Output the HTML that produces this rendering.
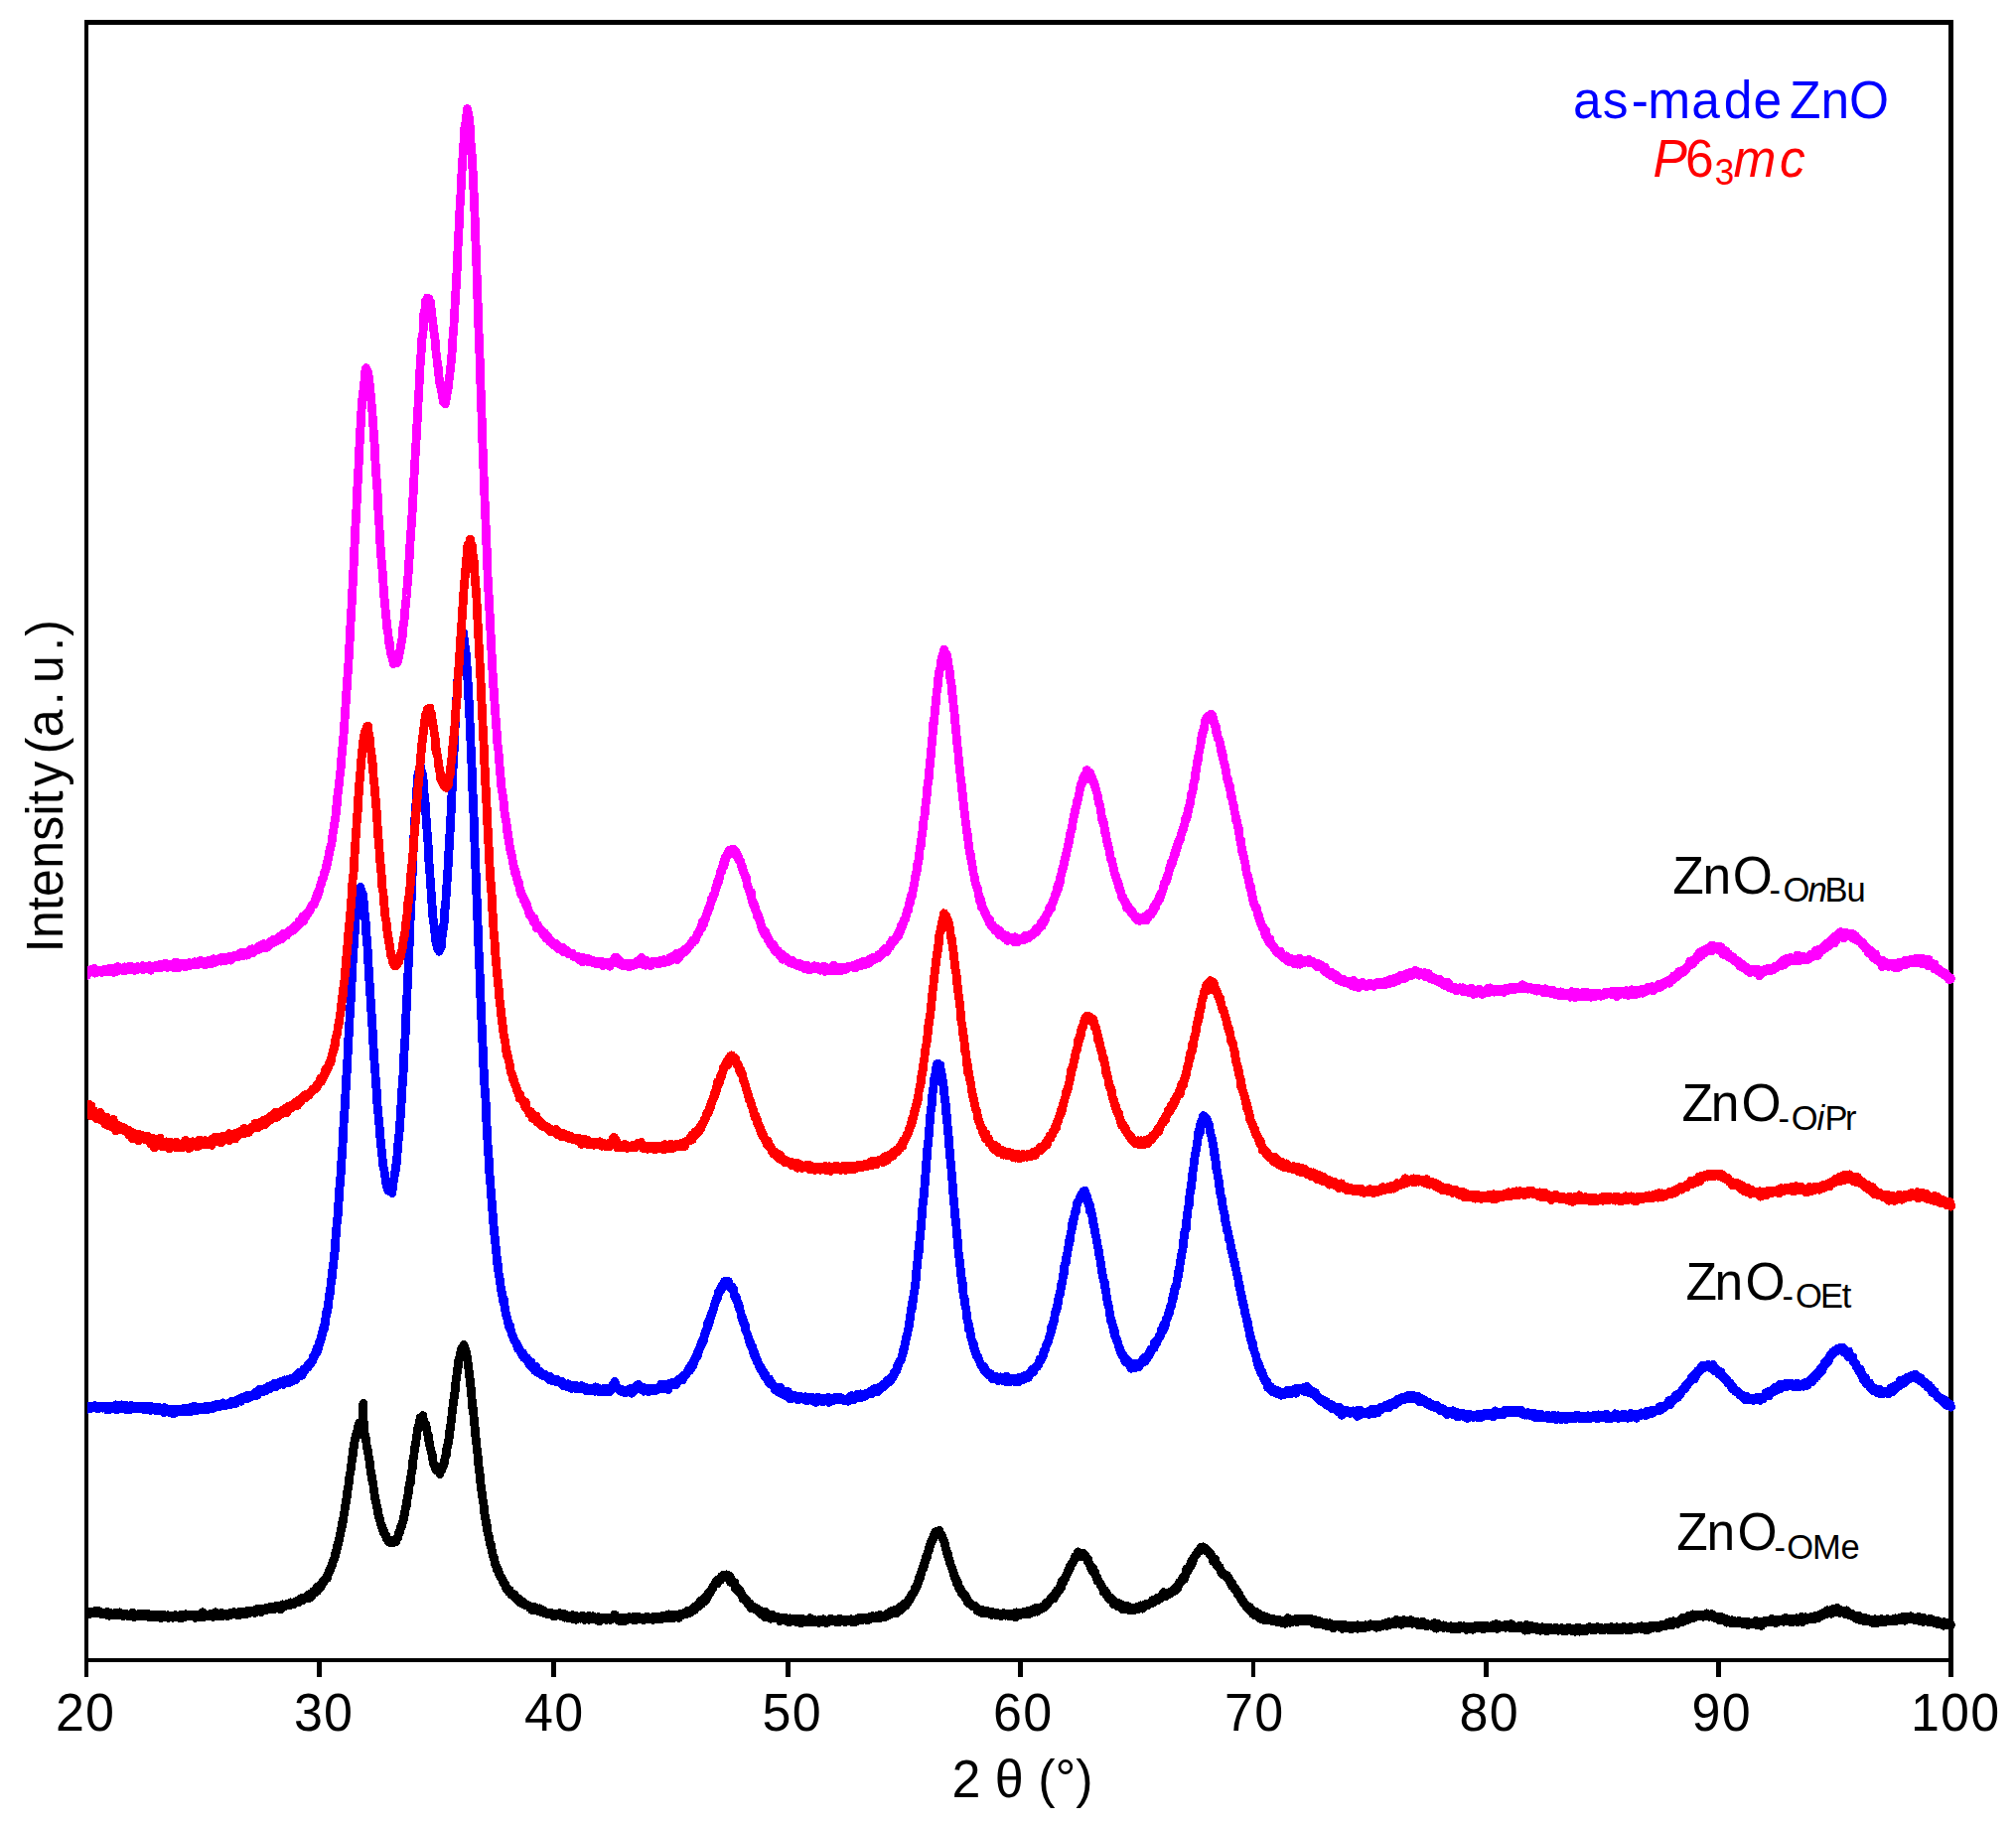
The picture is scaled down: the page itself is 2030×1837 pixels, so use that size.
<!DOCTYPE html>
<html lang="en"><head><meta charset="utf-8"><title>XRD as-made ZnO</title>
<style>
html,body{margin:0;padding:0;background:#fff}
svg{display:block}
text{font-family:"Liberation Sans",Arial,Helvetica,sans-serif;fill:#000}
.c{fill:none;stroke-width:8.8;stroke-linejoin:round;stroke-linecap:round}
</style></head><body>
<svg width="2030" height="1837" viewBox="0 0 2030 1837">
<rect width="2030" height="1837" fill="#fff"/>
<defs><clipPath id="cp"><rect x="88" y="0" width="1942" height="1837"/></clipPath></defs>
<g fill="#000" shape-rendering="crispEdges">
<rect x="85" y="20" width="1882" height="5"/>
<rect x="85" y="1670" width="1882" height="4"/>
<rect x="85" y="20" width="4" height="1669"/>
<rect x="1962" y="20" width="5" height="1669"/>
<rect x="319" y="1672" width="5" height="17"/>
<rect x="555" y="1672" width="5" height="17"/>
<rect x="791" y="1672" width="5" height="17"/>
<rect x="1025" y="1672" width="5" height="17"/>
<rect x="1260" y="1672" width="4" height="17"/>
<rect x="1494" y="1672" width="5" height="17"/>
<rect x="1728" y="1672" width="5" height="17"/>
</g>
<text transform="translate(86.0,1743.3) scale(1,1.02)" font-size="52" text-anchor="middle" letter-spacing="1.2">20</text>
<text transform="translate(326.0,1743.3) scale(1,1.02)" font-size="52" text-anchor="middle" letter-spacing="1.2">30</text>
<text transform="translate(558.2,1743.3) scale(1,1.02)" font-size="52" text-anchor="middle" letter-spacing="1.2">40</text>
<text transform="translate(797.7,1743.3) scale(1,1.02)" font-size="52" text-anchor="middle" letter-spacing="1.2">50</text>
<text transform="translate(1030.2,1743.3) scale(1,1.02)" font-size="52" text-anchor="middle" letter-spacing="1.2">60</text>
<text transform="translate(1263.2,1743.3) scale(1,1.02)" font-size="52" text-anchor="middle" letter-spacing="1.2">70</text>
<text transform="translate(1499.7,1743.3) scale(1,1.02)" font-size="52" text-anchor="middle" letter-spacing="1.2">80</text>
<text transform="translate(1733.7,1743.3) scale(1,1.02)" font-size="52" text-anchor="middle" letter-spacing="1.2">90</text>
<text transform="translate(1969.1,1743.3) scale(1,1.02)" font-size="52" text-anchor="middle" letter-spacing="1.2">100</text>
<text transform="translate(1029.5,1810) scale(1,1.04)" font-size="52" text-anchor="middle" xml:space="preserve">2 θ (°)</text>
<text transform="translate(62.5,791.5) rotate(-90) scale(1,1.04)" font-size="50" text-anchor="middle" letter-spacing="0.25" xml:space="preserve">Intensit<tspan dx="4.2">y</tspan><tspan dx="-6.8"> (a</tspan><tspan dx="4.1">.</tspan><tspan dx="-6.2"> u</tspan><tspan dx="4.2">.</tspan><tspan dx="1">)</tspan></text>
<text transform="translate(1584,118.5) scale(1,1.04)" font-size="51.5" text-anchor="start" style="fill:#00f"><tspan letter-spacing="1.2">as<tspan dx="2">-</tspan><tspan dx="-2">ma</tspan><tspan dx="2.7">de</tspan></tspan><tspan x="218" letter-spacing="0"> </tspan><tspan x="218">ZnO</tspan></text>
<text transform="translate(0,177.8) scale(1,1.04)" font-size="51.5" text-anchor="start" style="fill:#f00"><tspan x="1664.5" font-style="italic">P</tspan><tspan x="1697">6</tspan><tspan x="1726.8" font-size="35" dy="7.7">3</tspan><tspan x="1745.5" dy="-7.7" font-style="italic">m</tspan><tspan x="1792" font-style="italic">c</tspan></text>
<text transform="translate(0,899.8) scale(1,1.04)" font-size="51.5" text-anchor="start"><tspan x="1684.3">Z</tspan><tspan x="1714.6">n</tspan><tspan x="1744.8">O</tspan><tspan x="1781.6" font-size="34.5" dy="7.69">-</tspan><tspan x="1795.4" font-size="34.5">O</tspan><tspan x="1820.5" font-size="34.5" font-style="italic">n</tspan><tspan x="1837.6" font-size="34.5">B</tspan><tspan x="1859.6" font-size="34.5">u</tspan></text>
<text transform="translate(0,1128.75) scale(1,1.04)" font-size="51.5" text-anchor="start"><tspan x="1693.5">Z</tspan><tspan x="1722.7">n</tspan><tspan x="1753.6">O</tspan><tspan x="1790.5" font-size="34.5" dy="8.70">-</tspan><tspan x="1803.7" font-size="34.5">O</tspan><tspan x="1829.4" font-size="34.5" font-style="italic">i</tspan><tspan x="1837.6" font-size="34.5">P</tspan><tspan x="1857.9" font-size="34.5">r</tspan></text>
<text transform="translate(0,1308.75) scale(1,1.04)" font-size="51.5" text-anchor="start"><tspan x="1697.5">Z</tspan><tspan x="1726.6">n</tspan><tspan x="1757.5">O</tspan><tspan x="1794.4" font-size="34.5" dy="7.74">-</tspan><tspan x="1808.1" font-size="34.5">O</tspan><tspan x="1833.1" font-size="34.5">E</tspan><tspan x="1854.8" font-size="34.5">t</tspan></text>
<text transform="translate(0,1561) scale(1,1.04)" font-size="51.5" text-anchor="start"><tspan x="1688.3">Z</tspan><tspan x="1718.6">n</tspan><tspan x="1749.5">O</tspan><tspan x="1786.5" font-size="34.5" dy="8.56">-</tspan><tspan x="1799.2" font-size="34.5">O</tspan><tspan x="1825.1" font-size="34.5">M</tspan><tspan x="1853.5" font-size="34.5">e</tspan></text>
<g clip-path="url(#cp)" shape-rendering="crispEdges">
<path class="c" stroke="#000" d="M87,1624.0L87.5,1624.4 87.9,1623.8 88.4,1623.2 88.9,1623.7 89.3,1623.2 89.8,1624.3 90.3,1625.6 90.8,1623.8 91.2,1623.7 91.7,1624.8 92.2,1624.7 92.6,1624.5 93.1,1623.4 93.6,1624.4 94,1625.1 94.5,1623.1 95,1624 95.4,1622.6 95.9,1623.2 96.4,1622.7 96.9,1624.4 97.3,1623.3 97.8,1624.9 98.3,1624.8 98.7,1624.5 99.2,1622.2 99.7,1624.2 100.1,1624.7 100.6,1624.9 101.1,1623.3 101.6,1624.4 102,1623.9 102.5,1624.1 103,1626 103.4,1624.1 103.9,1624.9 104.4,1625.9 104.8,1624.4 105.3,1624.9 105.8,1625.2 106.2,1625.1 106.7,1623.9 107.2,1625.2 107.7,1626.5 108.1,1623.6 108.6,1626.1 109.1,1625.3 109.5,1624.6 110,1627.3 110.5,1626.1 110.9,1624.1 111.4,1625.4 111.9,1625.9 112.3,1625.2 112.8,1626.1 113.3,1625.4 113.8,1626.1 114.2,1626.9 114.7,1624.8 115.2,1625.7 115.6,1625.1 116.1,1625.7 116.6,1624.4 117,1625 117.5,1625.4 118,1626.6 118.4,1626.8 118.9,1624.4 119.4,1624.9 119.9,1626.4 120.3,1623.8 120.8,1625.3 121.3,1625.7 121.7,1627.1 122.2,1626.6 122.7,1625.6 123.1,1625.5 123.6,1625.7 124.1,1627.5 124.5,1625.5 125,1625.7 125.5,1626.4 126,1625.9 126.4,1625.9 126.9,1625 127.4,1626.1 127.8,1625.7 128.3,1627.3 128.8,1626.8 129.2,1626.2 129.7,1626.9 130.2,1625.9 130.7,1627.3 131.1,1626.3 131.6,1626.9 132.1,1625 132.5,1626.7 133,1624.7 133.5,1624.3 133.9,1626.1 134.4,1625.5 134.9,1626.6 135.3,1628.7 135.8,1625.6 136.3,1625.9 136.8,1626.7 137.2,1627 137.7,1626.4 138.2,1626.4 138.6,1627.3 139.1,1627.1 139.6,1625.6 140,1626.6 140.5,1626.7 141,1625.7 141.4,1627 141.9,1625.9 142.4,1627.8 142.9,1627 143.3,1626.9 143.8,1626.3 144.3,1626.8 144.7,1624.9 145.2,1625.8 145.7,1627.3 146.1,1624.9 146.6,1627.9 147.1,1625.3 147.5,1627.8 148,1626.2 148.5,1627.9 149,1627.3 149.4,1625.6 149.9,1628.4 150.4,1628.7 150.8,1627.2 151.3,1627 151.8,1627.1 152.2,1626.3 152.7,1628.4 153.2,1626.8 153.7,1627.3 154.1,1626.6 154.6,1626.8 155.1,1626.2 155.5,1628.7 156,1627.3 156.5,1628.5 156.9,1627.5 157.4,1626.9 157.9,1627.3 158.3,1627 158.8,1627.6 159.3,1627.3 159.8,1627.4 160.2,1626.3 160.7,1626.9 161.2,1629.4 161.6,1627.1 162.1,1626.7 162.6,1628.1 163,1629.2 163.5,1626.3 164,1627.6 164.4,1627.2 164.9,1626.1 165.4,1628.6 165.9,1627.9 166.3,1628 166.8,1627.1 167.3,1628.4 167.7,1627.4 168.2,1627.8 168.7,1626.8 169.1,1626.7 169.6,1629.3 170.1,1627.5 170.5,1628.3 171,1628 171.5,1627.6 172,1627.5 172.4,1628.6 172.9,1627.7 173.4,1627.9 173.8,1628 174.3,1629.2 174.8,1628.7 175.2,1628.4 175.7,1627.4 176.2,1626.6 176.7,1629 177.1,1629 177.6,1627.9 178.1,1628.5 178.5,1628.8 179,1628.8 179.5,1628.9 179.9,1627.5 180.4,1629.5 180.9,1626.7 181.3,1628.8 181.8,1628.4 182.3,1628.8 182.8,1629.8 183.2,1629.4 183.7,1626.7 184.2,1626.2 184.6,1628.7 185.1,1626.8 185.6,1627.8 186,1628.6 186.5,1626.1 187,1625.7 187.4,1628 187.9,1627.8 188.4,1627.5 188.9,1627.8 189.3,1626.8 189.8,1626.2 190.3,1627.5 190.7,1626.7 191.2,1626 191.7,1628.1 192.1,1627.5 192.6,1628 193.1,1626.6 193.5,1626.9 194,1626.5 194.5,1626.6 195,1627.7 195.4,1626.7 195.9,1627.8 196.4,1627.8 196.8,1629.5 197.3,1626 197.8,1628.3 198.2,1627.3 198.7,1627.3 199.2,1625.9 199.6,1626.9 200.1,1628 200.6,1627.2 201.1,1627.3 201.5,1627 202,1628.4 202.5,1627.2 202.9,1625 203.4,1626.5 203.9,1625.2 204.3,1623.8 204.8,1626.6 205.3,1628.4 205.8,1627.1 206.2,1625.9 206.7,1626.1 207.2,1628.1 207.6,1627.1 208.1,1627 208.6,1626.9 209,1626.9 209.5,1627.7 210,1627.4 210.4,1627 210.9,1625.7 211.4,1627.3 211.9,1626.1 212.3,1627.8 212.8,1625.4 213.3,1626.5 213.7,1626.6 214.2,1625.3 214.7,1628.3 215.1,1628 215.6,1626.1 216.1,1627.3 216.5,1626.9 217,1623.8 217.5,1626.7 218,1626.4 218.4,1626.5 218.9,1625.3 219.4,1626.1 219.8,1626.1 220.3,1627.5 220.8,1626.6 221.2,1626.2 221.7,1627.7 222.2,1625.6 222.6,1625.7 223.1,1624.3 223.6,1627.7 224.1,1627 224.5,1626.9 225,1626.7 225.5,1626.1 225.9,1626.1 226.4,1625.6 226.9,1625.7 227.3,1625.9 227.8,1627.3 228.3,1626.3 228.8,1625.7 229.2,1625.1 229.7,1625 230.2,1627.2 230.6,1626.1 231.1,1625.6 231.6,1625.2 232,1624.4 232.5,1625.4 233,1626.3 233.4,1625 233.9,1625.1 234.4,1625 234.9,1625.3 235.3,1623.6 235.8,1624.9 236.3,1624.2 236.7,1625.9 237.2,1624.2 237.7,1625.5 238.1,1626.4 238.6,1624.5 239.1,1624.2 239.5,1624.9 240,1624.7 240.5,1623.6 241,1625.1 241.4,1626.6 241.9,1624.2 242.4,1624.2 242.8,1623.3 243.3,1624.6 243.8,1623 244.2,1623.1 244.7,1625.4 245.2,1623.2 245.6,1625.1 246.1,1625.5 246.6,1624.2 247.1,1624.4 247.5,1625.8 248,1623.5 248.5,1623.1 248.9,1622.3 249.4,1623.6 249.9,1625 250.3,1624.4 250.8,1622.4 251.3,1622.4 251.8,1622.7 252.2,1623.5 252.7,1622.9 253.2,1623.3 253.6,1623.3 254.1,1622.6 254.6,1622.8 255,1623 255.5,1622.6 256,1623.2 256.4,1624.5 256.9,1623.1 257.4,1622.5 257.9,1620.7 258.3,1622.7 258.8,1620.3 259.3,1620.7 259.7,1622.9 260.2,1622.7 260.7,1621.8 261.1,1620.1 261.6,1621.4 262.1,1621 262.5,1622.3 263,1623.9 263.5,1621.7 264,1620.6 264.4,1620.2 264.9,1621.2 265.4,1621 265.8,1620 266.3,1621.2 266.8,1619.8 267.2,1622 267.7,1621.9 268.2,1621.8 268.6,1620.2 269.1,1621.1 269.6,1620.4 270.1,1620 270.5,1620 271,1618.9 271.5,1618.7 271.9,1620.9 272.4,1619.8 272.9,1620.2 273.3,1620.9 273.8,1618 274.3,1618.9 274.7,1619.8 275.2,1619.9 275.7,1619.1 276.2,1620.4 276.6,1619.5 277.1,1617.9 277.6,1618.1 278,1619.8 278.5,1619.4 279,1616.9 279.4,1620.1 279.9,1619.2 280.4,1619.9 280.9,1618 281.3,1618 281.8,1617.1 282.3,1620.7 282.7,1617.8 283.2,1619.5 283.7,1617.2 284.1,1617.9 284.6,1615.9 285.1,1617.1 285.5,1618.4 286,1616 286.5,1618.2 287,1617.4 287.4,1615.9 287.9,1616.3 288.4,1616.2 288.8,1616.5 289.3,1615.9 289.8,1615.5 290.2,1615.9 290.7,1615 291.2,1614.6 291.6,1615.7 292.1,1616.5 292.6,1613.9 293.1,1615.4 293.5,1614.5 294,1614.1 294.5,1615.8 294.9,1614.2 295.4,1616.1 295.9,1613.7 296.3,1614.7 296.8,1613.9 297.3,1613.2 297.7,1614.4 298.2,1613.5 298.7,1614.1 299.2,1613.2 299.6,1612 300.1,1612.8 300.6,1612.8 301,1613.5 301.5,1611.4 302,1612.1 302.4,1610.2 302.9,1612.4 303.4,1610.5 303.9,1609.5 304.3,1611.1 304.8,1612.1 305.3,1609.1 305.7,1609.4 306.2,1609.5 306.7,1608.8 307.1,1610.2 307.6,1608.7 308.1,1608.5 308.5,1609.6 309,1608 309.5,1608.9 310,1607.2 310.4,1606.7 310.9,1605.7 311.4,1609.3 311.8,1606.7 312.3,1607 312.8,1606.4 313.2,1606.3 313.7,1605.8 314.2,1607.4 314.6,1604 315.1,1603.1 315.6,1603.3 316.1,1602.6 316.5,1604.4 317,1604.1 317.5,1601.8 317.9,1601 318.4,1601.6 318.9,1603 319.3,1598.2 319.8,1601.2 320.3,1599.1 320.7,1600.8 321.2,1598.1 321.7,1598.4 322.2,1596.6 322.6,1596.6 323.1,1598.5 323.6,1597.3 324,1595.4 324.5,1594.3 325,1592.6 325.4,1593.5 325.9,1593.2 326.4,1592.4 326.9,1591.7 327.3,1589.9 327.8,1590.2 328.3,1589.4 328.7,1590 329.2,1589.8 329.7,1586.7 330.1,1585.1 330.6,1584.9 331.1,1583.4 331.5,1582.2 332,1581.9 332.5,1579.7 333,1580.4 333.4,1578.5 333.9,1577.6 334.4,1575.9 334.8,1574 335.3,1572.5 335.8,1571.8 336.2,1570.1 336.7,1569.4 337.2,1567.7 337.6,1564.6 338.1,1564.5 338.6,1561.3 339.1,1560.3 339.5,1558.9 340,1555 340.5,1555.5 340.9,1553.6 341.4,1551.2 341.9,1548.8 342.3,1546.6 342.8,1543.7 343.3,1542.2 343.7,1539.5 344.2,1537.8 344.7,1533.7 345.2,1532.8 345.6,1530 346.1,1527 346.6,1523.8 347,1522.1 347.5,1516.6 348,1516.1 348.4,1512.8 348.9,1509.7 349.4,1506.7 349.8,1502.2 350.3,1499.4 350.8,1497.2 351.3,1493.6 351.7,1490 352.2,1484.5 352.7,1483.6 353.1,1481 353.6,1477.4 354.1,1473.1 354.5,1467.6 355,1467.5 355.5,1462.9 356,1456.8 356.4,1457.4 356.9,1452.2 357.4,1449.7 357.8,1447.9 358.3,1447.8 358.8,1443.5 359.2,1442.2 359.7,1442.2 360.2,1440.4 360.6,1436.9 361.1,1435.5 361.6,1433.4 362.1,1433.5 362.5,1434.6 363,1434.4 363.5,1434.3 363.9,1435.9 364.4,1434.3 364.9,1436.2 365.3,1438.4 365.8,1413.4 366.3,1442 366.7,1443 367.2,1444.2 367.7,1447.3 368.2,1447.9 368.6,1449.7 369.1,1455.1 369.6,1457.1 370,1460.4 370.5,1460.8 371,1465.4 371.4,1468.2 371.9,1470.9 372.4,1472.2 372.8,1477.7 373.3,1482.2 373.8,1484.6 374.3,1486.5 374.7,1490.1 375.2,1494 375.7,1492.7 376.1,1498.7 376.6,1502.3 377.1,1505.1 377.5,1509 378,1510.9 378.5,1512.4 379,1514.8 379.4,1517.8 379.9,1518.5 380.4,1521.3 380.8,1524.5 381.3,1527.8 381.8,1527.3 382.2,1529.3 382.7,1531.5 383.2,1534.5 383.6,1534.6 384.1,1537.9 384.6,1536.6 385.1,1539 385.5,1540.3 386,1542.7 386.5,1544.2 386.9,1542.5 387.4,1544.2 387.9,1546.6 388.3,1546.4 388.8,1546.3 389.3,1550 389.7,1550.1 390.2,1550.7 390.7,1550.2 391.2,1552.4 391.6,1551.5 392.1,1553.3 392.6,1551.4 393,1551.7 393.5,1553.1 394,1552.2 394.4,1553.7 394.9,1553.3 395.4,1551.8 395.8,1552.8 396.3,1552.1 396.8,1553.2 397.3,1551.1 397.7,1550.9 398.2,1552.2 398.7,1552.8 399.1,1551.9 399.6,1549 400.1,1548.4 400.5,1549 401,1546.1 401.5,1544.1 402,1544.3 402.4,1543.4 402.9,1540.7 403.4,1538.4 403.8,1537.2 404.3,1538.1 404.8,1534.8 405.2,1533.8 405.7,1532.4 406.2,1531 406.6,1527.9 407.1,1526.8 407.6,1523 408.1,1521.3 408.5,1518.2 409,1518.3 409.5,1514.3 409.9,1510.8 410.4,1508.6 410.9,1505.9 411.3,1504.1 411.8,1498.3 412.3,1495.9 412.7,1493.5 413.2,1493.8 413.7,1488.6 414.2,1484 414.6,1481.6 415.1,1479.8 415.6,1473.5 416,1469.9 416.5,1468.4 417,1464.1 417.4,1460.9 417.9,1456.1 418.4,1455.9 418.8,1452.5 419.3,1448.1 419.8,1445.3 420.3,1439.2 420.7,1440 421.2,1436.7 421.7,1435.4 422.1,1433.9 422.6,1431 423.1,1428 423.5,1429.7 424,1427.5 424.5,1427.6 424.9,1427.2 425.4,1427.7 425.9,1425.6 426.4,1430.9 426.8,1430.6 427.3,1432.9 427.8,1435.5 428.2,1434.6 428.7,1434.1 429.2,1437.2 429.6,1438.9 430.1,1441.9 430.6,1444.9 431.1,1444.6 431.5,1449.9 432,1449.9 432.5,1454.6 432.9,1456.4 433.4,1458.4 433.9,1460.9 434.3,1462.5 434.8,1464.5 435.3,1465.2 435.7,1469.1 436.2,1473.2 436.7,1475.1 437.2,1475.8 437.6,1476.5 438.1,1476 438.6,1479.8 439,1479 439.5,1479.8 440,1480.3 440.4,1481.3 440.9,1481.1 441.4,1481.8 441.8,1480.7 442.3,1481.5 442.8,1484.6 443.3,1481.4 443.7,1480.7 444.2,1481 444.7,1480.5 445.1,1477.3 445.6,1477.3 446.1,1477.4 446.5,1475.2 447,1473.5 447.5,1473.6 447.9,1469 448.4,1467.9 448.9,1465 449.4,1465.2 449.8,1458.5 450.3,1457.5 450.8,1455 451.2,1453.7 451.7,1450.7 452.2,1448.6 452.6,1441.6 453.1,1441.3 453.6,1436.5 454.1,1432.5 454.5,1430.5 455,1424.9 455.5,1419.6 455.9,1418 456.4,1412.7 456.9,1409.9 457.3,1407.3 457.8,1403.3 458.3,1401.1 458.7,1394.9 459.2,1389.3 459.7,1386.6 460.2,1382.8 460.6,1378.9 461.1,1377.8 461.6,1373.1 462,1368.3 462.5,1369.1 463,1365.5 463.4,1363.9 463.9,1361.5 464.4,1360.5 464.8,1358.3 465.3,1358.9 465.8,1357.1 466.3,1356.7 466.7,1356.7 467.2,1354.5 467.7,1357 468.1,1358 468.6,1360.1 469.1,1359.7 469.5,1365.9 470,1366.3 470.5,1367.2 470.9,1369.6 471.4,1374.8 471.9,1378.6 472.4,1381.6 472.8,1386.6 473.3,1389.8 473.8,1395.7 474.2,1398.4 474.7,1403.9 475.2,1409.9 475.6,1416.7 476.1,1416.7 476.6,1422.2 477.1,1426.6 477.5,1433.5 478,1435.8 478.5,1441.4 478.9,1446.7 479.4,1450.2 479.9,1454.9 480.3,1460.1 480.8,1462.6 481.3,1467.9 481.7,1473.5 482.2,1478.5 482.7,1482.3 483.2,1484.5 483.6,1490.1 484.1,1495.5 484.6,1499.1 485,1502 485.5,1504.7 486,1510 486.4,1512 486.9,1514.7 487.4,1518.4 487.8,1524.2 488.3,1525.8 488.8,1529.9 489.3,1530.9 489.7,1535.3 490.2,1536.3 490.7,1539.4 491.1,1545 491.6,1545.5 492.1,1546.4 492.5,1549.2 493,1552 493.5,1555.1 493.9,1555.3 494.4,1555.9 494.9,1559.6 495.4,1561.8 495.8,1563.7 496.3,1566.9 496.8,1567.5 497.2,1569.7 497.7,1569.2 498.2,1572.9 498.6,1575.8 499.1,1575.8 499.6,1576.6 500,1577.9 500.5,1581 501,1579.3 501.5,1581.4 501.9,1583.2 502.4,1584.7 502.9,1584.5 503.3,1586.4 503.8,1586.9 504.3,1588.3 504.7,1589 505.2,1588.9 505.7,1591 506.2,1592.9 506.6,1591.8 507.1,1593.4 507.6,1595.2 508,1594.1 508.5,1596.2 509,1595.7 509.4,1598.7 509.9,1600.7 510.4,1601.1 510.8,1599.4 511.3,1601 511.8,1601 512.3,1601.6 512.7,1603.7 513.2,1601.3 513.7,1604.3 514.1,1603.7 514.6,1605.8 515.1,1605 515.5,1604.7 516,1606.2 516.5,1607.1 516.9,1606.9 517.4,1607.8 517.9,1607.2 518.4,1605.9 518.8,1609.6 519.3,1609.8 519.8,1609.6 520.2,1609.9 520.7,1611.3 521.2,1610.1 521.6,1610.3 522.1,1611.2 522.6,1613 523,1610.6 523.5,1613.7 524,1612.1 524.5,1612 524.9,1614.7 525.4,1613.6 525.9,1612.7 526.3,1614 526.8,1615.6 527.3,1616.2 527.7,1614.8 528.2,1615.9 528.7,1616.5 529.2,1615.4 529.6,1616.7 530.1,1616.5 530.6,1616.3 531,1616.6 531.5,1617.4 532,1617.6 532.4,1617.2 532.9,1617.6 533.4,1619.4 533.8,1618.7 534.3,1619.6 534.8,1620.1 535.3,1619.7 535.7,1621.7 536.2,1618.7 536.7,1620.6 537.1,1619.6 537.6,1622 538.1,1622 538.5,1618.5 539,1619.7 539.5,1621.5 539.9,1621.8 540.4,1622 540.9,1621.3 541.4,1622 541.8,1622.4 542.3,1621.8 542.8,1623.1 543.2,1619.9 543.7,1623 544.2,1621.4 544.6,1623.6 545.1,1622.5 545.6,1622 546,1623.4 546.5,1622.3 547,1622.4 547.5,1621.8 547.9,1623.6 548.4,1624.2 548.9,1624.9 549.3,1623.8 549.8,1625.2 550.3,1624.2 550.7,1624.2 551.2,1625 551.7,1625.6 552.2,1624.3 552.6,1624.5 553.1,1624.7 553.6,1625.1 554,1624.2 554.5,1626.2 555,1624.9 555.4,1625.9 555.9,1624.7 556.4,1626 556.8,1626.1 557.3,1625.4 557.8,1627.9 558.3,1626.3 558.7,1627.9 559.2,1627.1 559.7,1625.5 560.1,1625.9 560.6,1626.8 561.1,1626.5 561.5,1626.6 562,1626.3 562.5,1624.9 562.9,1626.6 563.4,1624.6 563.9,1627.3 564.4,1626.3 564.8,1626.3 565.3,1626.9 565.8,1627.5 566.2,1625.8 566.7,1625.6 567.2,1626.3 567.6,1625.4 568.1,1626.6 568.6,1629.2 569,1626.6 569.5,1628.4 570,1626.4 570.5,1628.1 570.9,1627.6 571.4,1627.9 571.9,1628.6 572.3,1629.8 572.8,1628.3 573.3,1628.3 573.7,1627.2 574.2,1628.9 574.7,1628.1 575.1,1629.2 575.6,1628.4 576.1,1630.2 576.6,1626.5 577,1628.3 577.5,1629.5 578,1628.3 578.4,1627.9 578.9,1628.5 579.4,1627.4 579.8,1628.9 580.3,1631.3 580.8,1630.1 581.3,1627.8 581.7,1628.1 582.2,1628.6 582.7,1630.1 583.1,1628.2 583.6,1628.4 584.1,1630 584.5,1630.1 585,1628.8 585.5,1628.1 585.9,1627.7 586.4,1628.6 586.9,1627.1 587.4,1630.1 587.8,1628.8 588.3,1629.9 588.8,1631.4 589.2,1630.7 589.7,1628.4 590.2,1630.4 590.6,1630.7 591.1,1628.8 591.6,1628.7 592,1629.5 592.5,1628 593,1631.2 593.5,1627.3 593.9,1628.6 594.4,1629.5 594.9,1629.6 595.3,1630 595.8,1630.1 596.3,1629.6 596.7,1631 597.2,1627.7 597.7,1629.9 598.1,1629.2 598.6,1630.1 599.1,1630.2 599.6,1629.1 600,1629.3 600.5,1630.8 601,1630.4 601.4,1629.4 601.9,1632.1 602.4,1632.4 602.8,1628.6 603.3,1630.4 603.8,1632.7 604.3,1630.9 604.7,1630.4 605.2,1629.9 605.7,1629.6 606.1,1630 606.6,1629.6 607.1,1631 607.5,1629.8 608,1629.8 608.5,1629 608.9,1630.2 609.4,1629.3 609.9,1630.1 610.4,1631.3 610.8,1630.6 611.3,1630.8 611.8,1630.7 612.2,1630.4 612.7,1630.2 613.2,1630 613.6,1631.1 614.1,1629.2 614.6,1631.6 615,1630.2 615.5,1629.3 616,1629.4 616.5,1628.9 616.9,1629.4 617.4,1628.2 617.9,1629.8 618.3,1627.6 618.8,1626.1 619.3,1627.8 619.7,1626.7 620.2,1629.1 620.7,1630.5 621.1,1630.4 621.6,1628.7 622.1,1629.4 622.6,1632.1 623,1630.7 623.5,1630.4 624,1631.5 624.4,1632.9 624.9,1631.7 625.4,1630.5 625.8,1630.8 626.3,1631 626.8,1629.8 627.3,1629.3 627.7,1630.4 628.2,1629.4 628.7,1630.3 629.1,1630.5 629.6,1632.7 630.1,1629.5 630.5,1630.2 631,1630.2 631.5,1630.8 631.9,1631.4 632.4,1629.9 632.9,1629.5 633.4,1628.7 633.8,1629.4 634.3,1630.9 634.8,1630.4 635.2,1629.3 635.7,1629.9 636.2,1630.3 636.6,1630.8 637.1,1629.7 637.6,1630 638,1628.5 638.5,1629.1 639,1631.9 639.5,1628.1 639.9,1629.9 640.4,1630.5 640.9,1629.9 641.3,1629.4 641.8,1630.2 642.3,1630.2 642.7,1630.1 643.2,1628.3 643.7,1630 644.1,1629.3 644.6,1629.6 645.1,1630.4 645.6,1630.8 646,1631 646.5,1629.6 647,1631 647.4,1631.3 647.9,1631.2 648.4,1631.5 648.8,1629.9 649.3,1629.8 649.8,1630.8 650.2,1628.6 650.7,1630.2 651.2,1629.4 651.7,1629.6 652.1,1628.2 652.6,1629 653.1,1629.9 653.5,1630.8 654,1630.9 654.5,1629.8 654.9,1629.6 655.4,1629 655.9,1630.2 656.4,1629.5 656.8,1630.3 657.3,1631.5 657.8,1629.6 658.2,1628.1 658.7,1628.8 659.2,1628.1 659.6,1628.4 660.1,1630.9 660.6,1629.7 661,1627.9 661.5,1630.1 662,1630.7 662.5,1629 662.9,1628.7 663.4,1629 663.9,1629.6 664.3,1629.9 664.8,1630.4 665.3,1630.4 665.7,1630.3 666.2,1630.5 666.7,1629.7 667.1,1627.5 667.6,1628.8 668.1,1629.2 668.6,1628.5 669,1629.8 669.5,1628.4 670,1627.8 670.4,1630.1 670.9,1629.3 671.4,1628.8 671.8,1629.5 672.3,1629.5 672.8,1628.8 673.2,1625.9 673.7,1627.6 674.2,1627.8 674.7,1627.2 675.1,1628.3 675.6,1629.2 676.1,1627.5 676.5,1626.7 677,1629.9 677.5,1627.3 677.9,1626.4 678.4,1627.8 678.9,1627.9 679.4,1626.7 679.8,1628.1 680.3,1626.7 680.8,1626.2 681.2,1627.2 681.7,1627.7 682.2,1626.2 682.6,1627.1 683.1,1626.5 683.6,1629.4 684,1625.7 684.5,1627.7 685,1626.1 685.5,1625.9 685.9,1626.6 686.4,1626.7 686.9,1626.9 687.3,1625.8 687.8,1624.7 688.3,1624.6 688.7,1625.5 689.2,1625.4 689.7,1626.1 690.1,1624.9 690.6,1625.4 691.1,1625.7 691.6,1624.1 692,1622.2 692.5,1622.3 693,1621.9 693.4,1624.8 693.9,1622 694.4,1623.9 694.8,1623 695.3,1624 695.8,1623 696.2,1621.6 696.7,1621.2 697.2,1621.3 697.7,1621.1 698.1,1620.1 698.6,1620.3 699.1,1621.7 699.5,1617.9 700,1619.6 700.5,1618.1 700.9,1618.9 701.4,1619.2 701.9,1617.9 702.4,1618.4 702.8,1615.6 703.3,1618 703.8,1615.8 704.2,1616.6 704.7,1615.8 705.2,1612.5 705.6,1613.9 706.1,1614.5 706.6,1615.4 707,1613.6 707.5,1613.1 708,1610.8 708.5,1613.3 708.9,1613.1 709.4,1610.7 709.9,1609.9 710.3,1607.9 710.8,1609.9 711.3,1611.2 711.7,1608.6 712.2,1608.5 712.7,1607.2 713.1,1604.9 713.6,1606.7 714.1,1603.4 714.6,1603.8 715,1603.7 715.5,1603.6 716,1602.5 716.4,1601.8 716.9,1599.9 717.4,1598.6 717.8,1599.4 718.3,1597.9 718.8,1596.6 719.2,1595.9 719.7,1596.1 720.2,1594 720.7,1593.9 721.1,1592.9 721.6,1594.2 722.1,1593.9 722.5,1595 723,1590.7 723.5,1591 723.9,1592.2 724.4,1590.5 724.9,1589.9 725.3,1591.6 725.8,1589 726.3,1587.8 726.8,1587.3 727.2,1588.8 727.7,1588.5 728.2,1586.5 728.6,1586.7 729.1,1588.3 729.6,1588.3 730,1586.9 730.5,1588.3 731,1588.3 731.5,1585.9 731.9,1587.7 732.4,1588.7 732.9,1587.9 733.3,1586.5 733.8,1588.8 734.3,1590.3 734.7,1591.6 735.2,1588 735.7,1593.7 736.1,1590.1 736.6,1592.9 737.1,1593.8 737.6,1594.1 738,1593.8 738.5,1593 739,1595.6 739.4,1594.8 739.9,1593.6 740.4,1599.9 740.8,1598.4 741.3,1600.2 741.8,1598 742.2,1601.3 742.7,1602.1 743.2,1602.7 743.7,1601.8 744.1,1601.2 744.6,1603 745.1,1601.5 745.5,1602.7 746,1605.3 746.5,1604.8 746.9,1606.3 747.4,1607 747.9,1609.8 748.3,1609.8 748.8,1609 749.3,1610.9 749.8,1609.4 750.2,1610.5 750.7,1612.3 751.2,1610.6 751.6,1612.2 752.1,1611.6 752.6,1613.7 753,1615.7 753.5,1613.8 754,1615.3 754.5,1614.6 754.9,1614.8 755.4,1615.1 755.9,1618.4 756.3,1619.7 756.8,1618.2 757.3,1617.4 757.7,1619.3 758.2,1618.6 758.7,1620.1 759.1,1620 759.6,1620.3 760.1,1621 760.6,1620.1 761,1620.6 761.5,1619.6 762,1621.2 762.4,1620.5 762.9,1622.1 763.4,1621.6 763.8,1622.9 764.3,1623.6 764.8,1621.9 765.2,1622.8 765.7,1622.9 766.2,1624.9 766.7,1626.1 767.1,1625.4 767.6,1624.4 768.1,1626.5 768.5,1623.7 769,1627 769.5,1625 769.9,1623 770.4,1628.7 770.9,1627.8 771.3,1625.3 771.8,1626.7 772.3,1626.5 772.8,1627 773.2,1625.5 773.7,1626.5 774.2,1627.8 774.6,1627.7 775.1,1628.8 775.6,1627.8 776,1630.3 776.5,1627.3 777,1628.4 777.5,1626.3 777.9,1627.1 778.4,1629.8 778.9,1627.6 779.3,1629.2 779.8,1628.8 780.3,1627.9 780.7,1628.7 781.2,1628.6 781.7,1628.7 782.1,1630.1 782.6,1630.1 783.1,1628.9 783.6,1628.7 784,1629.9 784.5,1629.6 785,1630.9 785.4,1632.6 785.9,1630.8 786.4,1630 786.8,1629.9 787.3,1629.3 787.8,1629.3 788.2,1629.3 788.7,1630 789.2,1630 789.7,1631.3 790.1,1630.2 790.6,1630.4 791.1,1629.5 791.5,1632.4 792,1631.3 792.5,1632.7 792.9,1631.7 793.4,1632.5 793.9,1630.8 794.3,1631.8 794.8,1633.8 795.3,1629.9 795.8,1632.4 796.2,1633 796.7,1631.7 797.2,1632.1 797.6,1632.7 798.1,1630.7 798.6,1631.9 799,1630.6 799.5,1630.8 800,1630.9 800.4,1631.5 800.9,1631.8 801.4,1632.1 801.9,1630.2 802.3,1633.8 802.8,1633 803.3,1632.5 803.7,1631.5 804.2,1631.8 804.7,1632.5 805.1,1632.3 805.6,1630.2 806.1,1632.7 806.6,1635 807,1630.1 807.5,1633.1 808,1632.4 808.4,1632 808.9,1633.5 809.4,1630.9 809.8,1632.3 810.3,1633.7 810.8,1632 811.2,1631.8 811.7,1632.3 812.2,1631.8 812.7,1633.9 813.1,1631.3 813.6,1633.2 814.1,1631 814.5,1633 815,1632.2 815.5,1629.7 815.9,1632.4 816.4,1631.3 816.9,1631.9 817.3,1634 817.8,1631.2 818.3,1631.3 818.8,1633.9 819.2,1632.6 819.7,1634 820.2,1632.8 820.6,1631.5 821.1,1632.4 821.6,1633.7 822,1633.5 822.5,1632.5 823,1632.5 823.4,1632.4 823.9,1631.9 824.4,1634.5 824.9,1632.5 825.3,1631.3 825.8,1632 826.3,1633.3 826.7,1633.2 827.2,1632.4 827.7,1631.8 828.1,1632.6 828.6,1630.8 829.1,1631.2 829.6,1633.4 830,1632 830.5,1632.9 831,1633.8 831.4,1633.2 831.9,1632.5 832.4,1634.7 832.8,1633.2 833.3,1632.1 833.8,1633.3 834.2,1632.9 834.7,1631.6 835.2,1632.6 835.7,1632.3 836.1,1630.4 836.6,1632.3 837.1,1632.2 837.5,1632 838,1630.8 838.5,1632.1 838.9,1632.4 839.4,1632.5 839.9,1631.3 840.3,1633.1 840.8,1631.1 841.3,1632.2 841.8,1633.7 842.2,1631.7 842.7,1631.8 843.2,1633.5 843.6,1631.9 844.1,1632 844.6,1632.5 845,1633.4 845.5,1630 846,1631.4 846.4,1631.2 846.9,1631.1 847.4,1631.3 847.9,1631.3 848.3,1632.5 848.8,1631.3 849.3,1632.3 849.7,1632.6 850.2,1631.4 850.7,1632.2 851.1,1633.8 851.6,1632.4 852.1,1631.4 852.6,1632 853,1631.1 853.5,1632.3 854,1632.8 854.4,1631.1 854.9,1631.7 855.4,1633 855.8,1631.3 856.3,1632 856.8,1630.7 857.2,1630.9 857.7,1631.2 858.2,1633.9 858.7,1631.3 859.1,1631.1 859.6,1631.1 860.1,1631.4 860.5,1632.2 861,1631.7 861.5,1633.6 861.9,1631.7 862.4,1632.9 862.9,1631.7 863.3,1632 863.8,1629.9 864.3,1631.2 864.8,1631.2 865.2,1631 865.7,1629 866.2,1632 866.6,1630.7 867.1,1630.6 867.6,1630.7 868,1630.7 868.5,1631.3 869,1629.6 869.4,1629.9 869.9,1631.1 870.4,1630.9 870.9,1630.3 871.3,1630 871.8,1629.7 872.3,1630.4 872.7,1631.6 873.2,1629.3 873.7,1631.9 874.1,1631.1 874.6,1629.8 875.1,1631 875.5,1628.6 876,1628.3 876.5,1628.7 877,1629.5 877.4,1629.5 877.9,1629.2 878.4,1629.8 878.8,1627.5 879.3,1630.1 879.8,1628 880.2,1628.7 880.7,1628.9 881.2,1628.1 881.7,1627.8 882.1,1628.1 882.6,1629 883.1,1629.5 883.5,1629.4 884,1627.7 884.5,1627.8 884.9,1627.6 885.4,1628.9 885.9,1626.3 886.3,1629.5 886.8,1627.6 887.3,1627.2 887.8,1628.3 888.2,1628.8 888.7,1628 889.2,1628.6 889.6,1627.6 890.1,1628.6 890.6,1628.5 891,1627 891.5,1628.4 892,1627 892.4,1626.7 892.9,1625.6 893.4,1626.1 893.9,1627 894.3,1624.7 894.8,1626.5 895.3,1626.1 895.7,1625.8 896.2,1623.1 896.7,1625.1 897.1,1625.7 897.6,1624 898.1,1624.7 898.5,1622 899,1624.9 899.5,1623.3 900,1624.7 900.4,1621.7 900.9,1624 901.4,1622.9 901.8,1623.7 902.3,1621.6 902.8,1621.7 903.2,1624.4 903.7,1620.9 904.2,1620.8 904.7,1620.9 905.1,1619.8 905.6,1621.8 906.1,1622 906.5,1619.2 907,1617.8 907.5,1620.4 907.9,1620 908.4,1619.3 908.9,1619.2 909.3,1616.7 909.8,1617 910.3,1615.3 910.8,1614.8 911.2,1616.8 911.7,1614.6 912.2,1617.2 912.6,1614.4 913.1,1613.1 913.6,1614.1 914,1614.5 914.5,1612.6 915,1610.2 915.4,1611.2 915.9,1611.6 916.4,1608.9 916.9,1608 917.3,1609.1 917.8,1607.4 918.3,1605.4 918.7,1605.3 919.2,1604.1 919.7,1604.4 920.1,1603.3 920.6,1603.5 921.1,1602.1 921.5,1598.7 922,1599.8 922.5,1599.3 923,1597.8 923.4,1597.3 923.9,1594.5 924.4,1593 924.8,1593.8 925.3,1590.5 925.8,1588.1 926.2,1590.2 926.7,1587.1 927.2,1586.2 927.7,1583.6 928.1,1582.3 928.6,1581.1 929.1,1580.5 929.5,1579.9 930,1575.5 930.5,1577.3 930.9,1573.7 931.4,1572.2 931.9,1572.6 932.3,1570.2 932.8,1567 933.3,1569.2 933.8,1564.6 934.2,1564.2 934.7,1562.6 935.2,1562.4 935.6,1558.8 936.1,1558.9 936.6,1555.5 937,1556.1 937.5,1552.6 938,1551.7 938.4,1553 938.9,1550 939.4,1548.6 939.9,1550 940.3,1546.9 940.8,1544.7 941.3,1545.7 941.7,1542.9 942.2,1545 942.7,1544.6 943.1,1542.3 943.6,1542.1 944.1,1542.9 944.5,1542.8 945,1541.9 945.5,1543.9 946,1541.4 946.4,1543.8 946.9,1544.5 947.4,1545.4 947.8,1546.9 948.3,1546.1 948.8,1549.2 949.2,1549.5 949.7,1550.1 950.2,1550.6 950.6,1552.1 951.1,1555.3 951.6,1555.2 952.1,1557.8 952.5,1560.5 953,1562 953.5,1564.1 953.9,1563.6 954.4,1564.3 954.9,1568.2 955.3,1568.9 955.8,1571.4 956.3,1571.7 956.8,1574.6 957.2,1575.7 957.7,1577.1 958.2,1578.3 958.6,1579.7 959.1,1580.9 959.6,1582.3 960,1584.6 960.5,1584.3 961,1588 961.4,1587.4 961.9,1589.8 962.4,1589.9 962.9,1590.9 963.3,1594.5 963.8,1593.2 964.3,1593.3 964.7,1594.9 965.2,1596.4 965.7,1600.1 966.1,1599 966.6,1600.7 967.1,1599.6 967.5,1602 968,1603.2 968.5,1605.2 969,1603.4 969.4,1605.6 969.9,1606 970.4,1605.4 970.8,1607.2 971.3,1607.6 971.8,1606.1 972.2,1609.8 972.7,1610.4 973.2,1610 973.6,1609.7 974.1,1613.2 974.6,1612.5 975.1,1613.8 975.5,1614.7 976,1613.2 976.5,1615 976.9,1614.4 977.4,1615 977.9,1615.5 978.3,1616 978.8,1617.5 979.3,1616.9 979.8,1617 980.2,1617.2 980.7,1618.2 981.2,1617.2 981.6,1618 982.1,1618.7 982.6,1618.5 983,1619.3 983.5,1619 984,1622 984.4,1621.6 984.9,1620.9 985.4,1620.7 985.9,1623.2 986.3,1621.5 986.8,1621.3 987.3,1621.9 987.7,1622.1 988.2,1623.4 988.7,1622.2 989.1,1624.5 989.6,1621.6 990.1,1623.4 990.5,1621.9 991,1624.9 991.5,1622.9 992,1623.3 992.4,1624.4 992.9,1624.9 993.4,1622.6 993.8,1623.5 994.3,1622.6 994.8,1624.3 995.2,1624.2 995.7,1624 996.2,1623.8 996.6,1624.2 997.1,1623.9 997.6,1625.3 998.1,1626.4 998.5,1623 999,1624.9 999.5,1624.7 999.9,1625.7 1000.4,1624.3 1000.9,1625.2 1001.3,1624.4 1001.8,1626.2 1002.3,1625.7 1002.8,1625.4 1003.2,1626 1003.7,1625.5 1004.2,1624.2 1004.6,1626.4 1005.1,1626.2 1005.6,1625.8 1006,1627 1006.5,1627.2 1007,1624.9 1007.4,1625.3 1007.9,1627.7 1008.4,1627.6 1008.9,1625.4 1009.3,1625 1009.8,1625.6 1010.3,1625.7 1010.7,1624.6 1011.2,1626.3 1011.7,1625 1012.1,1625.1 1012.6,1627.2 1013.1,1625.6 1013.5,1626.2 1014,1627 1014.5,1627.1 1015,1626 1015.4,1626.4 1015.9,1625.5 1016.4,1628.1 1016.8,1627 1017.3,1625.2 1017.8,1626.3 1018.2,1627 1018.7,1626.7 1019.2,1628.1 1019.6,1627.6 1020.1,1625.6 1020.6,1626.1 1021.1,1624.8 1021.5,1626.4 1022,1626.2 1022.5,1628.8 1022.9,1626.1 1023.4,1623.8 1023.9,1625.2 1024.3,1626 1024.8,1624.6 1025.3,1624.9 1025.7,1625.4 1026.2,1626 1026.7,1625.5 1027.2,1624.7 1027.6,1626.3 1028.1,1624.9 1028.6,1624.9 1029,1623.9 1029.5,1624.5 1030,1625.8 1030.4,1623.5 1030.9,1625 1031.4,1625.7 1031.9,1624.5 1032.3,1625 1032.8,1623.5 1033.3,1625.9 1033.7,1625.6 1034.2,1624.6 1034.7,1622.5 1035.1,1623.1 1035.6,1625.1 1036.1,1625.7 1036.5,1624.1 1037,1625 1037.5,1623 1038,1623.2 1038.4,1623.3 1038.9,1623.6 1039.4,1621.4 1039.8,1623.8 1040.3,1624.1 1040.8,1621.4 1041.2,1621 1041.7,1622.6 1042.2,1621.4 1042.6,1619.4 1043.1,1622.5 1043.6,1621.6 1044.1,1620.8 1044.5,1623.2 1045,1621 1045.5,1619.8 1045.9,1620.5 1046.4,1619.1 1046.9,1619.1 1047.3,1620 1047.8,1618.8 1048.3,1618.7 1048.7,1620.6 1049.2,1619.4 1049.7,1619.1 1050.2,1618.5 1050.6,1618.1 1051.1,1618.8 1051.6,1617 1052,1618.6 1052.5,1615.3 1053,1615.7 1053.4,1614.1 1053.9,1614.8 1054.4,1615.3 1054.9,1615.9 1055.3,1613.3 1055.8,1613.5 1056.3,1612.7 1056.7,1611.9 1057.2,1610.9 1057.7,1611.7 1058.1,1609.4 1058.6,1610.8 1059.1,1610.2 1059.5,1608.9 1060,1608 1060.5,1607 1061,1609.9 1061.4,1605.9 1061.9,1608.3 1062.4,1606.7 1062.8,1605 1063.3,1603.5 1063.8,1605.2 1064.2,1605.2 1064.7,1601.7 1065.2,1601.7 1065.6,1602.3 1066.1,1600.8 1066.6,1601.8 1067.1,1598.3 1067.5,1598.7 1068,1596 1068.5,1598.7 1068.9,1594.8 1069.4,1592.4 1069.9,1593.7 1070.3,1592.8 1070.8,1594.1 1071.3,1590.8 1071.7,1590.2 1072.2,1589.9 1072.7,1590 1073.2,1587.3 1073.6,1587.5 1074.1,1586 1074.6,1584.1 1075,1583.5 1075.5,1582.5 1076,1580.5 1076.4,1581.8 1076.9,1578 1077.4,1579.8 1077.9,1578.7 1078.3,1576.6 1078.8,1574.9 1079.3,1574.6 1079.7,1574.4 1080.2,1573.9 1080.7,1572.5 1081.1,1572.5 1081.6,1570 1082.1,1570.1 1082.5,1567.4 1083,1569.3 1083.5,1568 1084,1566.8 1084.4,1568.1 1084.9,1567.1 1085.4,1562.8 1085.8,1565.6 1086.3,1563.6 1086.8,1566.2 1087.2,1567.6 1087.7,1564.1 1088.2,1564.8 1088.6,1564.4 1089.1,1565.2 1089.6,1565.6 1090.1,1566.6 1090.5,1564.3 1091,1567.5 1091.5,1565.1 1091.9,1566.9 1092.4,1568.3 1092.9,1568.4 1093.3,1567.2 1093.8,1568.1 1094.3,1569 1094.7,1570.2 1095.2,1572.3 1095.7,1570.4 1096.2,1573.2 1096.6,1574.2 1097.1,1575 1097.6,1575.8 1098,1577.9 1098.5,1577.7 1099,1579 1099.4,1579.7 1099.9,1582 1100.4,1578.9 1100.8,1583.4 1101.3,1582.7 1101.8,1583.6 1102.3,1583.8 1102.7,1583.8 1103.2,1586.4 1103.7,1587 1104.1,1589.3 1104.6,1588.1 1105.1,1592.1 1105.5,1591.8 1106,1592.1 1106.5,1592.5 1107,1593.3 1107.4,1593.8 1107.9,1595.3 1108.4,1596.7 1108.8,1597.3 1109.3,1596.8 1109.8,1598.8 1110.2,1598.9 1110.7,1600.8 1111.2,1603.3 1111.6,1602.7 1112.1,1602.4 1112.6,1601.7 1113.1,1602.6 1113.5,1603 1114,1606.1 1114.5,1605.2 1114.9,1606.6 1115.4,1606.5 1115.9,1607.8 1116.3,1609.7 1116.8,1608.1 1117.3,1609 1117.7,1609 1118.2,1611.2 1118.7,1609.7 1119.2,1610.1 1119.6,1610.2 1120.1,1610.6 1120.6,1613 1121,1615.6 1121.5,1612.3 1122,1614.7 1122.4,1614.3 1122.9,1613.2 1123.4,1614.4 1123.8,1614.8 1124.3,1614.6 1124.8,1617.7 1125.3,1614 1125.7,1616.6 1126.2,1616.8 1126.7,1616.1 1127.1,1617.1 1127.6,1618.1 1128.1,1617.6 1128.5,1618.1 1129,1618.6 1129.5,1615.9 1130,1619.8 1130.4,1620.8 1130.9,1619.6 1131.4,1619.8 1131.8,1617.4 1132.3,1618.9 1132.8,1618.3 1133.2,1618.6 1133.7,1620.3 1134.2,1618.6 1134.6,1619.4 1135.1,1617.6 1135.6,1619.5 1136.1,1619.8 1136.5,1619.1 1137,1619.1 1137.5,1621.8 1137.9,1618.7 1138.4,1618.9 1138.9,1619.1 1139.3,1621.2 1139.8,1622.1 1140.3,1620.3 1140.7,1619.2 1141.2,1619.5 1141.7,1621 1142.2,1618.9 1142.6,1621.3 1143.1,1621.2 1143.6,1619.8 1144,1620.3 1144.5,1620.3 1145,1621.1 1145.4,1618.3 1145.9,1620.5 1146.4,1618.8 1146.8,1618.3 1147.3,1619.1 1147.8,1618.6 1148.3,1617.7 1148.7,1616.9 1149.2,1617.5 1149.7,1619.8 1150.1,1620.2 1150.6,1618.6 1151.1,1619 1151.5,1617.1 1152,1617.4 1152.5,1617.5 1153,1615.9 1153.4,1615.8 1153.9,1616.7 1154.4,1616.1 1154.8,1615.1 1155.3,1616.4 1155.8,1615.5 1156.2,1616.6 1156.7,1615.3 1157.2,1614.7 1157.6,1614.9 1158.1,1614.4 1158.6,1613.6 1159.1,1613.6 1159.5,1614.6 1160,1614.2 1160.5,1614.6 1160.9,1611.2 1161.4,1612.3 1161.9,1612.1 1162.3,1612.4 1162.8,1611.5 1163.3,1611.2 1163.7,1612.3 1164.2,1611.4 1164.7,1609.7 1165.2,1612.1 1165.6,1611.5 1166.1,1609.6 1166.6,1610.8 1167,1608.9 1167.5,1610.7 1168,1609 1168.4,1608.2 1168.9,1608.4 1169.4,1607.7 1169.8,1608.5 1170.3,1608.3 1170.8,1607.9 1171.3,1607.1 1171.7,1603.6 1172.2,1607.3 1172.7,1605 1173.1,1607 1173.6,1607.7 1174.1,1606.6 1174.5,1605.7 1175,1605.7 1175.5,1605.5 1175.9,1604.8 1176.4,1604.5 1176.9,1603.8 1177.4,1605.8 1177.8,1604.3 1178.3,1605 1178.8,1603.4 1179.2,1603.4 1179.7,1602.9 1180.2,1603.2 1180.6,1603.2 1181.1,1602.2 1181.6,1600.9 1182.1,1600.4 1182.5,1602.5 1183,1600 1183.5,1599.6 1183.9,1601 1184.4,1600.1 1184.9,1599 1185.3,1597.5 1185.8,1599.9 1186.3,1597.3 1186.7,1596.9 1187.2,1595.5 1187.7,1593.5 1188.2,1593 1188.6,1594.2 1189.1,1593.5 1189.6,1592.2 1190,1590.4 1190.5,1589.4 1191,1589.9 1191.4,1587.9 1191.9,1589.7 1192.4,1589.2 1192.8,1590.2 1193.3,1587.2 1193.8,1584.8 1194.3,1583.6 1194.7,1579.9 1195.2,1582.1 1195.7,1581.7 1196.1,1582.1 1196.6,1580.8 1197.1,1579.8 1197.5,1578.5 1198,1578 1198.5,1578 1198.9,1574.3 1199.4,1574 1199.9,1572 1200.4,1574.5 1200.8,1573.2 1201.3,1571.7 1201.8,1568.7 1202.2,1569.3 1202.7,1568 1203.2,1567.6 1203.6,1566.5 1204.1,1566.5 1204.6,1564.7 1205.1,1565.4 1205.5,1564.1 1206,1562.9 1206.5,1562.5 1206.9,1561.6 1207.4,1562.5 1207.9,1560.9 1208.3,1561.1 1208.8,1560 1209.3,1558.5 1209.7,1561 1210.2,1558.7 1210.7,1560.5 1211.2,1560.2 1211.6,1557.8 1212.1,1558.7 1212.6,1559.3 1213,1559.1 1213.5,1559 1214,1561.4 1214.4,1560.6 1214.9,1561.7 1215.4,1561.2 1215.8,1562.5 1216.3,1561.8 1216.8,1563.2 1217.3,1564.4 1217.7,1564.4 1218.2,1564.5 1218.7,1564.4 1219.1,1566.5 1219.6,1567.4 1220.1,1567.4 1220.5,1567.6 1221,1569.7 1221.5,1572.6 1221.9,1570.3 1222.4,1571.7 1222.9,1572.5 1223.4,1570 1223.8,1573.7 1224.3,1573.5 1224.8,1576.5 1225.2,1575.4 1225.7,1575.5 1226.2,1576.8 1226.6,1577.9 1227.1,1577.8 1227.6,1579 1228.1,1578.2 1228.5,1580.1 1229,1581.8 1229.5,1583.7 1229.9,1582.9 1230.4,1583 1230.9,1584.6 1231.3,1585 1231.8,1586.2 1232.3,1586.2 1232.7,1585.4 1233.2,1586.4 1233.7,1586.8 1234.2,1587.5 1234.6,1587.9 1235.1,1587.4 1235.6,1586.6 1236,1588.7 1236.5,1587.8 1237,1590.7 1237.4,1591.2 1237.9,1590 1238.4,1593.2 1238.8,1594.1 1239.3,1593.9 1239.8,1596.3 1240.3,1597.2 1240.7,1594.5 1241.2,1597.7 1241.7,1597.8 1242.1,1598.5 1242.6,1599.8 1243.1,1598.7 1243.5,1599.6 1244,1600.1 1244.5,1601 1244.9,1602.5 1245.4,1601.8 1245.9,1603 1246.4,1605.5 1246.8,1605.5 1247.3,1606.7 1247.8,1605.1 1248.2,1607 1248.7,1608 1249.2,1609.3 1249.6,1609.3 1250.1,1611.6 1250.6,1611.3 1251,1612 1251.5,1612.6 1252,1614 1252.5,1613.4 1252.9,1615.7 1253.4,1615.6 1253.9,1615.8 1254.3,1616.3 1254.8,1617.3 1255.3,1618.4 1255.7,1618.9 1256.2,1618.8 1256.7,1619.8 1257.2,1619.5 1257.6,1621.1 1258.1,1620.3 1258.6,1618.6 1259,1622.6 1259.5,1621.7 1260,1620.8 1260.4,1622.2 1260.9,1621.9 1261.4,1625.3 1261.8,1624 1262.3,1622.2 1262.8,1624.8 1263.3,1624.1 1263.7,1626.8 1264.2,1624.1 1264.7,1623.1 1265.1,1625.8 1265.6,1625.7 1266.1,1625.9 1266.5,1624.4 1267,1627.3 1267.5,1628.8 1267.9,1625.3 1268.4,1628.7 1268.9,1627.2 1269.4,1630.4 1269.8,1628.6 1270.3,1628.2 1270.8,1629.7 1271.2,1629.3 1271.7,1628.4 1272.2,1629.9 1272.6,1628.8 1273.1,1627.7 1273.6,1631.7 1274,1629.5 1274.5,1629.3 1275,1630.5 1275.5,1628.7 1275.9,1629 1276.4,1630 1276.9,1630.1 1277.3,1630.8 1277.8,1632 1278.3,1630.5 1278.7,1631.6 1279.2,1631.8 1279.7,1630.2 1280.2,1631.6 1280.6,1630.5 1281.1,1632.7 1281.6,1632.1 1282,1631.8 1282.5,1630.5 1283,1632 1283.4,1631.2 1283.9,1632.8 1284.4,1632 1284.8,1631.3 1285.3,1633.2 1285.8,1633 1286.3,1631.7 1286.7,1633.6 1287.2,1632.1 1287.7,1632.1 1288.1,1632.6 1288.6,1631.8 1289.1,1632.1 1289.5,1632.4 1290,1634.2 1290.5,1634.2 1290.9,1632.4 1291.4,1634.3 1291.9,1632.6 1292.4,1633.1 1292.8,1633.6 1293.3,1633 1293.8,1635.2 1294.2,1632.9 1294.7,1631.5 1295.2,1634 1295.6,1632.3 1296.1,1632.4 1296.6,1629.6 1297,1633.7 1297.5,1633.5 1298,1633.4 1298.5,1633.6 1298.9,1634.3 1299.4,1632.5 1299.9,1633.5 1300.3,1631.7 1300.8,1632.1 1301.3,1633.5 1301.7,1632.8 1302.2,1631 1302.7,1632.7 1303.2,1632.1 1303.6,1631.4 1304.1,1632.6 1304.6,1631.7 1305,1630.5 1305.5,1630.9 1306,1633.8 1306.4,1630.4 1306.9,1632.2 1307.4,1632.5 1307.8,1632.5 1308.3,1630.6 1308.8,1631.5 1309.3,1631.9 1309.7,1632.6 1310.2,1631.1 1310.7,1630.5 1311.1,1632.7 1311.6,1632.8 1312.1,1632 1312.5,1631 1313,1632 1313.5,1631.7 1313.9,1632.5 1314.4,1630.4 1314.9,1631.8 1315.4,1631.5 1315.8,1630.6 1316.3,1632 1316.8,1631.8 1317.2,1631.4 1317.7,1632.3 1318.2,1630.5 1318.6,1631.9 1319.1,1632.5 1319.6,1632.4 1320,1633.2 1320.5,1631 1321,1630.8 1321.5,1632.6 1321.9,1632.9 1322.4,1634.7 1322.9,1633.3 1323.3,1631.9 1323.8,1633.7 1324.3,1632.1 1324.7,1631.5 1325.2,1635.8 1325.7,1633.6 1326.1,1634.1 1326.6,1634.1 1327.1,1635.4 1327.6,1634 1328,1635.1 1328.5,1632.9 1329,1632.6 1329.4,1635.6 1329.9,1635.8 1330.4,1634.9 1330.8,1634.7 1331.3,1634.8 1331.8,1634 1332.3,1636.4 1332.7,1635.6 1333.2,1635.6 1333.7,1635.6 1334.1,1636.3 1334.6,1635.9 1335.1,1636.3 1335.5,1634.4 1336,1636.2 1336.5,1638 1336.9,1635.4 1337.4,1635.9 1337.9,1637 1338.4,1637.2 1338.8,1636.9 1339.3,1634.7 1339.8,1637 1340.2,1635.3 1340.7,1635.8 1341.2,1637.3 1341.6,1636.5 1342.1,1637.7 1342.6,1640.1 1343,1637.8 1343.5,1637.8 1344,1636.2 1344.5,1636.6 1344.9,1636.2 1345.4,1636.8 1345.9,1636.3 1346.3,1636.8 1346.8,1637.3 1347.3,1636.6 1347.7,1636.2 1348.2,1636.3 1348.7,1638.2 1349.1,1637.9 1349.6,1638.9 1350.1,1639 1350.6,1637.6 1351,1638.7 1351.5,1636.6 1352,1640.4 1352.4,1639.3 1352.9,1637.9 1353.4,1637 1353.8,1638.6 1354.3,1636.4 1354.8,1637.5 1355.3,1639.1 1355.7,1638.4 1356.2,1637.9 1356.7,1639.4 1357.1,1637.4 1357.6,1638.7 1358.1,1638 1358.5,1637.6 1359,1639 1359.5,1637.5 1359.9,1640.5 1360.4,1638 1360.9,1640.6 1361.4,1637.5 1361.8,1639.2 1362.3,1637.4 1362.8,1637.3 1363.2,1638.8 1363.7,1639.3 1364.2,1637.3 1364.6,1639.8 1365.1,1637.8 1365.6,1638.8 1366,1639 1366.5,1639.2 1367,1636.8 1367.5,1640.3 1367.9,1639.2 1368.4,1638.2 1368.9,1637.6 1369.3,1636.9 1369.8,1637.2 1370.3,1639.1 1370.7,1638.2 1371.2,1637.4 1371.7,1638 1372.1,1640.1 1372.6,1638.1 1373.1,1637.9 1373.6,1639.8 1374,1638.9 1374.5,1638.4 1375,1637.7 1375.4,1636.8 1375.9,1637.1 1376.4,1637.8 1376.8,1638 1377.3,1638.5 1377.8,1638.7 1378.3,1638.3 1378.7,1638.3 1379.2,1637 1379.7,1635.8 1380.1,1637.4 1380.6,1636.9 1381.1,1637.2 1381.5,1637.5 1382,1636.5 1382.5,1636.6 1382.9,1637.6 1383.4,1637.7 1383.9,1636.9 1384.4,1638 1384.8,1637.2 1385.3,1636.4 1385.8,1637.4 1386.2,1639.2 1386.7,1636.5 1387.2,1638.3 1387.6,1638.5 1388.1,1638.5 1388.6,1636.1 1389,1638.9 1389.5,1636.9 1390,1636.5 1390.5,1636.4 1390.9,1637.2 1391.4,1636.6 1391.9,1636.2 1392.3,1637.7 1392.8,1635.5 1393.3,1635.1 1393.7,1636.9 1394.2,1636.7 1394.7,1637.1 1395.1,1634.8 1395.6,1636.9 1396.1,1636.2 1396.6,1637.4 1397,1634.3 1397.5,1635.7 1398,1635.1 1398.4,1633.7 1398.9,1634.5 1399.4,1636.3 1399.8,1634.6 1400.3,1634.2 1400.8,1635.7 1401.2,1635.8 1401.7,1635.7 1402.2,1633.8 1402.7,1634.5 1403.1,1635.5 1403.6,1633.7 1404.1,1633.5 1404.5,1635.1 1405,1635.7 1405.5,1632.9 1405.9,1631.4 1406.4,1632.5 1406.9,1632.9 1407.4,1633.7 1407.8,1634.4 1408.3,1633.6 1408.8,1633 1409.2,1633.8 1409.7,1632.6 1410.2,1633.5 1410.6,1632.8 1411.1,1636.2 1411.6,1634.3 1412,1632.6 1412.5,1632.4 1413,1632.9 1413.5,1631.7 1413.9,1632.6 1414.4,1632.6 1414.9,1634.2 1415.3,1632.9 1415.8,1632.5 1416.3,1632 1416.7,1632.2 1417.2,1633.3 1417.7,1633.2 1418.1,1634.6 1418.6,1632.8 1419.1,1634.6 1419.6,1633.8 1420,1633.6 1420.5,1631.6 1421,1632.3 1421.4,1634.5 1421.9,1635.2 1422.4,1634 1422.8,1634.7 1423.3,1633.5 1423.8,1633.6 1424.2,1633.4 1424.7,1635.1 1425.2,1634.6 1425.7,1634 1426.1,1634 1426.6,1635 1427.1,1634.8 1427.5,1633.7 1428,1636.4 1428.5,1635 1428.9,1634.8 1429.4,1636.4 1429.9,1636 1430.4,1635 1430.8,1635.7 1431.3,1634.1 1431.8,1634.7 1432.2,1633.1 1432.7,1636.7 1433.2,1633.6 1433.6,1636.3 1434.1,1634.9 1434.6,1634.8 1435,1635.7 1435.5,1636.2 1436,1636.7 1436.5,1637.9 1436.9,1636.6 1437.4,1637.2 1437.9,1635.7 1438.3,1637.1 1438.8,1636.6 1439.3,1636.1 1439.7,1636.5 1440.2,1636.6 1440.7,1637 1441.1,1637.3 1441.6,1636.4 1442.1,1636.2 1442.6,1637.8 1443,1635.4 1443.5,1636.6 1444,1638.8 1444.4,1634.6 1444.9,1636.7 1445.4,1638.1 1445.8,1635.8 1446.3,1640.2 1446.8,1635 1447.2,1639.1 1447.7,1639.3 1448.2,1638.7 1448.7,1637.6 1449.1,1638.2 1449.6,1637 1450.1,1638.8 1450.5,1636.9 1451,1637.8 1451.5,1639.1 1451.9,1637 1452.4,1637.8 1452.9,1638.4 1453.4,1636.9 1453.8,1639.5 1454.3,1638.7 1454.8,1636.9 1455.2,1638.4 1455.7,1637.7 1456.2,1637.9 1456.6,1638.6 1457.1,1637.9 1457.6,1639.6 1458,1637.9 1458.5,1639.7 1459,1638.7 1459.5,1639.6 1459.9,1638.2 1460.4,1638.3 1460.9,1637.7 1461.3,1639.4 1461.8,1639.8 1462.3,1641.1 1462.7,1640.2 1463.2,1639.2 1463.7,1638.8 1464.1,1639.4 1464.6,1639 1465.1,1640.5 1465.6,1640 1466,1638.3 1466.5,1638.4 1467,1640.5 1467.4,1639.5 1467.9,1639 1468.4,1640.4 1468.8,1638.8 1469.3,1639 1469.8,1638.8 1470.2,1637.3 1470.7,1640.2 1471.2,1638.1 1471.7,1638.7 1472.1,1638.6 1472.6,1640.1 1473.1,1639.3 1473.5,1639.4 1474,1637.7 1474.5,1639.3 1474.9,1637.9 1475.4,1639.7 1475.9,1639.8 1476.3,1639.4 1476.8,1641.5 1477.3,1640 1477.8,1640 1478.2,1639.6 1478.7,1639.2 1479.2,1640.4 1479.6,1640.5 1480.1,1638.1 1480.6,1640.5 1481,1640 1481.5,1640.4 1482,1639.9 1482.5,1638.2 1482.9,1638.2 1483.4,1641.3 1483.9,1639.7 1484.3,1638 1484.8,1639.8 1485.3,1639 1485.7,1637.5 1486.2,1637.1 1486.7,1637.8 1487.1,1639.6 1487.6,1639.3 1488.1,1639.1 1488.6,1639.6 1489,1639.9 1489.5,1637.2 1490,1639 1490.4,1638.4 1490.9,1638 1491.4,1638.7 1491.8,1639.1 1492.3,1638.9 1492.8,1637.7 1493.2,1638.7 1493.7,1641.1 1494.2,1638 1494.7,1637.4 1495.1,1639.3 1495.6,1639.6 1496.1,1639.5 1496.5,1637.8 1497,1639.9 1497.5,1638.1 1497.9,1637.7 1498.4,1638.2 1498.9,1638.7 1499.3,1639.5 1499.8,1639.4 1500.3,1638.7 1500.8,1639.6 1501.2,1638.7 1501.7,1639.5 1502.2,1637.1 1502.6,1636.9 1503.1,1639.3 1503.6,1637 1504,1638.1 1504.5,1638.3 1505,1637.8 1505.5,1637.8 1505.9,1639.7 1506.4,1635.7 1506.9,1639.1 1507.3,1640.5 1507.8,1638.1 1508.3,1638 1508.7,1638.8 1509.2,1639.8 1509.7,1636.8 1510.1,1638 1510.6,1637.7 1511.1,1638.4 1511.6,1638 1512,1638.5 1512.5,1637.3 1513,1637.8 1513.4,1637 1513.9,1637 1514.4,1637.5 1514.8,1637.5 1515.3,1636.5 1515.8,1639.2 1516.2,1637.5 1516.7,1636.2 1517.2,1638.7 1517.7,1636.9 1518.1,1638.1 1518.6,1637.6 1519.1,1637.9 1519.5,1637.8 1520,1637.1 1520.5,1637.7 1520.9,1639.7 1521.4,1635.5 1521.9,1637.8 1522.3,1638.2 1522.8,1636.7 1523.3,1636.4 1523.8,1640 1524.2,1637.5 1524.7,1640 1525.2,1638.5 1525.6,1638.1 1526.1,1638.5 1526.6,1638.7 1527,1639.3 1527.5,1638.6 1528,1638.4 1528.5,1638.4 1528.9,1639.7 1529.4,1639.2 1529.9,1637.4 1530.3,1637.8 1530.8,1638.8 1531.3,1637.9 1531.7,1638.2 1532.2,1637.7 1532.7,1638.4 1533.1,1639.2 1533.6,1639.8 1534.1,1638.8 1534.6,1641 1535,1638.8 1535.5,1642.2 1536,1640 1536.4,1639.6 1536.9,1638.6 1537.4,1636.3 1537.8,1639 1538.3,1639.4 1538.8,1641.2 1539.2,1637.9 1539.7,1641.3 1540.2,1639.1 1540.7,1640.1 1541.1,1636.9 1541.6,1639.6 1542.1,1639.2 1542.5,1640.3 1543,1639.7 1543.5,1638.5 1543.9,1640.6 1544.4,1640.4 1544.9,1640.3 1545.3,1640.8 1545.8,1640.9 1546.3,1639.8 1546.8,1638.5 1547.2,1638.5 1547.7,1641.3 1548.2,1640.6 1548.6,1640.1 1549.1,1639.5 1549.6,1640 1550,1640.1 1550.5,1639.7 1551,1639.4 1551.4,1642.3 1551.9,1640.3 1552.4,1639.5 1552.9,1638.8 1553.3,1639.4 1553.8,1640.9 1554.3,1641 1554.7,1640 1555.2,1640.3 1555.7,1640 1556.1,1639.2 1556.6,1641.6 1557.1,1640.7 1557.6,1642.8 1558,1639.6 1558.5,1640.2 1559,1641.3 1559.4,1640.1 1559.9,1639 1560.4,1639.5 1560.8,1640.5 1561.3,1640.8 1561.8,1640.3 1562.2,1641.5 1562.7,1641.5 1563.2,1640.8 1563.7,1640.5 1564.1,1640.2 1564.6,1641.1 1565.1,1641.4 1565.5,1640.6 1566,1641 1566.5,1640.2 1566.9,1639.1 1567.4,1639.5 1567.9,1641.3 1568.3,1641 1568.8,1642.2 1569.3,1640.6 1569.8,1641.5 1570.2,1641.9 1570.7,1641.6 1571.2,1640 1571.6,1640.4 1572.1,1640.7 1572.6,1639.6 1573,1641.1 1573.5,1641.6 1574,1640.1 1574.4,1642.6 1574.9,1640.3 1575.4,1640.4 1575.9,1640.4 1576.3,1639.9 1576.8,1641.1 1577.3,1640.7 1577.7,1642.3 1578.2,1641.3 1578.7,1641.2 1579.1,1640.4 1579.6,1639.2 1580.1,1640.6 1580.6,1639.8 1581,1641.6 1581.5,1640.6 1582,1642.3 1582.4,1641.4 1582.9,1641.5 1583.4,1640.9 1583.8,1640.9 1584.3,1641.3 1584.8,1641.6 1585.2,1640 1585.7,1641.2 1586.2,1643.3 1586.7,1640.6 1587.1,1640.4 1587.6,1640 1588.1,1639.2 1588.5,1641.9 1589,1640.7 1589.5,1641 1589.9,1642.5 1590.4,1643.2 1590.9,1639.8 1591.3,1641.7 1591.8,1641.3 1592.3,1641 1592.8,1641.1 1593.2,1640.6 1593.7,1642.2 1594.2,1641.3 1594.6,1641 1595.1,1641.9 1595.6,1641.5 1596,1641.1 1596.5,1641 1597,1642.4 1597.4,1641.1 1597.9,1640.5 1598.4,1639.7 1598.9,1640.3 1599.3,1639.5 1599.8,1640.7 1600.3,1640.9 1600.7,1638.5 1601.2,1640.6 1601.7,1641.2 1602.1,1640.7 1602.6,1639.6 1603.1,1641.8 1603.6,1639.9 1604,1639.3 1604.5,1639.5 1605,1640.5 1605.4,1641.5 1605.9,1641.7 1606.4,1640.7 1606.8,1639.3 1607.3,1639.9 1607.8,1639.6 1608.2,1640.3 1608.7,1638.7 1609.2,1640.6 1609.7,1641.1 1610.1,1640.3 1610.6,1641 1611.1,1639.5 1611.5,1639 1612,1639.8 1612.5,1641.6 1612.9,1641.5 1613.4,1640 1613.9,1641.7 1614.3,1640.1 1614.8,1642 1615.3,1640.9 1615.8,1640 1616.2,1641.2 1616.7,1639.6 1617.2,1639.5 1617.6,1639 1618.1,1640.7 1618.6,1640.3 1619,1640.3 1619.5,1640 1620,1641.8 1620.4,1640 1620.9,1639.6 1621.4,1641.6 1621.9,1641.8 1622.3,1640.7 1622.8,1638.6 1623.3,1639.7 1623.7,1640.9 1624.2,1640.3 1624.7,1641.9 1625.1,1638.9 1625.6,1641 1626.1,1639.7 1626.5,1641.6 1627,1640.2 1627.5,1641.3 1628,1639.6 1628.4,1638.8 1628.9,1639.1 1629.4,1639.6 1629.8,1639.2 1630.3,1641.4 1630.8,1641.6 1631.2,1640.5 1631.7,1639.2 1632.2,1640.1 1632.7,1639.5 1633.1,1641.6 1633.6,1640.5 1634.1,1640.6 1634.5,1639.7 1635,1638.1 1635.5,1639.3 1635.9,1639 1636.4,1640.5 1636.9,1640.2 1637.3,1639.3 1637.8,1639.7 1638.3,1641.6 1638.8,1639.1 1639.2,1639.1 1639.7,1639.8 1640.2,1639.3 1640.6,1639.5 1641.1,1640.5 1641.6,1641.7 1642,1638.1 1642.5,1639.9 1643,1639.9 1643.4,1639.8 1643.9,1639.7 1644.4,1639.5 1644.9,1640.8 1645.3,1639.3 1645.8,1639.7 1646.3,1639.8 1646.7,1639.9 1647.2,1639.6 1647.7,1640.7 1648.1,1639.7 1648.6,1639.8 1649.1,1639.6 1649.5,1638.6 1650,1638.8 1650.5,1638.5 1651,1639.8 1651.4,1638.8 1651.9,1638.4 1652.4,1639.7 1652.8,1640 1653.3,1637.7 1653.8,1641.1 1654.2,1639.4 1654.7,1639.2 1655.2,1640.4 1655.7,1639.3 1656.1,1638.6 1656.6,1641.4 1657.1,1638.1 1657.5,1639 1658,1640 1658.5,1638 1658.9,1638.9 1659.4,1639.4 1659.9,1641.4 1660.3,1638 1660.8,1638.8 1661.3,1639.5 1661.8,1638.9 1662.2,1637.5 1662.7,1639.1 1663.2,1638.8 1663.6,1639 1664.1,1639.7 1664.6,1639.5 1665,1638.9 1665.5,1638.7 1666,1637.2 1666.4,1638.1 1666.9,1638.4 1667.4,1637.8 1667.9,1638.2 1668.3,1637.2 1668.8,1639.5 1669.3,1640.1 1669.7,1637.5 1670.2,1638.2 1670.7,1637.5 1671.1,1638.9 1671.6,1638 1672.1,1637.6 1672.5,1637.2 1673,1637.5 1673.5,1636.2 1674,1637.9 1674.4,1636.4 1674.9,1637.6 1675.4,1637.1 1675.8,1637.9 1676.3,1636.7 1676.8,1637.7 1677.2,1635.6 1677.7,1637.1 1678.2,1636.1 1678.7,1636.5 1679.1,1636.2 1679.6,1637 1680.1,1633.9 1680.5,1636.2 1681,1634.2 1681.5,1636.8 1681.9,1633.5 1682.4,1634.4 1682.9,1633.6 1683.3,1636.8 1683.8,1633.7 1684.3,1635 1684.8,1634.2 1685.2,1632.8 1685.7,1634.2 1686.2,1635 1686.6,1634 1687.1,1635 1687.6,1633.6 1688,1633.8 1688.5,1633.3 1689,1633.9 1689.4,1635.3 1689.9,1633.6 1690.4,1633.2 1690.9,1632.3 1691.3,1632 1691.8,1634.1 1692.3,1631.3 1692.7,1631.3 1693.2,1632 1693.7,1631.5 1694.1,1633.7 1694.6,1629.2 1695.1,1631.8 1695.5,1632 1696,1629.9 1696.5,1630.2 1697,1631.2 1697.4,1632.2 1697.9,1629.4 1698.4,1628.6 1698.8,1631 1699.3,1631.4 1699.8,1629.4 1700.2,1627.3 1700.7,1630.9 1701.2,1629 1701.6,1630.2 1702.1,1628.8 1702.6,1628.3 1703.1,1628.1 1703.5,1629.9 1704,1629.7 1704.5,1625.9 1704.9,1627 1705.4,1629.7 1705.9,1627.3 1706.3,1626.2 1706.8,1627.4 1707.3,1627.2 1707.8,1627.1 1708.2,1626.6 1708.7,1626.7 1709.2,1626.4 1709.6,1627.2 1710.1,1625.9 1710.6,1626.4 1711,1626.5 1711.5,1627.9 1712,1626.9 1712.4,1626.4 1712.9,1627 1713.4,1626.8 1713.9,1627.5 1714.3,1626.9 1714.8,1628.2 1715.3,1627.8 1715.7,1626.4 1716.2,1626 1716.7,1627.4 1717.1,1627.1 1717.6,1626.5 1718.1,1625.1 1718.5,1624.8 1719,1627.1 1719.5,1627.6 1720,1627.8 1720.4,1625.7 1720.9,1628.2 1721.4,1626.7 1721.8,1627.7 1722.3,1627.9 1722.8,1626.7 1723.2,1627.1 1723.7,1625.7 1724.2,1627 1724.6,1626.2 1725.1,1628.6 1725.6,1628.4 1726.1,1629.4 1726.5,1629 1727,1628.1 1727.5,1629.2 1727.9,1628.6 1728.4,1629.8 1728.9,1629.6 1729.3,1628.5 1729.8,1629.6 1730.3,1629.8 1730.8,1629.6 1731.2,1631 1731.7,1632 1732.2,1630 1732.6,1630.1 1733.1,1628.3 1733.6,1630.7 1734,1630.5 1734.5,1628.9 1735,1631.5 1735.4,1631.9 1735.9,1630.7 1736.4,1631.2 1736.9,1630.7 1737.3,1632.6 1737.8,1630.4 1738.3,1631.8 1738.7,1634.2 1739.2,1632.4 1739.7,1632.9 1740.1,1632.4 1740.6,1631.5 1741.1,1632.8 1741.5,1633.3 1742,1631.9 1742.5,1633.4 1743,1634.5 1743.4,1634.4 1743.9,1631.8 1744.4,1632.5 1744.8,1631.9 1745.3,1634.7 1745.8,1634.3 1746.2,1634.5 1746.7,1633 1747.2,1632.7 1747.6,1634.1 1748.1,1634.2 1748.6,1633.2 1749.1,1634.3 1749.5,1634.9 1750,1634.5 1750.5,1633.3 1750.9,1632.2 1751.4,1634.2 1751.9,1634.6 1752.3,1634.2 1752.8,1634.1 1753.3,1633.9 1753.8,1635.3 1754.2,1634.6 1754.7,1634.8 1755.2,1633.7 1755.6,1634.1 1756.1,1634.9 1756.6,1633.7 1757,1633.5 1757.5,1634.5 1758,1636 1758.4,1635 1758.9,1636.3 1759.4,1634.7 1759.9,1634.5 1760.3,1633.4 1760.8,1634.2 1761.3,1636.3 1761.7,1635.1 1762.2,1635.5 1762.7,1635.5 1763.1,1634.8 1763.6,1634.6 1764.1,1634.9 1764.5,1635.4 1765,1635.2 1765.5,1635.2 1766,1634.8 1766.4,1633.9 1766.9,1634.3 1767.4,1633.6 1767.8,1635.6 1768.3,1632.4 1768.8,1634.3 1769.2,1636.9 1769.7,1634.1 1770.2,1633.2 1770.6,1634.3 1771.1,1635.6 1771.6,1634.1 1772.1,1634.9 1772.5,1634.3 1773,1633.8 1773.5,1637.3 1773.9,1634.1 1774.4,1633.5 1774.9,1633.5 1775.3,1634.3 1775.8,1634.3 1776.3,1634.6 1776.7,1633.9 1777.2,1632.3 1777.7,1634.2 1778.2,1633.3 1778.6,1633.3 1779.1,1632 1779.6,1632.9 1780,1632.7 1780.5,1633.4 1781,1631.9 1781.4,1633.3 1781.9,1633.4 1782.4,1632.1 1782.9,1632.5 1783.3,1632.2 1783.8,1634 1784.3,1630.4 1784.7,1632.6 1785.2,1631.2 1785.7,1632.4 1786.1,1633.7 1786.6,1632.1 1787.1,1632.9 1787.5,1631.8 1788,1634.6 1788.5,1633.5 1789,1633.7 1789.4,1631.1 1789.9,1631.3 1790.4,1633.5 1790.8,1632.2 1791.3,1632.1 1791.8,1632.7 1792.2,1631 1792.7,1633 1793.2,1632.2 1793.6,1632.7 1794.1,1631.5 1794.6,1632.6 1795.1,1631.4 1795.5,1633 1796,1633.2 1796.5,1632.9 1796.9,1632.5 1797.4,1632.6 1797.9,1629.2 1798.3,1632.8 1798.8,1631.6 1799.3,1632 1799.7,1631.5 1800.2,1630.4 1800.7,1631.2 1801.2,1632.5 1801.6,1633.2 1802.1,1631.1 1802.6,1630.8 1803,1633.2 1803.5,1630.8 1804,1633.8 1804.4,1631.7 1804.9,1630.7 1805.4,1632.6 1805.9,1633.3 1806.3,1630.1 1806.8,1633.1 1807.3,1631.2 1807.7,1633 1808.2,1631.1 1808.7,1629.8 1809.1,1631.9 1809.6,1632.4 1810.1,1633.5 1810.5,1633.1 1811,1632 1811.5,1631 1812,1630.7 1812.4,1630.9 1812.9,1630.3 1813.4,1630.9 1813.8,1628.5 1814.3,1631.2 1814.8,1631 1815.2,1633.6 1815.7,1631.7 1816.2,1630.4 1816.6,1631.4 1817.1,1629.5 1817.6,1630.1 1818.1,1628.7 1818.5,1632 1819,1631.1 1819.5,1629.2 1819.9,1630.3 1820.4,1631.2 1820.9,1630.7 1821.3,1630.5 1821.8,1629.1 1822.3,1629.3 1822.7,1629.9 1823.2,1630.7 1823.7,1628.8 1824.2,1628.4 1824.6,1630.6 1825.1,1628.3 1825.6,1630.3 1826,1629.3 1826.5,1629.8 1827,1630.6 1827.4,1629.4 1827.9,1629.3 1828.4,1627.5 1828.9,1627.5 1829.3,1628.8 1829.8,1629.5 1830.3,1629.2 1830.7,1630 1831.2,1627.8 1831.7,1627.5 1832.1,1628.2 1832.6,1627 1833.1,1626.8 1833.5,1625.6 1834,1627.5 1834.5,1625.2 1835,1626.7 1835.4,1624.5 1835.9,1626.9 1836.4,1624.5 1836.8,1626.3 1837.3,1623.6 1837.8,1624.6 1838.2,1626.1 1838.7,1623.9 1839.2,1624.6 1839.6,1623.9 1840.1,1621.8 1840.6,1624.4 1841.1,1624.3 1841.5,1622.6 1842,1624.2 1842.5,1622.6 1842.9,1622.2 1843.4,1623.2 1843.9,1622.3 1844.3,1625.3 1844.8,1621.2 1845.3,1623.5 1845.7,1623.7 1846.2,1620.5 1846.7,1620.7 1847.2,1623 1847.6,1621.9 1848.1,1622.8 1848.6,1623.5 1849,1621.9 1849.5,1621.2 1850,1619.5 1850.4,1622.6 1850.9,1621.4 1851.4,1622.8 1851.8,1622.8 1852.3,1621.1 1852.8,1624.5 1853.3,1623.9 1853.7,1623.7 1854.2,1621.8 1854.7,1622.7 1855.1,1622.7 1855.6,1622.9 1856.1,1622.4 1856.5,1624.1 1857,1624.1 1857.5,1624.4 1858,1623.7 1858.4,1625.7 1858.9,1624.7 1859.4,1621.9 1859.8,1624.3 1860.3,1625.1 1860.8,1626.3 1861.2,1625.2 1861.7,1625.5 1862.2,1625.2 1862.6,1626.8 1863.1,1625.8 1863.6,1625.9 1864.1,1625.9 1864.5,1627.5 1865,1626.6 1865.5,1625.6 1865.9,1628.1 1866.4,1627 1866.9,1628.2 1867.3,1628.4 1867.8,1629.5 1868.3,1629.5 1868.7,1628 1869.2,1628.6 1869.7,1627.6 1870.2,1630.8 1870.6,1629.7 1871.1,1630.9 1871.6,1629.3 1872,1627.6 1872.5,1631.5 1873,1630.1 1873.4,1630.3 1873.9,1630.4 1874.4,1631.1 1874.8,1631.1 1875.3,1629.1 1875.8,1631.9 1876.3,1630.4 1876.7,1630.5 1877.2,1632.9 1877.7,1632.2 1878.1,1631 1878.6,1629.5 1879.1,1631.7 1879.5,1632.1 1880,1631.6 1880.5,1630.5 1881,1631 1881.4,1630.6 1881.9,1632.2 1882.4,1632.9 1882.8,1633.1 1883.3,1631.4 1883.8,1632.4 1884.2,1632.8 1884.7,1631.8 1885.2,1632.2 1885.6,1634.5 1886.1,1632.6 1886.6,1633.3 1887.1,1632 1887.5,1632.5 1888,1630.7 1888.5,1632.5 1888.9,1633.7 1889.4,1634.7 1889.9,1633.7 1890.3,1633.2 1890.8,1632.6 1891.3,1631.9 1891.7,1632.4 1892.2,1633.1 1892.7,1631.7 1893.2,1633.4 1893.6,1631.5 1894.1,1630.6 1894.6,1631.4 1895,1630.7 1895.5,1631 1896,1633.5 1896.4,1632.1 1896.9,1632.5 1897.4,1633.4 1897.8,1633.5 1898.3,1631.6 1898.8,1633.5 1899.3,1632.5 1899.7,1632 1900.2,1632.4 1900.7,1630.5 1901.1,1631.1 1901.6,1631.7 1902.1,1632.4 1902.5,1631.3 1903,1631.5 1903.5,1632.6 1904,1632.9 1904.4,1632.2 1904.9,1632.7 1905.4,1630.9 1905.8,1630.9 1906.3,1631.5 1906.8,1630.8 1907.2,1630.5 1907.7,1632.7 1908.2,1630.7 1908.6,1629.9 1909.1,1631.3 1909.6,1632.6 1910.1,1630.7 1910.5,1631.8 1911,1630.1 1911.5,1629.9 1911.9,1629.7 1912.4,1630.2 1912.9,1632.1 1913.3,1629 1913.8,1631.8 1914.3,1629.1 1914.7,1629.8 1915.2,1630.8 1915.7,1630.6 1916.2,1630.2 1916.6,1628.2 1917.1,1630.2 1917.6,1628.7 1918,1632.3 1918.5,1629.5 1919,1629.9 1919.4,1628.5 1919.9,1629.1 1920.4,1628.3 1920.8,1630.6 1921.3,1629.3 1921.8,1630.1 1922.3,1628.9 1922.7,1629.1 1923.2,1630.9 1923.7,1628.6 1924.1,1627.8 1924.6,1630 1925.1,1628.5 1925.5,1629.2 1926,1630.6 1926.5,1628.9 1926.9,1630.6 1927.4,1629.1 1927.9,1631.4 1928.4,1631.2 1928.8,1629.4 1929.3,1629.8 1929.8,1629.2 1930.2,1630.3 1930.7,1631.3 1931.2,1628.8 1931.6,1631.2 1932.1,1629 1932.6,1629.6 1933.1,1628.7 1933.5,1632.7 1934,1630.7 1934.5,1631 1934.9,1630.1 1935.4,1632 1935.9,1628.9 1936.3,1631.1 1936.8,1633.4 1937.3,1630.9 1937.7,1631.4 1938.2,1632.1 1938.7,1630.7 1939.2,1631.7 1939.6,1632.7 1940.1,1632 1940.6,1632.3 1941,1631.7 1941.5,1632.4 1942,1632.3 1942.4,1633.8 1942.9,1633.1 1943.4,1632.2 1943.8,1630.1 1944.3,1633.4 1944.8,1633.5 1945.3,1631.9 1945.7,1630.9 1946.2,1631.9 1946.7,1634.1 1947.1,1632.1 1947.6,1632.8 1948.1,1633.6 1948.5,1634.7 1949,1633.5 1949.5,1633.5 1949.9,1633.2 1950.4,1635.5 1950.9,1635 1951.4,1633.9 1951.8,1632.6 1952.3,1633.3 1952.8,1634.8 1953.2,1633.6 1953.7,1635.3 1954.2,1634.8 1954.6,1634.8 1955.1,1635.2 1955.6,1635.2 1956.1,1633.9 1956.5,1634.5 1957,1637.2 1957.5,1633.7 1957.9,1634.5 1958.4,1636.1 1958.9,1634.9 1959.3,1634.3 1959.8,1633.9 1960.3,1635.8 1960.7,1636.4 1961.2,1636.8 1961.7,1635.5 1962.2,1636.6 1962.6,1634.5 1963.1,1635.8 1963.6,1635 1964,1635.9 1964.5,1636.5"/>
<path class="c" stroke="#00f" d="M87,1419.0L87.5,1416.6 87.9,1419.2 88.4,1417.2 88.9,1416.5 89.3,1417.5 89.8,1416 90.3,1417.7 90.8,1418 91.2,1417.5 91.7,1418.3 92.2,1417.3 92.6,1417.7 93.1,1416 93.6,1417.7 94,1416.6 94.5,1417.1 95,1417.5 95.4,1417.8 95.9,1415.7 96.4,1415.8 96.9,1417.2 97.3,1418.1 97.8,1418 98.3,1418.6 98.7,1419.1 99.2,1418.1 99.7,1417.5 100.1,1416.3 100.6,1416.4 101.1,1417 101.6,1417.8 102,1417.8 102.5,1417.5 103,1417.3 103.4,1418.2 103.9,1417.7 104.4,1417.8 104.8,1417.8 105.3,1416.8 105.8,1416.2 106.2,1418 106.7,1417.9 107.2,1417.2 107.7,1416.9 108.1,1420 108.6,1416.5 109.1,1417.1 109.5,1417.7 110,1416 110.5,1417.5 110.9,1419.4 111.4,1418.4 111.9,1418.1 112.3,1418 112.8,1417.5 113.3,1418.4 113.8,1417.1 114.2,1416.8 114.7,1417.4 115.2,1418.4 115.6,1417.7 116.1,1418.1 116.6,1414.9 117,1418.7 117.5,1420 118,1418.8 118.4,1416.9 118.9,1416.3 119.4,1417.6 119.9,1416.1 120.3,1418.1 120.8,1416.6 121.3,1418.3 121.7,1418.8 122.2,1414.9 122.7,1417.6 123.1,1416.4 123.6,1415.6 124.1,1416.5 124.5,1416.9 125,1418.4 125.5,1415.4 126,1418.4 126.4,1419.5 126.9,1417.9 127.4,1417.8 127.8,1417.1 128.3,1415.8 128.8,1417.8 129.2,1417.6 129.7,1418 130.2,1420.1 130.7,1418 131.1,1417.6 131.6,1418.9 132.1,1415.5 132.5,1415.8 133,1416.7 133.5,1416.3 133.9,1417.9 134.4,1416.7 134.9,1419.1 135.3,1418.8 135.8,1418 136.3,1416.6 136.8,1417.8 137.2,1418.1 137.7,1415.9 138.2,1417.5 138.6,1418 139.1,1417.4 139.6,1419 140,1418.7 140.5,1416.3 141,1417.5 141.4,1416.4 141.9,1418 142.4,1416.4 142.9,1418.5 143.3,1417.9 143.8,1418.7 144.3,1417.4 144.7,1415.9 145.2,1419.7 145.7,1417.5 146.1,1419.4 146.6,1418.3 147.1,1418.7 147.5,1420.1 148,1418.4 148.5,1419.7 149,1416.4 149.4,1419.2 149.9,1418 150.4,1418.2 150.8,1418.4 151.3,1418.8 151.8,1420.4 152.2,1416.4 152.7,1418.7 153.2,1417.9 153.7,1420.1 154.1,1418.3 154.6,1419.4 155.1,1418.5 155.5,1419.8 156,1420.3 156.5,1418.7 156.9,1419.3 157.4,1417.6 157.9,1419.7 158.3,1420.4 158.8,1418.8 159.3,1420.9 159.8,1417.2 160.2,1417.5 160.7,1418.1 161.2,1419.3 161.6,1419.9 162.1,1419.8 162.6,1419.9 163,1420.9 163.5,1419.6 164,1418.7 164.4,1418.8 164.9,1422.7 165.4,1417.6 165.9,1420.2 166.3,1422.1 166.8,1421.1 167.3,1419.6 167.7,1420.6 168.2,1421.6 168.7,1422.1 169.1,1419.7 169.6,1421.6 170.1,1421.1 170.5,1422.1 171,1422.5 171.5,1420.5 172,1419.2 172.4,1421.4 172.9,1423 173.4,1421.8 173.8,1421.3 174.3,1423.8 174.8,1419.8 175.2,1422.1 175.7,1420.4 176.2,1421.1 176.7,1421.2 177.1,1422.8 177.6,1420 178.1,1420.4 178.5,1419.2 179,1421.6 179.5,1420.5 179.9,1421.5 180.4,1419.7 180.9,1420.5 181.3,1422.1 181.8,1420.7 182.3,1421.6 182.8,1421.4 183.2,1420.4 183.7,1419 184.2,1421.9 184.6,1420.9 185.1,1421.8 185.6,1418.3 186,1418.7 186.5,1418.1 187,1419.5 187.4,1421.7 187.9,1421.1 188.4,1420.3 188.9,1420.5 189.3,1421.2 189.8,1419.9 190.3,1420.7 190.7,1420.3 191.2,1417.6 191.7,1419.6 192.1,1421.6 192.6,1419.5 193.1,1419.7 193.5,1419.2 194,1419.2 194.5,1421.1 195,1419.4 195.4,1418.5 195.9,1416 196.4,1418.9 196.8,1417.2 197.3,1417.3 197.8,1420.3 198.2,1420.1 198.7,1417 199.2,1420.2 199.6,1419.7 200.1,1418.1 200.6,1419.9 201.1,1417 201.5,1417.5 202,1417.1 202.5,1417.4 202.9,1419.7 203.4,1417.1 203.9,1417.2 204.3,1417.4 204.8,1418.6 205.3,1417.9 205.8,1419.3 206.2,1417.4 206.7,1416.6 207.2,1417.5 207.6,1418 208.1,1416.8 208.6,1418.1 209,1419.9 209.5,1417 210,1417.6 210.4,1419.1 210.9,1416.7 211.4,1416.4 211.9,1416 212.3,1417.7 212.8,1417.7 213.3,1416.9 213.7,1417 214.2,1418.4 214.7,1417.8 215.1,1415.1 215.6,1416.6 216.1,1416.7 216.5,1417.3 217,1416.1 217.5,1415.5 218,1415.6 218.4,1414 218.9,1416 219.4,1415.2 219.8,1416.4 220.3,1414.5 220.8,1415.1 221.2,1414.4 221.7,1414.2 222.2,1416.2 222.6,1414.7 223.1,1415.7 223.6,1413.8 224.1,1415.1 224.5,1412.9 225,1414.2 225.5,1414.1 225.9,1415.3 226.4,1414.7 226.9,1414.2 227.3,1415.3 227.8,1414.4 228.3,1414.7 228.8,1414.9 229.2,1413.8 229.7,1413.5 230.2,1414.1 230.6,1413.1 231.1,1413.9 231.6,1414.6 232,1414.2 232.5,1412.6 233,1411.4 233.4,1412.7 233.9,1412.5 234.4,1413.8 234.9,1411.9 235.3,1412 235.8,1412.9 236.3,1411.4 236.7,1411.6 237.2,1413.6 237.7,1413.2 238.1,1412 238.6,1411.4 239.1,1409.8 239.5,1411.5 240,1410.7 240.5,1410.7 241,1409.7 241.4,1410.1 241.9,1409.7 242.4,1410.1 242.8,1411.2 243.3,1409.8 243.8,1407.3 244.2,1407.9 244.7,1407 245.2,1407.7 245.6,1409.1 246.1,1408.7 246.6,1407.4 247.1,1408.2 247.5,1406.8 248,1405.8 248.5,1405.6 248.9,1406.1 249.4,1408.6 249.9,1405.1 250.3,1408 250.8,1407.9 251.3,1405.9 251.8,1405.8 252.2,1405 252.7,1405.5 253.2,1406.1 253.6,1405.1 254.1,1406 254.6,1406.1 255,1404.9 255.5,1404.6 256,1404 256.4,1404.3 256.9,1402.3 257.4,1403.9 257.9,1403.5 258.3,1402 258.8,1405.4 259.3,1401.5 259.7,1401.4 260.2,1402.5 260.7,1399.7 261.1,1400.9 261.6,1399.8 262.1,1400.2 262.5,1401 263,1401.4 263.5,1402.1 264,1401.5 264.4,1401.8 264.9,1400.9 265.4,1399.4 265.8,1401.1 266.3,1399 266.8,1398.7 267.2,1401 267.7,1399.9 268.2,1399.1 268.6,1399.5 269.1,1399.5 269.6,1396.6 270.1,1397.9 270.5,1396.5 271,1397.8 271.5,1396.7 271.9,1398.9 272.4,1397.7 272.9,1396 273.3,1396.7 273.8,1395.1 274.3,1396.4 274.7,1396.9 275.2,1396.4 275.7,1393.6 276.2,1395.3 276.6,1396.1 277.1,1395.7 277.6,1396.6 278,1393.5 278.5,1395.5 279,1393.9 279.4,1394.8 279.9,1394.9 280.4,1395 280.9,1393.4 281.3,1394.1 281.8,1392.3 282.3,1391.9 282.7,1394.1 283.2,1393.2 283.7,1391.1 284.1,1391.9 284.6,1392.8 285.1,1394.4 285.5,1393.6 286,1393.2 286.5,1389.9 287,1391.8 287.4,1392.3 287.9,1392 288.4,1391.8 288.8,1390.9 289.3,1393.1 289.8,1392.6 290.2,1390.5 290.7,1389.2 291.2,1392.7 291.6,1389.3 292.1,1391.2 292.6,1391.9 293.1,1388.2 293.5,1389.5 294,1388.5 294.5,1389.3 294.9,1388.8 295.4,1390.6 295.9,1388.7 296.3,1387.7 296.8,1388.8 297.3,1386.9 297.7,1386.5 298.2,1389.4 298.7,1385.4 299.2,1385.5 299.6,1385.9 300.1,1384.2 300.6,1382.6 301,1386.1 301.5,1383.6 302,1383.5 302.4,1383.4 302.9,1382.3 303.4,1381.8 303.9,1382.9 304.3,1385.3 304.8,1382.8 305.3,1382.4 305.7,1379.2 306.2,1380.6 306.7,1378.7 307.1,1380.7 307.6,1379 308.1,1378.8 308.5,1378.1 309,1377 309.5,1375.3 310,1377.3 310.4,1374.3 310.9,1373.9 311.4,1374.4 311.8,1373.2 312.3,1373.7 312.8,1374 313.2,1372.3 313.7,1371.5 314.2,1370.5 314.6,1370.7 315.1,1366.5 315.6,1368.4 316.1,1365.9 316.5,1364.6 317,1365.2 317.5,1363.7 317.9,1363.9 318.4,1363.4 318.9,1358 319.3,1359.7 319.8,1361 320.3,1358.4 320.7,1357.8 321.2,1354.7 321.7,1351.3 322.2,1350.2 322.6,1351 323.1,1349.8 323.6,1345.9 324,1344.8 324.5,1343.7 325,1339.2 325.4,1339.1 325.9,1339.6 326.4,1338.3 326.9,1333.1 327.3,1333.4 327.8,1327.9 328.3,1325.1 328.7,1320.6 329.2,1322.3 329.7,1317.7 330.1,1318.5 330.6,1312.9 331.1,1309.6 331.5,1303.7 332,1304.9 332.5,1298.9 333,1295.6 333.4,1289 333.9,1289.5 334.4,1285.7 334.8,1279.3 335.3,1276 335.8,1272 336.2,1268.3 336.7,1262.4 337.2,1259.8 337.6,1252 338.1,1246.2 338.6,1241.1 339.1,1232.5 339.5,1229.4 340,1226.2 340.5,1219.1 340.9,1211.3 341.4,1206.7 341.9,1196.6 342.3,1192.6 342.8,1187 343.3,1180.2 343.7,1170.8 344.2,1166.1 344.7,1160.1 345.2,1148.8 345.6,1142.9 346.1,1131.3 346.6,1122.6 347,1118.6 347.5,1109.4 348,1101.2 348.4,1091.4 348.9,1083.3 349.4,1076.6 349.8,1069.4 350.3,1057.4 350.8,1046.1 351.3,1042.4 351.7,1032.5 352.2,1023.9 352.7,1014.3 353.1,1009.5 353.6,997.1 354.1,989.5 354.5,977 355,971.4 355.5,963.4 356,957.1 356.4,950.6 356.9,941.7 357.4,939.8 357.8,928.5 358.3,924 358.8,920 359.2,912.4 359.7,911.6 360.2,908.1 360.6,903.1 361.1,904.8 361.6,899.3 362.1,898.3 362.5,895.1 363,893.6 363.5,896 363.9,897.6 364.4,899 364.9,903.5 365.3,900.2 365.8,905.9 366.3,908.3 366.7,918.6 367.2,919.7 367.7,924.9 368.2,929.4 368.6,939 369.1,942.7 369.6,950.4 370,953 370.5,965.8 371,971.6 371.4,979.1 371.9,987.8 372.4,992.8 372.8,1000.4 373.3,1009.7 373.8,1016.8 374.3,1023.3 374.7,1031.5 375.2,1038.1 375.7,1047.8 376.1,1055.6 376.6,1061.4 377.1,1071.9 377.5,1073.3 378,1082.5 378.5,1092.6 379,1095.8 379.4,1100.4 379.9,1111.8 380.4,1116.6 380.8,1119.7 381.3,1128.8 381.8,1131.5 382.2,1136.4 382.7,1143.6 383.2,1148 383.6,1151.9 384.1,1157.6 384.6,1160.9 385.1,1166.7 385.5,1170.5 386,1175.3 386.5,1176.8 386.9,1178.6 387.4,1181.6 387.9,1185.9 388.3,1191.1 388.8,1192.2 389.3,1191.8 389.7,1195.9 390.2,1194.1 390.7,1198.6 391.2,1197.3 391.6,1199.7 392.1,1199.9 392.6,1198.6 393,1199.3 393.5,1196.7 394,1197.5 394.4,1198.3 394.9,1201.6 395.4,1194.8 395.8,1192 396.3,1188.2 396.8,1189 397.3,1182 397.7,1180.3 398.2,1178.8 398.7,1172.8 399.1,1173.2 399.6,1168.3 400.1,1161.1 400.5,1156.3 401,1150 401.5,1144.4 402,1141.7 402.4,1135.9 402.9,1129.2 403.4,1122.4 403.8,1114.1 404.3,1108.4 404.8,1097.8 405.2,1092.5 405.7,1086.9 406.2,1078.2 406.6,1066.6 407.1,1057.9 407.6,1051.7 408.1,1043 408.5,1027.6 409,1019.6 409.5,1010.7 409.9,1002.3 410.4,988.2 410.9,980.3 411.3,967.9 411.8,962 412.3,947.6 412.7,935.7 413.2,924.4 413.7,916.2 414.2,904.7 414.6,890.6 415.1,882.6 415.6,869.3 416,860.3 416.5,849.5 417,840 417.4,832.3 417.9,823.2 418.4,818.1 418.8,811.2 419.3,802.3 419.8,794.3 420.3,792.7 420.7,782.2 421.2,778.4 421.7,780.6 422.1,778.1 422.6,777.1 423.1,773.9 423.5,771.7 424,774.1 424.5,777.8 424.9,777.3 425.4,780.5 425.9,782.7 426.4,787.4 426.8,796.2 427.3,800.7 427.8,803.2 428.2,809.4 428.7,816.9 429.2,825.8 429.6,829.3 430.1,838.4 430.6,841.7 431.1,850.7 431.5,861.2 432,869.3 432.5,872.4 432.9,880.2 433.4,890 433.9,894.4 434.3,900.5 434.8,908.7 435.3,914 435.7,921.3 436.2,925.9 436.7,928.2 437.2,933.6 437.6,937.9 438.1,939.2 438.6,943.3 439,949.8 439.5,947.6 440,954.4 440.4,954.7 440.9,955.1 441.4,957 441.8,957.2 442.3,958.3 442.8,954.7 443.3,953.9 443.7,952.3 444.2,954.2 444.7,949.9 445.1,943.5 445.6,941.2 446.1,936.7 446.5,933.8 447,929.5 447.5,928.3 447.9,915 448.4,914.5 448.9,907.1 449.4,898.3 449.8,892.4 450.3,884.3 450.8,877.7 451.2,871.6 451.7,858.4 452.2,855.5 452.6,843.4 453.1,838.1 453.6,826.8 454.1,819.1 454.5,808.4 455,799.8 455.5,788.1 455.9,776.6 456.4,770.1 456.9,760.5 457.3,753.8 457.8,735.9 458.3,730.4 458.7,724 459.2,710.3 459.7,703.9 460.2,700.8 460.6,691.5 461.1,679.3 461.6,677.4 462,670.6 462.5,663.9 463,658 463.4,653.2 463.9,647 464.4,644.7 464.8,645.2 465.3,642.3 465.8,645.3 466.3,640.6 466.7,637 467.2,643.2 467.7,647 468.1,650.5 468.6,653.9 469.1,656.8 469.5,667.4 470,669 470.5,679 470.9,684.5 471.4,690.8 471.9,705.1 472.4,706.2 472.8,719.5 473.3,732.5 473.8,741.5 474.2,754.8 474.7,764.4 475.2,775.3 475.6,792.5 476.1,799.7 476.6,812.1 477.1,822.6 477.5,835.7 478,851 478.5,863.4 478.9,874.8 479.4,886 479.9,901.1 480.3,909 480.8,923.9 481.3,936.3 481.7,947.3 482.2,961.1 482.7,971.5 483.2,982.9 483.6,999 484.1,1008.4 484.6,1020.4 485,1029.2 485.5,1041.5 486,1051.7 486.4,1062.7 486.9,1074.7 487.4,1080.2 487.8,1090.6 488.3,1099.4 488.8,1102.9 489.3,1115.3 489.7,1126.3 490.2,1135.8 490.7,1142.1 491.1,1152.8 491.6,1160.8 492.1,1165.7 492.5,1175.9 493,1183.5 493.5,1188.4 493.9,1192.9 494.4,1203.1 494.9,1206.9 495.4,1212.6 495.8,1219.2 496.3,1223.9 496.8,1231.8 497.2,1236.6 497.7,1242.4 498.2,1246.4 498.6,1249.2 499.1,1254.7 499.6,1260.6 500,1263 500.5,1271.8 501,1271.3 501.5,1274.7 501.9,1280.8 502.4,1283.8 502.9,1286.1 503.3,1289.1 503.8,1293.2 504.3,1296.8 504.7,1299.6 505.2,1301 505.7,1304.7 506.2,1307.9 506.6,1310.3 507.1,1307.5 507.6,1312.8 508,1315.2 508.5,1318.1 509,1320.8 509.4,1323.8 509.9,1325.3 510.4,1326.2 510.8,1328.2 511.3,1332.2 511.8,1330.8 512.3,1333.6 512.7,1336.9 513.2,1336.8 513.7,1335.2 514.1,1339.7 514.6,1340.1 515.1,1341.8 515.5,1344.6 516,1345.1 516.5,1345.3 516.9,1348 517.4,1348.5 517.9,1349.2 518.4,1350.5 518.8,1351.5 519.3,1351.8 519.8,1352.6 520.2,1354.2 520.7,1353.9 521.2,1354.4 521.6,1358.5 522.1,1357.4 522.6,1358.5 523,1359.2 523.5,1360.2 524,1361 524.5,1361.8 524.9,1361.4 525.4,1364.3 525.9,1363 526.3,1365.8 526.8,1362.8 527.3,1364.5 527.7,1367.7 528.2,1366.9 528.7,1366.9 529.2,1368.8 529.6,1367.6 530.1,1369.6 530.6,1367.3 531,1370.1 531.5,1370.4 532,1372.4 532.4,1373.3 532.9,1371.7 533.4,1375.2 533.8,1373 534.3,1371.7 534.8,1371.8 535.3,1377 535.7,1375.5 536.2,1375.3 536.7,1375.6 537.1,1375.6 537.6,1379 538.1,1377.7 538.5,1380.4 539,1378.3 539.5,1376.1 539.9,1380.4 540.4,1379.3 540.9,1379.8 541.4,1382.4 541.8,1380.5 542.3,1382.6 542.8,1381.5 543.2,1380.9 543.7,1382.8 544.2,1381.8 544.6,1384.4 545.1,1384.3 545.6,1383.6 546,1384.5 546.5,1384.8 547,1384.1 547.5,1385.8 547.9,1384.7 548.4,1386 548.9,1384.4 549.3,1385.9 549.8,1386.6 550.3,1385.4 550.7,1386.1 551.2,1386.2 551.7,1388 552.2,1386.5 552.6,1388.2 553.1,1389.7 553.6,1388.5 554,1386.4 554.5,1388.7 555,1390.1 555.4,1388.7 555.9,1390.6 556.4,1390.2 556.8,1390.2 557.3,1389.6 557.8,1389.5 558.3,1390 558.7,1390.6 559.2,1391.3 559.7,1391.4 560.1,1390.7 560.6,1391.3 561.1,1391.9 561.5,1389.7 562,1390.9 562.5,1391 562.9,1391.9 563.4,1392 563.9,1392.2 564.4,1391.6 564.8,1393.6 565.3,1393.3 565.8,1391.2 566.2,1393.3 566.7,1392.1 567.2,1395.6 567.6,1393.2 568.1,1393.4 568.6,1394.1 569,1393.9 569.5,1394.2 570,1396.3 570.5,1394.8 570.9,1395.7 571.4,1396.2 571.9,1393.8 572.3,1397.1 572.8,1396 573.3,1396.5 573.7,1394.4 574.2,1396.5 574.7,1396.2 575.1,1395.1 575.6,1398.6 576.1,1396.7 576.6,1395.8 577,1396.4 577.5,1397.4 578,1397.8 578.4,1397.2 578.9,1398.1 579.4,1398.5 579.8,1395.3 580.3,1396.3 580.8,1395.9 581.3,1397.2 581.7,1398.9 582.2,1398 582.7,1396.1 583.1,1397.1 583.6,1398.7 584.1,1397 584.5,1397.6 585,1398.1 585.5,1395.7 585.9,1398.8 586.4,1398.4 586.9,1398.7 587.4,1397 587.8,1397.3 588.3,1397.6 588.8,1398.6 589.2,1398.5 589.7,1398.6 590.2,1400.7 590.6,1400.1 591.1,1397.8 591.6,1397.9 592,1400.8 592.5,1398.5 593,1400.5 593.5,1400.8 593.9,1398.4 594.4,1398.7 594.9,1399.2 595.3,1398.1 595.8,1398.1 596.3,1398.8 596.7,1400.3 597.2,1398.8 597.7,1399.2 598.1,1398.9 598.6,1397.9 599.1,1401.3 599.6,1396.8 600,1398.9 600.5,1400.3 601,1398.1 601.4,1400.5 601.9,1401.3 602.4,1398.8 602.8,1400.1 603.3,1398.6 603.8,1400.5 604.3,1400.1 604.7,1400.3 605.2,1401.7 605.7,1400.6 606.1,1401.7 606.6,1400.9 607.1,1398.7 607.5,1400.5 608,1400.8 608.5,1398.5 608.9,1401.8 609.4,1400.4 609.9,1400.8 610.4,1399.3 610.8,1400.5 611.3,1400.7 611.8,1400 612.2,1400.5 612.7,1397.9 613.2,1402.1 613.6,1399.1 614.1,1397.8 614.6,1399.1 615,1399 615.5,1400.1 616,1397.6 616.5,1397.9 616.9,1395.1 617.4,1397.5 617.9,1394.3 618.3,1395.2 618.8,1391.5 619.3,1393.9 619.7,1393.1 620.2,1396.2 620.7,1397.8 621.1,1396.3 621.6,1397.8 622.1,1398.5 622.6,1398.5 623,1399.7 623.5,1399.5 624,1399 624.4,1400.8 624.9,1401.4 625.4,1399.2 625.8,1400.1 626.3,1400.7 626.8,1400.5 627.3,1399.9 627.7,1401.7 628.2,1401.7 628.7,1401.5 629.1,1400.5 629.6,1403.1 630.1,1402.8 630.5,1400.2 631,1400.6 631.5,1402.1 631.9,1399.8 632.4,1401.2 632.9,1400.7 633.4,1399.8 633.8,1400.4 634.3,1398.8 634.8,1400 635.2,1398.3 635.7,1403.3 636.2,1402.3 636.6,1401.9 637.1,1400.7 637.6,1401.4 638,1401.5 638.5,1400.9 639,1400.3 639.5,1397.7 639.9,1398.7 640.4,1397 640.9,1395.6 641.3,1395.2 641.8,1396.6 642.3,1397.1 642.7,1394.3 643.2,1398.1 643.7,1398.1 644.1,1396.4 644.6,1396.9 645.1,1397.9 645.6,1399.6 646,1398.5 646.5,1398 647,1399.9 647.4,1397.3 647.9,1400 648.4,1401.2 648.8,1400.3 649.3,1400.8 649.8,1400.5 650.2,1400.7 650.7,1400 651.2,1398.8 651.7,1399.5 652.1,1399.6 652.6,1401.1 653.1,1401.5 653.5,1400.1 654,1398.6 654.5,1398.6 654.9,1399.2 655.4,1401 655.9,1399.7 656.4,1399.2 656.8,1398.3 657.3,1400.2 657.8,1399.4 658.2,1399 658.7,1399.1 659.2,1400.9 659.6,1398.6 660.1,1400.8 660.6,1400.2 661,1398.7 661.5,1399.6 662,1398.3 662.5,1397.4 662.9,1398 663.4,1397.2 663.9,1398.7 664.3,1398.1 664.8,1398.6 665.3,1398.8 665.7,1394.1 666.2,1398 666.7,1395.4 667.1,1397.7 667.6,1396.3 668.1,1397.4 668.6,1398.7 669,1395 669.5,1397.1 670,1396.6 670.4,1394.4 670.9,1397.2 671.4,1396.4 671.8,1395.6 672.3,1395.2 672.8,1399.7 673.2,1395.2 673.7,1393.4 674.2,1394.3 674.7,1394.7 675.1,1394.5 675.6,1394.7 676.1,1393.4 676.5,1395 677,1393.6 677.5,1392.3 677.9,1392.8 678.4,1393 678.9,1394.3 679.4,1393.6 679.8,1392.3 680.3,1392.5 680.8,1392.5 681.2,1394.4 681.7,1390.9 682.2,1391.9 682.6,1391.9 683.1,1389.5 683.6,1390.5 684,1390.2 684.5,1389 685,1389.9 685.5,1390.1 685.9,1389.8 686.4,1387.8 686.9,1387.8 687.3,1390 687.8,1385.4 688.3,1386.5 688.7,1386.8 689.2,1385.4 689.7,1385.5 690.1,1384.4 690.6,1384.6 691.1,1384.7 691.6,1382.3 692,1382.2 692.5,1381.3 693,1380.2 693.4,1380 693.9,1378 694.4,1379.6 694.8,1380.1 695.3,1379.3 695.8,1378.1 696.2,1374.6 696.7,1376.8 697.2,1373.3 697.7,1373.3 698.1,1374.8 698.6,1370.3 699.1,1371.8 699.5,1370.2 700,1368.7 700.5,1366.8 700.9,1367.5 701.4,1365.4 701.9,1366.2 702.4,1365.4 702.8,1361.1 703.3,1361.1 703.8,1360.3 704.2,1358 704.7,1357 705.2,1357.3 705.6,1355.8 706.1,1352.7 706.6,1352.9 707,1353 707.5,1349.5 708,1348.6 708.5,1350.5 708.9,1348.8 709.4,1343.7 709.9,1342.7 710.3,1343.5 710.8,1340.1 711.3,1339.9 711.7,1338.2 712.2,1338.1 712.7,1332.6 713.1,1331.6 713.6,1331.3 714.1,1332.8 714.6,1329.8 715,1326.2 715.5,1327.6 716,1326.4 716.4,1323.7 716.9,1322.1 717.4,1321.6 717.8,1321.1 718.3,1318.3 718.8,1317.3 719.2,1315.1 719.7,1313.2 720.2,1311.1 720.7,1311.2 721.1,1309.1 721.6,1307.9 722.1,1308.1 722.5,1306.3 723,1305.6 723.5,1301.1 723.9,1302.8 724.4,1300.1 724.9,1298.8 725.3,1297.7 725.8,1299.6 726.3,1298.2 726.8,1295.3 727.2,1293.9 727.7,1294.8 728.2,1293.6 728.6,1295.9 729.1,1291.2 729.6,1290.3 730,1292.2 730.5,1292.3 731,1292.3 731.5,1293.1 731.9,1294.9 732.4,1291.7 732.9,1291.6 733.3,1290.2 733.8,1293.3 734.3,1294.6 734.7,1293.5 735.2,1296.1 735.7,1295.1 736.1,1297.9 736.6,1297.1 737.1,1296 737.6,1297.5 738,1297.3 738.5,1298.1 739,1301.9 739.4,1303.9 739.9,1306.5 740.4,1305 740.8,1306.1 741.3,1306.2 741.8,1310.4 742.2,1311 742.7,1311.1 743.2,1314.3 743.7,1315.6 744.1,1313.8 744.6,1318.8 745.1,1319.5 745.5,1320.4 746,1321.9 746.5,1326.3 746.9,1327.6 747.4,1329.5 747.9,1327.2 748.3,1329.4 748.8,1333 749.3,1331.8 749.8,1334 750.2,1334.1 750.7,1340.4 751.2,1340.9 751.6,1341.6 752.1,1342.8 752.6,1343.5 753,1345 753.5,1347.8 754,1347.5 754.5,1351.4 754.9,1350.6 755.4,1351.5 755.9,1355.7 756.3,1355.2 756.8,1357.4 757.3,1357.5 757.7,1356.4 758.2,1361.2 758.7,1360.1 759.1,1364.4 759.6,1362.3 760.1,1363.1 760.6,1366.9 761,1368.2 761.5,1368.9 762,1368.4 762.4,1372.1 762.9,1370.2 763.4,1372.5 763.8,1373.1 764.3,1374.6 764.8,1377 765.2,1376.1 765.7,1378.5 766.2,1379.6 766.7,1377.5 767.1,1379 767.6,1380.8 768.1,1381.4 768.5,1383.3 769,1381.3 769.5,1385.3 769.9,1386.1 770.4,1385.7 770.9,1384.9 771.3,1387.3 771.8,1387.3 772.3,1389.3 772.8,1389.1 773.2,1390.7 773.7,1389.9 774.2,1392.7 774.6,1388.8 775.1,1390.9 775.6,1393.2 776,1391.3 776.5,1394.5 777,1392.7 777.5,1394.7 777.9,1394 778.4,1395 778.9,1396.1 779.3,1396.2 779.8,1396.3 780.3,1399.7 780.7,1397.6 781.2,1396.8 781.7,1399.4 782.1,1399.6 782.6,1400.4 783.1,1401.5 783.6,1398.5 784,1401.2 784.5,1401.6 785,1400.6 785.4,1401.1 785.9,1397.5 786.4,1400.7 786.8,1403.8 787.3,1399.8 787.8,1401.5 788.2,1402.7 788.7,1403.3 789.2,1404.8 789.7,1401 790.1,1403.3 790.6,1404.5 791.1,1402.1 791.5,1403.8 792,1406.3 792.5,1405.8 792.9,1405.1 793.4,1401.5 793.9,1404.6 794.3,1405.4 794.8,1404.8 795.3,1405.2 795.8,1409.1 796.2,1405.3 796.7,1404.6 797.2,1406.2 797.6,1405.6 798.1,1405.8 798.6,1406.2 799,1407.3 799.5,1406.8 800,1405.2 800.4,1406.6 800.9,1407.4 801.4,1406.4 801.9,1408.4 802.3,1408.1 802.8,1406.1 803.3,1407.8 803.7,1409.8 804.2,1409.4 804.7,1407.6 805.1,1408.8 805.6,1407.1 806.1,1406.2 806.6,1408.7 807,1408.4 807.5,1408.8 808,1408.2 808.4,1408.7 808.9,1407.8 809.4,1409 809.8,1409.5 810.3,1408.5 810.8,1409.6 811.2,1406.6 811.7,1407.9 812.2,1410.6 812.7,1411 813.1,1409.3 813.6,1408.9 814.1,1407.6 814.5,1409.5 815,1410.1 815.5,1407.5 815.9,1409.9 816.4,1409.9 816.9,1409.9 817.3,1408 817.8,1410.1 818.3,1407.7 818.8,1411.2 819.2,1409.7 819.7,1408.2 820.2,1411.2 820.6,1411 821.1,1408.9 821.6,1412.3 822,1408.5 822.5,1410.1 823,1411.1 823.4,1407.1 823.9,1411 824.4,1409.7 824.9,1409.8 825.3,1408.6 825.8,1410.3 826.3,1408.6 826.7,1408.7 827.2,1409.4 827.7,1408.5 828.1,1411.8 828.6,1408.4 829.1,1409 829.6,1409.6 830,1410 830.5,1410.9 831,1410.9 831.4,1409.6 831.9,1409.5 832.4,1410 832.8,1410.9 833.3,1410.8 833.8,1409.3 834.2,1407.5 834.7,1412.5 835.2,1411 835.7,1410.2 836.1,1410.3 836.6,1409.3 837.1,1408.7 837.5,1409.5 838,1409.6 838.5,1409.1 838.9,1408.1 839.4,1409.4 839.9,1410.4 840.3,1409.2 840.8,1409.7 841.3,1407.2 841.8,1409.4 842.2,1409.5 842.7,1408.2 843.2,1407.5 843.6,1410 844.1,1408.6 844.6,1410.1 845,1409 845.5,1410.1 846,1409 846.4,1407.6 846.9,1409.2 847.4,1408.9 847.9,1410 848.3,1408.6 848.8,1408.6 849.3,1410.1 849.7,1410.4 850.2,1409.9 850.7,1410.1 851.1,1409.4 851.6,1409.7 852.1,1409.8 852.6,1409.2 853,1408.7 853.5,1408.7 854,1411.3 854.4,1408.4 854.9,1408.1 855.4,1407.9 855.8,1408.2 856.3,1408.4 856.8,1406.7 857.2,1405.7 857.7,1408.3 858.2,1405.9 858.7,1408.1 859.1,1407.8 859.6,1409 860.1,1409.5 860.5,1407.8 861,1406.7 861.5,1405.8 861.9,1406.2 862.4,1407.1 862.9,1404.5 863.3,1406.9 863.8,1406.7 864.3,1407.4 864.8,1406.1 865.2,1406.5 865.7,1405.4 866.2,1405.6 866.6,1403.9 867.1,1406.1 867.6,1407.6 868,1405.9 868.5,1406 869,1404.2 869.4,1407 869.9,1404.2 870.4,1405.9 870.9,1405 871.3,1403.6 871.8,1405.8 872.3,1404.4 872.7,1404.5 873.2,1404.6 873.7,1403.9 874.1,1403.3 874.6,1404.1 875.1,1402.9 875.5,1403.3 876,1402.2 876.5,1401.1 877,1401.9 877.4,1401.9 877.9,1402.3 878.4,1403.5 878.8,1399.8 879.3,1401.8 879.8,1398.8 880.2,1400 880.7,1400.4 881.2,1398 881.7,1398.3 882.1,1400.5 882.6,1400.1 883.1,1399.6 883.5,1398.5 884,1401.8 884.5,1398.8 884.9,1397.6 885.4,1400.4 885.9,1398.8 886.3,1397.3 886.8,1398.9 887.3,1397.3 887.8,1397.6 888.2,1396.8 888.7,1394.9 889.2,1397 889.6,1395.6 890.1,1393.8 890.6,1393.7 891,1395.4 891.5,1393.4 892,1393.5 892.4,1393.8 892.9,1392.7 893.4,1390.2 893.9,1392.4 894.3,1392.3 894.8,1391.7 895.3,1392.1 895.7,1390 896.2,1389.9 896.7,1390.4 897.1,1387.5 897.6,1389.3 898.1,1388.7 898.5,1386.8 899,1387.5 899.5,1385.5 900,1382.6 900.4,1384.4 900.9,1382.6 901.4,1381.8 901.8,1380.7 902.3,1381.3 902.8,1379.3 903.2,1376.8 903.7,1377.3 904.2,1376.5 904.7,1373.7 905.1,1372.9 905.6,1371.8 906.1,1370.3 906.5,1370.2 907,1369.7 907.5,1369.5 907.9,1367.2 908.4,1365.5 908.9,1364.1 909.3,1362.8 909.8,1358.9 910.3,1358.6 910.8,1356.3 911.2,1353.9 911.7,1351.5 912.2,1349.5 912.6,1347.7 913.1,1344.3 913.6,1344.4 914,1341.3 914.5,1339.1 915,1336.9 915.4,1334.9 915.9,1330.5 916.4,1328.4 916.9,1323.5 917.3,1319.8 917.8,1317.1 918.3,1318.6 918.7,1310.9 919.2,1310.7 919.7,1308.6 920.1,1302.4 920.6,1301.7 921.1,1298.2 921.5,1293.1 922,1291.2 922.5,1284.7 923,1278.6 923.4,1276.1 923.9,1270.4 924.4,1264.7 924.8,1260.2 925.3,1260.7 925.8,1251.8 926.2,1247.6 926.7,1241.7 927.2,1237.9 927.7,1232.2 928.1,1226.7 928.6,1220.2 929.1,1214.5 929.5,1210.1 930,1206.1 930.5,1203.3 930.9,1196.1 931.4,1191.7 931.9,1183.9 932.3,1177.4 932.8,1169.7 933.3,1166.1 933.8,1157 934.2,1154.3 934.7,1151.7 935.2,1144.1 935.6,1139.9 936.1,1132.1 936.6,1125.2 937,1121.5 937.5,1116.6 938,1114.4 938.4,1111 938.9,1102.1 939.4,1098.5 939.9,1094.9 940.3,1090.8 940.8,1085.9 941.3,1085 941.7,1082.7 942.2,1080.3 942.7,1075.5 943.1,1075.6 943.6,1071.4 944.1,1075 944.5,1071.1 945,1072.1 945.5,1072 946,1072.4 946.4,1072.5 946.9,1072.7 947.4,1080.3 947.8,1079.9 948.3,1082.3 948.8,1088.2 949.2,1087.6 949.7,1092.1 950.2,1094.8 950.6,1100.7 951.1,1103.8 951.6,1107.9 952.1,1111.5 952.5,1117.2 953,1123.6 953.5,1123.4 953.9,1131.8 954.4,1136.7 954.9,1142.4 955.3,1145.2 955.8,1155.1 956.3,1158.2 956.8,1164.8 957.2,1170 957.7,1173.8 958.2,1181.4 958.6,1184.9 959.1,1191.8 959.6,1198.4 960,1204.3 960.5,1209.9 961,1215 961.4,1223.7 961.9,1226.4 962.4,1229.1 962.9,1235.1 963.3,1240 963.8,1245.6 964.3,1249.8 964.7,1254.1 965.2,1262.3 965.7,1264.5 966.1,1268.4 966.6,1272.8 967.1,1277.1 967.5,1283.4 968,1286.1 968.5,1290.9 969,1288.8 969.4,1297.2 969.9,1301.8 970.4,1306.5 970.8,1307.2 971.3,1308.1 971.8,1314.4 972.2,1315.8 972.7,1317.2 973.2,1321.7 973.6,1326.7 974.1,1329.5 974.6,1331.5 975.1,1331.6 975.5,1338.7 976,1336.2 976.5,1339.9 976.9,1340.2 977.4,1345.9 977.9,1346.8 978.3,1349.3 978.8,1350.1 979.3,1351.7 979.8,1353.7 980.2,1352.7 980.7,1358 981.2,1359.4 981.6,1359.1 982.1,1361 982.6,1362.8 983,1365.7 983.5,1365.4 984,1366.1 984.4,1366.6 984.9,1366.4 985.4,1368.6 985.9,1370.4 986.3,1371 986.8,1372.3 987.3,1374 987.7,1374.5 988.2,1375.1 988.7,1376.3 989.1,1376.5 989.6,1376.9 990.1,1378.2 990.5,1376.1 991,1380.5 991.5,1377.9 992,1381.1 992.4,1380.6 992.9,1382.5 993.4,1381.7 993.8,1381 994.3,1383.9 994.8,1383.3 995.2,1383.6 995.7,1384 996.2,1385.5 996.6,1385.6 997.1,1385.3 997.6,1383.4 998.1,1385.1 998.5,1386.1 999,1388.4 999.5,1387 999.9,1386.7 1000.4,1388.5 1000.9,1387.2 1001.3,1387.5 1001.8,1387.9 1002.3,1386.1 1002.8,1389.3 1003.2,1388.9 1003.7,1388.2 1004.2,1387.3 1004.6,1389.1 1005.1,1390.7 1005.6,1388.4 1006,1388 1006.5,1389.9 1007,1387.6 1007.4,1386.9 1007.9,1389.2 1008.4,1389 1008.9,1389.6 1009.3,1389.3 1009.8,1390.5 1010.3,1389.8 1010.7,1389.4 1011.2,1389.6 1011.7,1391 1012.1,1391.4 1012.6,1391.4 1013.1,1391.2 1013.5,1386.3 1014,1389.1 1014.5,1389.9 1015,1390.5 1015.4,1388.3 1015.9,1392 1016.4,1390.6 1016.8,1389.5 1017.3,1390.4 1017.8,1389.7 1018.2,1389.2 1018.7,1390.7 1019.2,1389.5 1019.6,1388.3 1020.1,1389.2 1020.6,1389.8 1021.1,1388.5 1021.5,1391.3 1022,1388.4 1022.5,1391.8 1022.9,1390.7 1023.4,1388.4 1023.9,1389.6 1024.3,1390.8 1024.8,1389 1025.3,1387.7 1025.7,1389.2 1026.2,1391.4 1026.7,1386.9 1027.2,1389.3 1027.6,1388.5 1028.1,1388.2 1028.6,1387.7 1029,1387.7 1029.5,1389.2 1030,1388.4 1030.4,1386.3 1030.9,1389.2 1031.4,1385.5 1031.9,1387.7 1032.3,1386.9 1032.8,1387.9 1033.3,1386.6 1033.7,1387.2 1034.2,1385.5 1034.7,1386.5 1035.1,1385.4 1035.6,1387.3 1036.1,1383.4 1036.5,1385.4 1037,1384.2 1037.5,1383.4 1038,1382.1 1038.4,1382.9 1038.9,1380.1 1039.4,1379.7 1039.8,1381.9 1040.3,1378.5 1040.8,1381.8 1041.2,1379.1 1041.7,1379.2 1042.2,1378.4 1042.6,1378.2 1043.1,1376.7 1043.6,1375.9 1044.1,1375.6 1044.5,1376.4 1045,1375.8 1045.5,1375.2 1045.9,1373.2 1046.4,1371.7 1046.9,1369 1047.3,1371.1 1047.8,1370.5 1048.3,1368 1048.7,1368.6 1049.2,1368.2 1049.7,1365.7 1050.2,1365.9 1050.6,1363.8 1051.1,1360.1 1051.6,1360.6 1052,1359.5 1052.5,1359.5 1053,1356.4 1053.4,1355.7 1053.9,1353.7 1054.4,1353.6 1054.9,1352.3 1055.3,1352.1 1055.8,1350.4 1056.3,1348.1 1056.7,1346.7 1057.2,1344.9 1057.7,1343.3 1058.1,1343.6 1058.6,1336.5 1059.1,1337.9 1059.5,1336.8 1060,1336.1 1060.5,1331.3 1061,1331.4 1061.4,1330.2 1061.9,1326.4 1062.4,1322.4 1062.8,1322.6 1063.3,1319.3 1063.8,1319.8 1064.2,1315.6 1064.7,1317.1 1065.2,1312.6 1065.6,1309 1066.1,1307.2 1066.6,1304.1 1067.1,1303.8 1067.5,1303 1068,1298.2 1068.5,1297.4 1068.9,1292.3 1069.4,1291.6 1069.9,1292 1070.3,1284.1 1070.8,1285.4 1071.3,1282.8 1071.7,1275.7 1072.2,1273.8 1072.7,1271.9 1073.2,1272.1 1073.6,1267.4 1074.1,1265.2 1074.6,1263.9 1075,1260.4 1075.5,1257.9 1076,1254.5 1076.4,1254.1 1076.9,1248.6 1077.4,1249.8 1077.9,1244.2 1078.3,1241 1078.8,1240.7 1079.3,1238 1079.7,1231.9 1080.2,1232.9 1080.7,1228.2 1081.1,1226.8 1081.6,1227.1 1082.1,1222.4 1082.5,1222.3 1083,1219.2 1083.5,1220.9 1084,1215.9 1084.4,1212.5 1084.9,1211 1085.4,1209.8 1085.8,1210.1 1086.3,1208.6 1086.8,1208.9 1087.2,1206.6 1087.7,1205.6 1088.2,1205.1 1088.6,1203.7 1089.1,1203.8 1089.6,1204.2 1090.1,1203.9 1090.5,1201.6 1091,1199.7 1091.5,1201.3 1091.9,1203.3 1092.4,1199.3 1092.9,1203 1093.3,1205.2 1093.8,1204.4 1094.3,1204.4 1094.7,1210 1095.2,1210.6 1095.7,1209.3 1096.2,1213.2 1096.6,1214.7 1097.1,1212.5 1097.6,1220.2 1098,1216.3 1098.5,1219.3 1099,1220 1099.4,1224 1099.9,1224 1100.4,1228.3 1100.8,1232.3 1101.3,1233.3 1101.8,1235 1102.3,1240.4 1102.7,1239.1 1103.2,1244.6 1103.7,1245.2 1104.1,1248.7 1104.6,1251.1 1105.1,1254 1105.5,1256.4 1106,1258 1106.5,1261.1 1107,1265.4 1107.4,1267.3 1107.9,1268.5 1108.4,1272 1108.8,1274.8 1109.3,1278.5 1109.8,1281.5 1110.2,1284.1 1110.7,1285.7 1111.2,1289.4 1111.6,1290 1112.1,1290.4 1112.6,1297.2 1113.1,1297.4 1113.5,1301 1114,1303.1 1114.5,1308.3 1114.9,1308 1115.4,1312.6 1115.9,1313.8 1116.3,1315.1 1116.8,1316.9 1117.3,1322 1117.7,1324.1 1118.2,1326.8 1118.7,1330.5 1119.2,1330.3 1119.6,1332.3 1120.1,1333.7 1120.6,1336 1121,1337.2 1121.5,1338.3 1122,1344.1 1122.4,1340.4 1122.9,1345.1 1123.4,1347 1123.8,1348.2 1124.3,1348.2 1124.8,1350.8 1125.3,1351.8 1125.7,1352.4 1126.2,1355.2 1126.7,1356 1127.1,1357.1 1127.6,1360 1128.1,1358.7 1128.5,1362 1129,1361.6 1129.5,1364 1130,1364.5 1130.4,1365.7 1130.9,1364.9 1131.4,1366.1 1131.8,1366.8 1132.3,1368.9 1132.8,1370.5 1133.2,1371.6 1133.7,1370.1 1134.2,1371.5 1134.6,1369.7 1135.1,1369.4 1135.6,1371.7 1136.1,1372.4 1136.5,1371.6 1137,1371.6 1137.5,1375.1 1137.9,1373.6 1138.4,1372.6 1138.9,1378.3 1139.3,1375.6 1139.8,1375 1140.3,1376.5 1140.7,1374.6 1141.2,1377.9 1141.7,1373.6 1142.2,1373.9 1142.6,1375.4 1143.1,1374.5 1143.6,1377.4 1144,1373.1 1144.5,1374.1 1145,1375.3 1145.4,1375.5 1145.9,1375.9 1146.4,1374.7 1146.8,1377 1147.3,1373 1147.8,1373.6 1148.3,1374.2 1148.7,1372.2 1149.2,1371.9 1149.7,1371.3 1150.1,1370.6 1150.6,1369.5 1151.1,1369.8 1151.5,1368 1152,1370.2 1152.5,1367 1153,1371.5 1153.4,1370.5 1153.9,1369.1 1154.4,1366.7 1154.8,1365.6 1155.3,1367.6 1155.8,1365.5 1156.2,1365.4 1156.7,1363 1157.2,1364.9 1157.6,1361.6 1158.1,1362.2 1158.6,1359 1159.1,1359.8 1159.5,1360.7 1160,1358.7 1160.5,1358 1160.9,1359 1161.4,1357 1161.9,1358.1 1162.3,1352.2 1162.8,1355.6 1163.3,1354.7 1163.7,1351 1164.2,1350.5 1164.7,1352.7 1165.2,1349.2 1165.6,1348.9 1166.1,1349.7 1166.6,1347.5 1167,1347.7 1167.5,1344.9 1168,1345.6 1168.4,1345.7 1168.9,1343.7 1169.4,1339.1 1169.8,1342.1 1170.3,1340.2 1170.8,1337.8 1171.3,1339.9 1171.7,1334.3 1172.2,1338.3 1172.7,1333.6 1173.1,1335.5 1173.6,1332 1174.1,1328.9 1174.5,1329.6 1175,1328.6 1175.5,1327.6 1175.9,1326.9 1176.4,1322.7 1176.9,1323.2 1177.4,1322.1 1177.8,1319.1 1178.3,1316.5 1178.8,1314.9 1179.2,1315.7 1179.7,1314 1180.2,1309.9 1180.6,1307.4 1181.1,1309.3 1181.6,1303.3 1182.1,1303.8 1182.5,1300.4 1183,1297 1183.5,1297.6 1183.9,1295 1184.4,1295.2 1184.9,1294.2 1185.3,1288.2 1185.8,1287.7 1186.3,1285.3 1186.7,1280.4 1187.2,1277.4 1187.7,1278.5 1188.2,1272.8 1188.6,1270.6 1189.1,1267.4 1189.6,1264.9 1190,1261.2 1190.5,1260.4 1191,1258.1 1191.4,1252.6 1191.9,1247.9 1192.4,1246.9 1192.8,1241.3 1193.3,1239.4 1193.8,1239 1194.3,1237.3 1194.7,1230.9 1195.2,1225.2 1195.7,1224.6 1196.1,1216.3 1196.6,1215.2 1197.1,1215.1 1197.5,1210.3 1198,1203.3 1198.5,1199.2 1198.9,1199.6 1199.4,1194.5 1199.9,1190 1200.4,1188 1200.8,1182.8 1201.3,1177.1 1201.8,1178 1202.2,1172.1 1202.7,1168.1 1203.2,1164.2 1203.6,1163.5 1204.1,1158.5 1204.6,1157.7 1205.1,1153.2 1205.5,1152.5 1206,1147.2 1206.5,1144.1 1206.9,1139.3 1207.4,1138.4 1207.9,1139.2 1208.3,1141 1208.8,1131.8 1209.3,1130.5 1209.7,1131.3 1210.2,1130.1 1210.7,1127 1211.2,1127.3 1211.6,1123.7 1212.1,1125.4 1212.6,1127.1 1213,1128.2 1213.5,1125.3 1214,1125.4 1214.4,1127.1 1214.9,1128.9 1215.4,1128.8 1215.8,1127.8 1216.3,1130.9 1216.8,1133.4 1217.3,1132.1 1217.7,1132.9 1218.2,1137.9 1218.7,1139.7 1219.1,1142.9 1219.6,1143.7 1220.1,1144.9 1220.5,1147.8 1221,1149.4 1221.5,1152.3 1221.9,1155.7 1222.4,1158.6 1222.9,1164.1 1223.4,1163.2 1223.8,1168.1 1224.3,1170.2 1224.8,1176.6 1225.2,1177.6 1225.7,1179.5 1226.2,1184.5 1226.6,1186.3 1227.1,1188.4 1227.6,1194.6 1228.1,1196.2 1228.5,1200.8 1229,1202.7 1229.5,1205 1229.9,1206.8 1230.4,1207.6 1230.9,1213.2 1231.3,1214.9 1231.8,1218.5 1232.3,1220 1232.7,1221.6 1233.2,1223.6 1233.7,1228.8 1234.2,1232.1 1234.6,1232.1 1235.1,1235.6 1235.6,1239.4 1236,1238.3 1236.5,1241.3 1237,1242.3 1237.4,1248.1 1237.9,1248.9 1238.4,1249.9 1238.8,1250.3 1239.3,1254.6 1239.8,1258.5 1240.3,1258.7 1240.7,1260.6 1241.2,1264.3 1241.7,1263.5 1242.1,1267.6 1242.6,1270.5 1243.1,1270.5 1243.5,1272.5 1244,1276.2 1244.5,1277.8 1244.9,1279.8 1245.4,1282.5 1245.9,1284.7 1246.4,1285.2 1246.8,1287.7 1247.3,1291.5 1247.8,1294.7 1248.2,1297.3 1248.7,1296.3 1249.2,1301.3 1249.6,1303 1250.1,1304.1 1250.6,1307.1 1251,1309.8 1251.5,1313.4 1252,1311.6 1252.5,1316.2 1252.9,1317.4 1253.4,1319.5 1253.9,1323.6 1254.3,1325.3 1254.8,1325 1255.3,1328.2 1255.7,1331 1256.2,1330.9 1256.7,1336.1 1257.2,1336.9 1257.6,1339.3 1258.1,1341.6 1258.6,1345.6 1259,1345.2 1259.5,1346.6 1260,1351.4 1260.4,1350.2 1260.9,1352.1 1261.4,1352.7 1261.8,1357.8 1262.3,1358.5 1262.8,1360.5 1263.3,1361.8 1263.7,1363 1264.2,1363.8 1264.7,1365.4 1265.1,1368.6 1265.6,1369.7 1266.1,1373.1 1266.5,1371.4 1267,1373.2 1267.5,1373.9 1267.9,1378.3 1268.4,1376.2 1268.9,1380.1 1269.4,1382.2 1269.8,1381.3 1270.3,1383.6 1270.8,1381.1 1271.2,1384.4 1271.7,1383.8 1272.2,1387.2 1272.6,1388 1273.1,1387.9 1273.6,1391 1274,1391.1 1274.5,1390.9 1275,1391.7 1275.5,1391.3 1275.9,1393.7 1276.4,1397.3 1276.9,1394.4 1277.3,1396.5 1277.8,1395.9 1278.3,1398.2 1278.7,1398.3 1279.2,1398 1279.7,1396.6 1280.2,1398.7 1280.6,1401.3 1281.1,1399.9 1281.6,1401.4 1282,1400.4 1282.5,1399 1283,1402.2 1283.4,1402.4 1283.9,1401.6 1284.4,1402.1 1284.8,1403.1 1285.3,1402.2 1285.8,1403.6 1286.3,1403.1 1286.7,1400.6 1287.2,1403.4 1287.7,1403 1288.1,1402.8 1288.6,1404.4 1289.1,1403.3 1289.5,1404.6 1290,1405.3 1290.5,1404.2 1290.9,1402.1 1291.4,1403 1291.9,1405 1292.4,1403.5 1292.8,1402.8 1293.3,1403.6 1293.8,1404.2 1294.2,1403.8 1294.7,1404.2 1295.2,1402.2 1295.6,1402.8 1296.1,1402.7 1296.6,1402.8 1297,1400.1 1297.5,1402.2 1298,1400.7 1298.5,1403.9 1298.9,1403.9 1299.4,1403.9 1299.9,1402.6 1300.3,1400.8 1300.8,1402.4 1301.3,1400.8 1301.7,1401.6 1302.2,1399.6 1302.7,1399.8 1303.2,1400.9 1303.6,1402.4 1304.1,1400 1304.6,1402.7 1305,1403.2 1305.5,1398 1306,1399.5 1306.4,1398.2 1306.9,1399.1 1307.4,1398.5 1307.8,1399 1308.3,1400.2 1308.8,1400.2 1309.3,1399.3 1309.7,1399 1310.2,1399.1 1310.7,1399.1 1311.1,1399.7 1311.6,1399 1312.1,1399.7 1312.5,1397.5 1313,1400.2 1313.5,1401.5 1313.9,1399.7 1314.4,1397.9 1314.9,1401.4 1315.4,1399.5 1315.8,1396.4 1316.3,1400 1316.8,1401.3 1317.2,1401.2 1317.7,1402.5 1318.2,1402 1318.6,1401.6 1319.1,1399.3 1319.6,1400.7 1320,1402.6 1320.5,1403.5 1321,1401.7 1321.5,1402.5 1321.9,1404.1 1322.4,1401.6 1322.9,1401.9 1323.3,1404.3 1323.8,1405.2 1324.3,1404.7 1324.7,1402.8 1325.2,1406 1325.7,1404.7 1326.1,1407.5 1326.6,1406.9 1327.1,1407.7 1327.6,1408.5 1328,1407.5 1328.5,1409.4 1329,1410.3 1329.4,1409.6 1329.9,1411.1 1330.4,1409.1 1330.8,1411.3 1331.3,1410.9 1331.8,1409.7 1332.3,1411.1 1332.7,1410.9 1333.2,1411.2 1333.7,1412.3 1334.1,1413.8 1334.6,1412.4 1335.1,1413.3 1335.5,1411.7 1336,1413.9 1336.5,1415.4 1336.9,1415.3 1337.4,1415.2 1337.9,1414.3 1338.4,1414 1338.8,1415.3 1339.3,1414.1 1339.8,1414.5 1340.2,1417.4 1340.7,1415.4 1341.2,1418.9 1341.6,1415.3 1342.1,1417.7 1342.6,1416 1343,1417.9 1343.5,1416.6 1344,1418.1 1344.5,1418.1 1344.9,1418 1345.4,1419.3 1345.9,1420.7 1346.3,1418.4 1346.8,1420.3 1347.3,1419.5 1347.7,1419.6 1348.2,1422.4 1348.7,1417.4 1349.1,1419.3 1349.6,1418.1 1350.1,1420 1350.6,1420.3 1351,1425.2 1351.5,1421.2 1352,1423.1 1352.4,1422.6 1352.9,1420.7 1353.4,1421.9 1353.8,1423.4 1354.3,1421.7 1354.8,1421.9 1355.3,1422.3 1355.7,1420.1 1356.2,1421 1356.7,1422.4 1357.1,1422.8 1357.6,1421.1 1358.1,1421.9 1358.5,1422.2 1359,1422.2 1359.5,1423.3 1359.9,1422.7 1360.4,1422.8 1360.9,1421 1361.4,1421.5 1361.8,1423.1 1362.3,1420.9 1362.8,1423.2 1363.2,1422.1 1363.7,1422 1364.2,1423.7 1364.6,1422.2 1365.1,1422 1365.6,1422.3 1366,1423.2 1366.5,1426.3 1367,1420.6 1367.5,1423.1 1367.9,1422.9 1368.4,1424.3 1368.9,1422.7 1369.3,1420.2 1369.8,1424.7 1370.3,1421.8 1370.7,1423 1371.2,1421.5 1371.7,1421.8 1372.1,1422.5 1372.6,1424 1373.1,1424 1373.6,1422.2 1374,1423.5 1374.5,1422.4 1375,1422.9 1375.4,1422.9 1375.9,1423.4 1376.4,1421.9 1376.8,1422.4 1377.3,1422.8 1377.8,1422.5 1378.3,1421.4 1378.7,1424.3 1379.2,1421.7 1379.7,1423 1380.1,1422.3 1380.6,1423.4 1381.1,1419.3 1381.5,1424.1 1382,1421.4 1382.5,1420.1 1382.9,1421.5 1383.4,1423.9 1383.9,1421.8 1384.4,1419.6 1384.8,1420.4 1385.3,1422.3 1385.8,1419 1386.2,1420.3 1386.7,1420 1387.2,1422.8 1387.6,1419.7 1388.1,1421.4 1388.6,1418.9 1389,1418.6 1389.5,1420.6 1390,1420 1390.5,1417 1390.9,1419.6 1391.4,1419.4 1391.9,1417.8 1392.3,1418.6 1392.8,1418.4 1393.3,1417.3 1393.7,1417 1394.2,1416.7 1394.7,1417 1395.1,1415.5 1395.6,1416.8 1396.1,1414.9 1396.6,1416.5 1397,1416.1 1397.5,1414.8 1398,1416.8 1398.4,1417.8 1398.9,1416.9 1399.4,1413.5 1399.8,1416.3 1400.3,1414.9 1400.8,1414.3 1401.2,1413.4 1401.7,1413.9 1402.2,1415.3 1402.7,1414 1403.1,1412.7 1403.6,1412.1 1404.1,1412.2 1404.5,1413.1 1405,1414.4 1405.5,1410.7 1405.9,1411.7 1406.4,1411 1406.9,1410.3 1407.4,1411.4 1407.8,1411.4 1408.3,1408.8 1408.8,1409 1409.2,1411.5 1409.7,1410.2 1410.2,1410.2 1410.6,1408.8 1411.1,1408.8 1411.6,1409.6 1412,1408.2 1412.5,1407.3 1413,1408.5 1413.5,1409.4 1413.9,1406.9 1414.4,1409.3 1414.9,1408.7 1415.3,1406.7 1415.8,1407.6 1416.3,1407.4 1416.7,1408.1 1417.2,1408.1 1417.7,1405.7 1418.1,1405.5 1418.6,1408.3 1419.1,1407.2 1419.6,1407.5 1420,1407.4 1420.5,1408.8 1421,1405.5 1421.4,1408.3 1421.9,1406 1422.4,1407.9 1422.8,1408.7 1423.3,1405.5 1423.8,1407.7 1424.2,1407 1424.7,1407.1 1425.2,1407.6 1425.7,1406.4 1426.1,1406.6 1426.6,1408.7 1427.1,1409.1 1427.5,1407.5 1428,1406.6 1428.5,1411.3 1428.9,1410 1429.4,1409.3 1429.9,1407.9 1430.4,1408.6 1430.8,1409.8 1431.3,1408.6 1431.8,1411.8 1432.2,1410.3 1432.7,1410.9 1433.2,1409.4 1433.6,1409.8 1434.1,1410.2 1434.6,1411.7 1435,1411.3 1435.5,1411.5 1436,1412.4 1436.5,1412.6 1436.9,1414.3 1437.4,1412.6 1437.9,1411.9 1438.3,1413.3 1438.8,1415.3 1439.3,1413.2 1439.7,1414.1 1440.2,1413.9 1440.7,1415 1441.1,1415.1 1441.6,1414.1 1442.1,1415 1442.6,1416.6 1443,1417 1443.5,1417.1 1444,1417.2 1444.4,1416.1 1444.9,1416.3 1445.4,1418 1445.8,1415.8 1446.3,1417.3 1446.8,1415.4 1447.2,1417.4 1447.7,1417.2 1448.2,1416.8 1448.7,1419.1 1449.1,1417.8 1449.6,1418.4 1450.1,1418.7 1450.5,1418.4 1451,1421.1 1451.5,1419 1451.9,1420 1452.4,1418.5 1452.9,1419.6 1453.4,1420 1453.8,1420.2 1454.3,1420 1454.8,1421 1455.2,1422.8 1455.7,1421 1456.2,1421.2 1456.6,1421 1457.1,1424.6 1457.6,1423.6 1458,1422.6 1458.5,1422.9 1459,1421.4 1459.5,1422.2 1459.9,1422.7 1460.4,1422.7 1460.9,1421.7 1461.3,1421.9 1461.8,1423.5 1462.3,1423.4 1462.7,1420.8 1463.2,1423.4 1463.7,1424.9 1464.1,1422.8 1464.6,1423.9 1465.1,1422 1465.6,1424.8 1466,1422.6 1466.5,1422.6 1467,1423.7 1467.4,1426.9 1467.9,1423.5 1468.4,1422.9 1468.8,1424.9 1469.3,1424.7 1469.8,1426.5 1470.2,1423.2 1470.7,1422.9 1471.2,1424.4 1471.7,1425.3 1472.1,1425.3 1472.6,1426.2 1473.1,1423.3 1473.5,1424.1 1474,1425 1474.5,1426.1 1474.9,1425.8 1475.4,1424.8 1475.9,1424.1 1476.3,1426.4 1476.8,1426.5 1477.3,1428.5 1477.8,1425.3 1478.2,1427.4 1478.7,1424.2 1479.2,1425 1479.6,1424.8 1480.1,1425.1 1480.6,1424.6 1481,1425.1 1481.5,1425.6 1482,1425.2 1482.5,1426.5 1482.9,1425.6 1483.4,1425.8 1483.9,1427.4 1484.3,1426.1 1484.8,1426 1485.3,1425.8 1485.7,1425.9 1486.2,1426.4 1486.7,1424.9 1487.1,1427.1 1487.6,1427.6 1488.1,1427.1 1488.6,1425.2 1489,1423.9 1489.5,1425.2 1490,1425.9 1490.4,1426.6 1490.9,1425.5 1491.4,1425.3 1491.8,1427.3 1492.3,1424.8 1492.8,1426.8 1493.2,1426.6 1493.7,1424 1494.2,1425.8 1494.7,1424.8 1495.1,1424.3 1495.6,1423.2 1496.1,1423.5 1496.5,1425.7 1497,1424.7 1497.5,1425.4 1497.9,1423.9 1498.4,1424.6 1498.9,1424.6 1499.3,1423.1 1499.8,1422.9 1500.3,1425.3 1500.8,1424.9 1501.2,1423.6 1501.7,1424.4 1502.2,1425.2 1502.6,1426.5 1503.1,1423.3 1503.6,1424.9 1504,1426.6 1504.5,1424.2 1505,1425.7 1505.5,1420.9 1505.9,1425.5 1506.4,1423.7 1506.9,1421.5 1507.3,1424.4 1507.8,1424.7 1508.3,1424.8 1508.7,1424.7 1509.2,1423.1 1509.7,1422.2 1510.1,1422.5 1510.6,1422.9 1511.1,1423.3 1511.6,1422.2 1512,1422.7 1512.5,1423.5 1513,1422.8 1513.4,1425 1513.9,1424.8 1514.4,1420.9 1514.8,1421.5 1515.3,1420.5 1515.8,1420.6 1516.2,1422.5 1516.7,1420.7 1517.2,1420.6 1517.7,1421.4 1518.1,1422.6 1518.6,1421.2 1519.1,1421.2 1519.5,1422.6 1520,1422.1 1520.5,1422.1 1520.9,1422.6 1521.4,1420.3 1521.9,1421.8 1522.3,1420.8 1522.8,1422.7 1523.3,1422.5 1523.8,1420.4 1524.2,1423.1 1524.7,1420.3 1525.2,1423 1525.6,1422 1526.1,1420.8 1526.6,1420.6 1527,1421.6 1527.5,1422 1528,1421.2 1528.5,1422.8 1528.9,1420.6 1529.4,1422.3 1529.9,1422.4 1530.3,1420.3 1530.8,1422.9 1531.3,1421.2 1531.7,1419.9 1532.2,1422.2 1532.7,1422.7 1533.1,1424.1 1533.6,1422.6 1534.1,1425 1534.6,1425.1 1535,1424.8 1535.5,1425.2 1536,1424.1 1536.4,1423.2 1536.9,1424.7 1537.4,1425.2 1537.8,1424.4 1538.3,1424 1538.8,1422.6 1539.2,1425.2 1539.7,1425 1540.2,1423.2 1540.7,1424.9 1541.1,1425.7 1541.6,1424.8 1542.1,1425.9 1542.5,1426 1543,1423.5 1543.5,1425 1543.9,1425.9 1544.4,1426.5 1544.9,1427.2 1545.3,1423.4 1545.8,1425.6 1546.3,1426.6 1546.8,1427.3 1547.2,1427.9 1547.7,1424.9 1548.2,1425.6 1548.6,1424.9 1549.1,1427.1 1549.6,1424.7 1550,1427.7 1550.5,1427.5 1551,1427 1551.4,1424 1551.9,1425.8 1552.4,1427.5 1552.9,1425 1553.3,1426.4 1553.8,1426.6 1554.3,1427.8 1554.7,1427.2 1555.2,1427.2 1555.7,1426.4 1556.1,1427 1556.6,1426.8 1557.1,1427.9 1557.6,1426.9 1558,1428.3 1558.5,1425.2 1559,1428.5 1559.4,1427 1559.9,1428.5 1560.4,1427.3 1560.8,1428.3 1561.3,1429 1561.8,1426.7 1562.2,1427.4 1562.7,1427.2 1563.2,1427.6 1563.7,1425.6 1564.1,1427.2 1564.6,1427.2 1565.1,1426.6 1565.5,1427.3 1566,1425.7 1566.5,1429.1 1566.9,1428 1567.4,1429.7 1567.9,1426.6 1568.3,1426.2 1568.8,1427.9 1569.3,1425.7 1569.8,1427.9 1570.2,1426.8 1570.7,1427.2 1571.2,1427.9 1571.6,1427.7 1572.1,1429.8 1572.6,1428.4 1573,1426.2 1573.5,1428.8 1574,1426.1 1574.4,1427.8 1574.9,1426.2 1575.4,1426.7 1575.9,1429.2 1576.3,1427 1576.8,1426.9 1577.3,1427 1577.7,1427.3 1578.2,1429.3 1578.7,1426.3 1579.1,1426.3 1579.6,1428.4 1580.1,1425.9 1580.6,1427.3 1581,1429 1581.5,1427.7 1582,1427.1 1582.4,1426.9 1582.9,1426.6 1583.4,1427 1583.8,1427.8 1584.3,1429.1 1584.8,1428.8 1585.2,1427 1585.7,1426.8 1586.2,1428.5 1586.7,1425.6 1587.1,1427.2 1587.6,1427.3 1588.1,1426.4 1588.5,1426.5 1589,1428 1589.5,1425.7 1589.9,1426.6 1590.4,1426.9 1590.9,1427.7 1591.3,1426 1591.8,1428.9 1592.3,1427.2 1592.8,1427.3 1593.2,1427.2 1593.7,1426.8 1594.2,1426.4 1594.6,1428.9 1595.1,1427.8 1595.6,1427.4 1596,1428.7 1596.5,1426.7 1597,1428.2 1597.4,1427.5 1597.9,1426.5 1598.4,1428.4 1598.9,1425.8 1599.3,1428.2 1599.8,1426.4 1600.3,1427.9 1600.7,1429 1601.2,1428.1 1601.7,1426.7 1602.1,1427.4 1602.6,1427 1603.1,1426 1603.6,1426.1 1604,1427.4 1604.5,1428 1605,1425.3 1605.4,1427.2 1605.9,1427.9 1606.4,1427.4 1606.8,1426.1 1607.3,1428.5 1607.8,1425.9 1608.2,1428 1608.7,1429.1 1609.2,1424.9 1609.7,1427.5 1610.1,1427.6 1610.6,1427.5 1611.1,1426.3 1611.5,1426.8 1612,1425.6 1612.5,1427.3 1612.9,1427.8 1613.4,1426.4 1613.9,1426.1 1614.3,1426.6 1614.8,1427.1 1615.3,1427.2 1615.8,1427 1616.2,1427.1 1616.7,1425.5 1617.2,1423.9 1617.6,1427.7 1618.1,1428.6 1618.6,1425.4 1619,1426.2 1619.5,1427.3 1620,1428 1620.4,1427.7 1620.9,1428.4 1621.4,1426.8 1621.9,1427.4 1622.3,1427.3 1622.8,1426.4 1623.3,1428.2 1623.7,1427.5 1624.2,1427.9 1624.7,1426.3 1625.1,1428 1625.6,1425.6 1626.1,1427.2 1626.5,1423.7 1627,1425.6 1627.5,1427.5 1628,1426.2 1628.4,1426.8 1628.9,1424.8 1629.4,1428.4 1629.8,1427.3 1630.3,1426.5 1630.8,1427 1631.2,1426.9 1631.7,1428.1 1632.2,1426.7 1632.7,1424.8 1633.1,1426.1 1633.6,1427.9 1634.1,1427 1634.5,1425.9 1635,1427 1635.5,1426.4 1635.9,1427 1636.4,1424.4 1636.9,1425.2 1637.3,1426.9 1637.8,1425.9 1638.3,1426.5 1638.8,1428.3 1639.2,1425.7 1639.7,1426.3 1640.2,1425.4 1640.6,1425.2 1641.1,1425.8 1641.6,1424.2 1642,1423.4 1642.5,1427.4 1643,1425.6 1643.4,1427 1643.9,1425.8 1644.4,1425.8 1644.9,1426.4 1645.3,1426.4 1645.8,1424.1 1646.3,1426.8 1646.7,1424.3 1647.2,1425.6 1647.7,1428.2 1648.1,1425.3 1648.6,1427.1 1649.1,1424.7 1649.5,1425.8 1650,1425 1650.5,1425.4 1651,1423.9 1651.4,1423.7 1651.9,1425.1 1652.4,1422.9 1652.8,1423.6 1653.3,1425.2 1653.8,1423.7 1654.2,1423.3 1654.7,1423 1655.2,1424.3 1655.7,1423.7 1656.1,1424.2 1656.6,1423.7 1657.1,1425.9 1657.5,1423.2 1658,1421.4 1658.5,1423.6 1658.9,1423.4 1659.4,1423.4 1659.9,1421.3 1660.3,1424.3 1660.8,1422.9 1661.3,1422.7 1661.8,1420.8 1662.2,1423.1 1662.7,1422.3 1663.2,1423.8 1663.6,1421.6 1664.1,1420.5 1664.6,1421.9 1665,1420.6 1665.5,1421.9 1666,1420.1 1666.4,1421 1666.9,1420.7 1667.4,1420.7 1667.9,1420 1668.3,1419.5 1668.8,1420.1 1669.3,1419.3 1669.7,1420 1670.2,1419.3 1670.7,1416.8 1671.1,1419.1 1671.6,1420.5 1672.1,1419 1672.5,1419.1 1673,1418.7 1673.5,1417.4 1674,1416.2 1674.4,1418.4 1674.9,1418.4 1675.4,1417.6 1675.8,1417.1 1676.3,1416.8 1676.8,1416 1677.2,1416.1 1677.7,1415.4 1678.2,1415.5 1678.7,1413.7 1679.1,1413.7 1679.6,1414.8 1680.1,1413.4 1680.5,1410.6 1681,1413.2 1681.5,1410.1 1681.9,1414.6 1682.4,1412.8 1682.9,1412.4 1683.3,1410.4 1683.8,1409.5 1684.3,1410.1 1684.8,1410 1685.2,1408.7 1685.7,1409.3 1686.2,1409.5 1686.6,1408.9 1687.1,1406.6 1687.6,1404.8 1688,1406.9 1688.5,1405.6 1689,1406.4 1689.4,1407.4 1689.9,1406.9 1690.4,1404.8 1690.9,1405.2 1691.3,1405.4 1691.8,1403 1692.3,1402.7 1692.7,1402.9 1693.2,1401.3 1693.7,1400.2 1694.1,1399.4 1694.6,1399.7 1695.1,1398.4 1695.5,1399.5 1696,1397.6 1696.5,1399.2 1697,1398.3 1697.4,1394.8 1697.9,1397 1698.4,1394.6 1698.8,1396.1 1699.3,1394.5 1699.8,1393.3 1700.2,1393.5 1700.7,1391.5 1701.2,1392 1701.6,1391.4 1702.1,1390.2 1702.6,1390.2 1703.1,1388 1703.5,1389.3 1704,1386.6 1704.5,1388.2 1704.9,1387.4 1705.4,1387.1 1705.9,1385.1 1706.3,1388.8 1706.8,1384.4 1707.3,1384.3 1707.8,1382.7 1708.2,1384.7 1708.7,1382 1709.2,1383.2 1709.6,1380.4 1710.1,1381.4 1710.6,1380.2 1711,1381.3 1711.5,1379.4 1712,1378.3 1712.4,1379.5 1712.9,1377.1 1713.4,1377.1 1713.9,1378.8 1714.3,1375.3 1714.8,1378.2 1715.3,1376.5 1715.7,1375.7 1716.2,1376.8 1716.7,1377.1 1717.1,1375.5 1717.6,1375.8 1718.1,1376.9 1718.5,1376.7 1719,1375.7 1719.5,1374.8 1720,1374.5 1720.4,1375 1720.9,1376.5 1721.4,1376.5 1721.8,1376.2 1722.3,1377.6 1722.8,1375.8 1723.2,1375.8 1723.7,1376 1724.2,1379 1724.6,1374.5 1725.1,1377.5 1725.6,1378 1726.1,1377.8 1726.5,1380.9 1727,1379.8 1727.5,1379.7 1727.9,1378.1 1728.4,1380.1 1728.9,1379.5 1729.3,1380.4 1729.8,1381.1 1730.3,1380.7 1730.8,1382.5 1731.2,1384.2 1731.7,1384 1732.2,1383.5 1732.6,1381.5 1733.1,1385.6 1733.6,1386.1 1734,1385.1 1734.5,1385.3 1735,1387.2 1735.4,1386 1735.9,1388.5 1736.4,1386.8 1736.9,1387.6 1737.3,1389.2 1737.8,1388.1 1738.3,1390.3 1738.7,1391.5 1739.2,1389.9 1739.7,1393.1 1740.1,1391.9 1740.6,1393.7 1741.1,1393.9 1741.5,1393.6 1742,1394.1 1742.5,1393.3 1743,1395 1743.4,1395.4 1743.9,1398.7 1744.4,1398.5 1744.8,1396.2 1745.3,1399.2 1745.8,1399 1746.2,1398.8 1746.7,1400.3 1747.2,1401.1 1747.6,1400 1748.1,1400.8 1748.6,1401.7 1749.1,1400.8 1749.5,1402.6 1750,1402.7 1750.5,1402.4 1750.9,1402.6 1751.4,1404.3 1751.9,1405.3 1752.3,1405 1752.8,1404 1753.3,1406.1 1753.8,1405.8 1754.2,1406.6 1754.7,1407.5 1755.2,1405.4 1755.6,1406.6 1756.1,1406.3 1756.6,1406.3 1757,1409.8 1757.5,1408.8 1758,1405.9 1758.4,1408.6 1758.9,1407.7 1759.4,1409.8 1759.9,1408.7 1760.3,1408.6 1760.8,1409.1 1761.3,1409.5 1761.7,1409.2 1762.2,1409 1762.7,1409.2 1763.1,1410 1763.6,1408.2 1764.1,1409.5 1764.5,1409.4 1765,1409 1765.5,1410.4 1766,1408.1 1766.4,1409.1 1766.9,1408.5 1767.4,1410.1 1767.8,1408.9 1768.3,1409.4 1768.8,1409.7 1769.2,1407.4 1769.7,1409.6 1770.2,1408.1 1770.6,1408.6 1771.1,1408.6 1771.6,1409.5 1772.1,1409.3 1772.5,1410.3 1773,1408.3 1773.5,1407.4 1773.9,1407.1 1774.4,1408.2 1774.9,1409.1 1775.3,1407.4 1775.8,1406.2 1776.3,1406.9 1776.7,1406.6 1777.2,1406.1 1777.7,1404.9 1778.2,1402.6 1778.6,1404.6 1779.1,1406.1 1779.6,1404.9 1780,1401.8 1780.5,1404 1781,1401.6 1781.4,1405.7 1781.9,1403.3 1782.4,1401.4 1782.9,1403.3 1783.3,1401.2 1783.8,1402.4 1784.3,1401.5 1784.7,1399.7 1785.2,1401.5 1785.7,1398.9 1786.1,1401.7 1786.6,1399.9 1787.1,1398.3 1787.5,1397.1 1788,1400.7 1788.5,1400.2 1789,1396.8 1789.4,1399.8 1789.9,1397.8 1790.4,1397.1 1790.8,1397 1791.3,1396.5 1791.8,1398.3 1792.2,1396.5 1792.7,1394 1793.2,1398.4 1793.6,1396.8 1794.1,1394.3 1794.6,1395 1795.1,1394.2 1795.5,1395.1 1796,1395.4 1796.5,1395.1 1796.9,1394 1797.4,1393.7 1797.9,1395.5 1798.3,1394.4 1798.8,1397 1799.3,1393.4 1799.7,1395.3 1800.2,1394.4 1800.7,1393.4 1801.2,1395.9 1801.6,1394.5 1802.1,1393.3 1802.6,1394 1803,1395.6 1803.5,1393 1804,1396.1 1804.4,1395.3 1804.9,1394.2 1805.4,1396.2 1805.9,1396.7 1806.3,1395.4 1806.8,1395 1807.3,1397 1807.7,1396.6 1808.2,1393.8 1808.7,1394.7 1809.1,1394.8 1809.6,1394.6 1810.1,1393.3 1810.5,1396.1 1811,1395.2 1811.5,1395.2 1812,1396.7 1812.4,1394.4 1812.9,1395 1813.4,1395.3 1813.8,1394.5 1814.3,1394.8 1814.8,1395.7 1815.2,1394.7 1815.7,1396.2 1816.2,1393.7 1816.6,1394.6 1817.1,1392.6 1817.6,1394 1818.1,1393.1 1818.5,1395.4 1819,1394.4 1819.5,1394 1819.9,1395.3 1820.4,1394.6 1820.9,1393.5 1821.3,1391.5 1821.8,1390.4 1822.3,1391.7 1822.7,1391 1823.2,1390.3 1823.7,1390.4 1824.2,1388.4 1824.6,1391.7 1825.1,1388.2 1825.6,1388.4 1826,1389.4 1826.5,1386.3 1827,1388.9 1827.4,1388.4 1827.9,1386.5 1828.4,1385 1828.9,1385.2 1829.3,1383.1 1829.8,1386.4 1830.3,1384.2 1830.7,1382.7 1831.2,1381.9 1831.7,1383.1 1832.1,1383.6 1832.6,1379.6 1833.1,1379.8 1833.5,1377.8 1834,1380 1834.5,1378.8 1835,1380.6 1835.4,1377.1 1835.9,1376.1 1836.4,1375 1836.8,1376.2 1837.3,1372.6 1837.8,1374.8 1838.2,1373.5 1838.7,1371.9 1839.2,1370.7 1839.6,1372.4 1840.1,1372.7 1840.6,1369.2 1841.1,1369.7 1841.5,1370.6 1842,1367 1842.5,1366.8 1842.9,1365 1843.4,1365.7 1843.9,1365.2 1844.3,1364.2 1844.8,1363.3 1845.3,1361.7 1845.7,1361.4 1846.2,1361.4 1846.7,1362.9 1847.2,1361 1847.6,1360.2 1848.1,1361.7 1848.6,1361.2 1849,1359.2 1849.5,1359.1 1850,1360.4 1850.4,1359.8 1850.9,1358.1 1851.4,1359.2 1851.8,1358.8 1852.3,1360.1 1852.8,1357.5 1853.3,1359.7 1853.7,1359.1 1854.2,1357.4 1854.7,1360 1855.1,1360 1855.6,1357.4 1856.1,1361.7 1856.5,1358 1857,1358.5 1857.5,1359.6 1858,1361.3 1858.4,1361.4 1858.9,1361 1859.4,1363.2 1859.8,1362.5 1860.3,1364.2 1860.8,1366.5 1861.2,1363.7 1861.7,1360.9 1862.2,1364.1 1862.6,1363.9 1863.1,1366 1863.6,1366.7 1864.1,1365.7 1864.5,1366.5 1865,1368.3 1865.5,1369.1 1865.9,1366.8 1866.4,1372 1866.9,1371.6 1867.3,1372.3 1867.8,1373.4 1868.3,1372.5 1868.7,1374.5 1869.2,1376.6 1869.7,1377.4 1870.2,1377.5 1870.6,1377.3 1871.1,1377.4 1871.6,1380.9 1872,1380.6 1872.5,1380.3 1873,1378.9 1873.4,1381.2 1873.9,1380.7 1874.4,1385.3 1874.8,1384.8 1875.3,1384.3 1875.8,1385.6 1876.3,1389.9 1876.7,1388.9 1877.2,1386.4 1877.7,1388.6 1878.1,1387.9 1878.6,1387.9 1879.1,1390.9 1879.5,1394.2 1880,1393.8 1880.5,1392.6 1881,1392.6 1881.4,1393.9 1881.9,1395.5 1882.4,1392.9 1882.8,1393 1883.3,1398 1883.8,1396.6 1884.2,1398.7 1884.7,1397.4 1885.2,1399.4 1885.6,1397.3 1886.1,1399 1886.6,1400.7 1887.1,1400.4 1887.5,1398.9 1888,1400.9 1888.5,1399.3 1888.9,1398.7 1889.4,1401.4 1889.9,1402.7 1890.3,1402.3 1890.8,1399.9 1891.3,1402.7 1891.7,1402.7 1892.2,1401.5 1892.7,1399.1 1893.2,1403.5 1893.6,1403.5 1894.1,1403.1 1894.6,1400.5 1895,1400.9 1895.5,1404 1896,1403.7 1896.4,1403.4 1896.9,1402.4 1897.4,1403.2 1897.8,1402 1898.3,1402.2 1898.8,1401.5 1899.3,1402.8 1899.7,1401.8 1900.2,1403.4 1900.7,1403 1901.1,1400.9 1901.6,1404 1902.1,1400.2 1902.5,1401.9 1903,1402.5 1903.5,1402.5 1904,1397.9 1904.4,1401.6 1904.9,1401.6 1905.4,1401.6 1905.8,1396.8 1906.3,1398.4 1906.8,1398.8 1907.2,1398.1 1907.7,1399.9 1908.2,1397.1 1908.6,1399.1 1909.1,1397.9 1909.6,1395.1 1910.1,1395.3 1910.5,1395.5 1911,1395.8 1911.5,1396.6 1911.9,1394.7 1912.4,1395.7 1912.9,1392.2 1913.3,1390 1913.8,1393 1914.3,1393.6 1914.7,1392.1 1915.2,1390.9 1915.7,1392.4 1916.2,1393.9 1916.6,1391 1917.1,1389.8 1917.6,1389.3 1918,1392.5 1918.5,1389.6 1919,1390.1 1919.4,1390.6 1919.9,1390.1 1920.4,1387.3 1920.8,1389.4 1921.3,1389 1921.8,1388.4 1922.3,1388.8 1922.7,1386.6 1923.2,1387.1 1923.7,1386.3 1924.1,1387.8 1924.6,1385.9 1925.1,1387.2 1925.5,1385.2 1926,1386.4 1926.5,1386.1 1926.9,1386.4 1927.4,1386.7 1927.9,1386.4 1928.4,1386.4 1928.8,1384.2 1929.3,1388.3 1929.8,1386.3 1930.2,1386.9 1930.7,1386.3 1931.2,1388.8 1931.6,1386.7 1932.1,1388.7 1932.6,1389.8 1933.1,1390.7 1933.5,1390.4 1934,1390 1934.5,1388.1 1934.9,1391.5 1935.4,1391.8 1935.9,1391.7 1936.3,1392.1 1936.8,1391.6 1937.3,1391.3 1937.7,1393.7 1938.2,1394.4 1938.7,1392 1939.2,1394.8 1939.6,1394.5 1940.1,1395.7 1940.6,1395.4 1941,1396.9 1941.5,1397.3 1942,1397.6 1942.4,1395.4 1942.9,1398.5 1943.4,1398.1 1943.8,1397.1 1944.3,1399.9 1944.8,1397.8 1945.3,1401.1 1945.7,1402.6 1946.2,1400.4 1946.7,1402.6 1947.1,1402.5 1947.6,1403.2 1948.1,1401.3 1948.5,1404.1 1949,1404 1949.5,1405.2 1949.9,1404.8 1950.4,1406.5 1950.9,1406 1951.4,1406.9 1951.8,1408.2 1952.3,1407.2 1952.8,1408.6 1953.2,1408.1 1953.7,1408.8 1954.2,1408 1954.6,1409.9 1955.1,1410.9 1955.6,1409.7 1956.1,1411.1 1956.5,1411 1957,1409.6 1957.5,1411.7 1957.9,1413.2 1958.4,1411.4 1958.9,1410.2 1959.3,1412.8 1959.8,1412.1 1960.3,1415.4 1960.7,1413.5 1961.2,1413.8 1961.7,1413.4 1962.2,1414.7 1962.6,1414 1963.1,1413.9 1963.6,1415.1 1964,1414.5 1964.5,1417.2"/>
<path class="c" stroke="#f00" d="M87,1112.6L87.5,1115.5 87.9,1114.4 88.4,1113.1 88.9,1120.5 89.3,1112.1 89.8,1120.7 90.3,1114.4 90.8,1118.2 91.2,1123.5 91.7,1113.7 92.2,1115.8 92.6,1122.3 93.1,1120 93.6,1118.6 94,1120.1 94.5,1118.3 95,1121.1 95.4,1124.6 95.9,1120.6 96.4,1122.1 96.9,1124.8 97.3,1126.9 97.8,1121.4 98.3,1123.7 98.7,1122 99.2,1122.2 99.7,1123 100.1,1122.8 100.6,1120.6 101.1,1120.3 101.6,1123.5 102,1125.7 102.5,1128.4 103,1124.8 103.4,1125.9 103.9,1128.1 104.4,1128.5 104.8,1126.9 105.3,1127.3 105.8,1131.9 106.2,1127.3 106.7,1127.2 107.2,1125 107.7,1129.8 108.1,1128.5 108.6,1133.6 109.1,1128.9 109.5,1131.8 110,1132.3 110.5,1134.1 110.9,1127.9 111.4,1134.5 111.9,1131.3 112.3,1131.3 112.8,1131.1 113.3,1131.2 113.8,1131.6 114.2,1127.5 114.7,1134 115.2,1133.2 115.6,1131.3 116.1,1133.4 116.6,1138.8 117,1134.9 117.5,1133.5 118,1138.3 118.4,1133.1 118.9,1134.7 119.4,1134.1 119.9,1135 120.3,1137.3 120.8,1137.2 121.3,1134.6 121.7,1136.1 122.2,1136.8 122.7,1136 123.1,1137 123.6,1135.8 124.1,1135.9 124.5,1137.8 125,1135.7 125.5,1139 126,1137.9 126.4,1136.6 126.9,1137.5 127.4,1138 127.8,1138.8 128.3,1139.6 128.8,1139.1 129.2,1137.9 129.7,1143 130.2,1142 130.7,1140.5 131.1,1142.5 131.6,1141.4 132.1,1140.3 132.5,1141.2 133,1146.8 133.5,1143.4 133.9,1143.7 134.4,1140.9 134.9,1143.1 135.3,1146.7 135.8,1143.1 136.3,1144.6 136.8,1145.2 137.2,1144.1 137.7,1146.2 138.2,1143.6 138.6,1144.3 139.1,1142.2 139.6,1149 140,1144.4 140.5,1144.2 141,1147 141.4,1143.3 141.9,1144.5 142.4,1143.1 142.9,1144.9 143.3,1144.2 143.8,1146.3 144.3,1145.1 144.7,1144.3 145.2,1145.1 145.7,1145.6 146.1,1145 146.6,1148.1 147.1,1147.8 147.5,1146.9 148,1144.4 148.5,1147.9 149,1144.5 149.4,1147.6 149.9,1147.5 150.4,1146.4 150.8,1146.1 151.3,1146.5 151.8,1152.1 152.2,1147.7 152.7,1148 153.2,1150.4 153.7,1149.5 154.1,1150.9 154.6,1146.6 155.1,1147 155.5,1155.9 156,1149.4 156.5,1149 156.9,1150.1 157.4,1151.8 157.9,1147.7 158.3,1150.7 158.8,1150.3 159.3,1151.8 159.8,1150.9 160.2,1149.7 160.7,1149.2 161.2,1146.3 161.6,1153 162.1,1148.4 162.6,1150.6 163,1154.7 163.5,1150.8 164,1152.9 164.4,1151.4 164.9,1153.2 165.4,1152.1 165.9,1151.1 166.3,1154.8 166.8,1151.8 167.3,1149.9 167.7,1151.9 168.2,1153.6 168.7,1150.5 169.1,1154.2 169.6,1154.3 170.1,1156.9 170.5,1151.8 171,1154.3 171.5,1150 172,1152.4 172.4,1153.4 172.9,1154 173.4,1153.2 173.8,1153.2 174.3,1152.3 174.8,1152.6 175.2,1154 175.7,1154.5 176.2,1154.7 176.7,1155.4 177.1,1155.8 177.6,1150.3 178.1,1152.6 178.5,1153.3 179,1152.4 179.5,1155.5 179.9,1155 180.4,1153.4 180.9,1153.8 181.3,1155.9 181.8,1152.9 182.3,1152.9 182.8,1155.1 183.2,1154.3 183.7,1156 184.2,1154.1 184.6,1154.7 185.1,1152.4 185.6,1151.6 186,1153.3 186.5,1148.4 187,1153.9 187.4,1154.9 187.9,1153.3 188.4,1152.7 188.9,1155 189.3,1152.9 189.8,1154.7 190.3,1156.8 190.7,1154.2 191.2,1154.5 191.7,1153.7 192.1,1153.2 192.6,1153.2 193.1,1152.8 193.5,1154.5 194,1149.7 194.5,1152 195,1153.6 195.4,1150.9 195.9,1152.1 196.4,1151 196.8,1153 197.3,1153.7 197.8,1154.6 198.2,1152.9 198.7,1150.7 199.2,1152.3 199.6,1152.8 200.1,1154.2 200.6,1148 201.1,1152.3 201.5,1148.4 202,1152.7 202.5,1152.2 202.9,1152.2 203.4,1152.8 203.9,1151.9 204.3,1150 204.8,1151.7 205.3,1153 205.8,1150.7 206.2,1150.9 206.7,1148.7 207.2,1152.6 207.6,1149.7 208.1,1149.3 208.6,1149.7 209,1148.9 209.5,1149.8 210,1152.3 210.4,1151.4 210.9,1152.4 211.4,1152.4 211.9,1148.3 212.3,1150.6 212.8,1152.2 213.3,1153.4 213.7,1147.1 214.2,1147 214.7,1150.1 215.1,1148.7 215.6,1147.5 216.1,1149.7 216.5,1147.6 217,1145.1 217.5,1148.7 218,1148.9 218.4,1149.6 218.9,1150 219.4,1148.7 219.8,1147.9 220.3,1147.1 220.8,1145.4 221.2,1147.3 221.7,1149.5 222.2,1148.8 222.6,1151 223.1,1147.3 223.6,1144.6 224.1,1148.7 224.5,1149 225,1145.3 225.5,1144.5 225.9,1147.2 226.4,1148 226.9,1145 227.3,1146.1 227.8,1145.3 228.3,1144.5 228.8,1144.2 229.2,1146.4 229.7,1145.5 230.2,1144.9 230.6,1141.7 231.1,1148.5 231.6,1144.1 232,1145.2 232.5,1143.5 233,1145.7 233.4,1142.6 233.9,1145 234.4,1144.4 234.9,1146 235.3,1142.6 235.8,1143.2 236.3,1143.6 236.7,1147.1 237.2,1141.4 237.7,1143.9 238.1,1142.3 238.6,1143.6 239.1,1143.9 239.5,1142.9 240,1142.9 240.5,1142.8 241,1141.2 241.4,1141.6 241.9,1139.2 242.4,1141 242.8,1140.1 243.3,1140.7 243.8,1142 244.2,1141.3 244.7,1141.2 245.2,1141.9 245.6,1136.4 246.1,1140.4 246.6,1139.5 247.1,1139.2 247.5,1137.1 248,1139.7 248.5,1140.4 248.9,1140 249.4,1138.1 249.9,1138.9 250.3,1139.1 250.8,1140.2 251.3,1139.1 251.8,1137.2 252.2,1136.9 252.7,1136.8 253.2,1136.6 253.6,1135.3 254.1,1136.9 254.6,1134.5 255,1134.1 255.5,1135.6 256,1134 256.4,1134.2 256.9,1131.2 257.4,1135.2 257.9,1133.8 258.3,1133.4 258.8,1134 259.3,1133.4 259.7,1131.8 260.2,1135.5 260.7,1131.7 261.1,1133.5 261.6,1134.5 262.1,1130.7 262.5,1131.5 263,1129.9 263.5,1132.3 264,1130.1 264.4,1128.8 264.9,1132 265.4,1131.2 265.8,1128.3 266.3,1131.1 266.8,1129.4 267.2,1132.8 267.7,1131.1 268.2,1127.6 268.6,1127.8 269.1,1126.7 269.6,1127.9 270.1,1127.5 270.5,1128.3 271,1127.1 271.5,1124.7 271.9,1125.4 272.4,1128.3 272.9,1127.7 273.3,1125.6 273.8,1125.4 274.3,1125.2 274.7,1125.2 275.2,1122.6 275.7,1126 276.2,1123.6 276.6,1124.5 277.1,1120.6 277.6,1124.2 278,1125.4 278.5,1120.3 279,1125.2 279.4,1123.5 279.9,1121.6 280.4,1120.2 280.9,1123.7 281.3,1122.3 281.8,1122.5 282.3,1121 282.7,1120.1 283.2,1122.1 283.7,1119.3 284.1,1121.6 284.6,1117.9 285.1,1118.6 285.5,1117.6 286,1121.1 286.5,1116.7 287,1117.3 287.4,1119.4 287.9,1118.5 288.4,1120.9 288.8,1120.1 289.3,1118.2 289.8,1118 290.2,1114.4 290.7,1115.4 291.2,1115.8 291.6,1115.7 292.1,1113.8 292.6,1114.1 293.1,1114 293.5,1116.2 294,1115 294.5,1113.7 294.9,1113.5 295.4,1113.9 295.9,1112.3 296.3,1112.6 296.8,1110.4 297.3,1113.2 297.7,1113.2 298.2,1112.1 298.7,1111.9 299.2,1111.5 299.6,1113.3 300.1,1110.6 300.6,1108.3 301,1108.3 301.5,1110.3 302,1110.4 302.4,1109.6 302.9,1109.4 303.4,1108.2 303.9,1105.7 304.3,1106.3 304.8,1104.6 305.3,1106 305.7,1104.4 306.2,1105.9 306.7,1105.2 307.1,1102.6 307.6,1105.6 308.1,1105.2 308.5,1102.1 309,1103.7 309.5,1104 310,1102.3 310.4,1103.4 310.9,1102.1 311.4,1102.8 311.8,1101.3 312.3,1100.4 312.8,1100.8 313.2,1100.7 313.7,1099.6 314.2,1098.3 314.6,1097.4 315.1,1097.5 315.6,1096.8 316.1,1097.3 316.5,1096.7 317,1095.9 317.5,1095.5 317.9,1095.2 318.4,1096.4 318.9,1095.4 319.3,1092.7 319.8,1093.4 320.3,1091.9 320.7,1091.6 321.2,1090.8 321.7,1089.7 322.2,1088.2 322.6,1086.2 323.1,1088.8 323.6,1089.3 324,1086.1 324.5,1087 325,1085.2 325.4,1085.2 325.9,1083.1 326.4,1083 326.9,1082.2 327.3,1078.6 327.8,1080.8 328.3,1079.4 328.7,1075.6 329.2,1078.3 329.7,1076.4 330.1,1075.6 330.6,1074.6 331.1,1072.4 331.5,1070.4 332,1069.8 332.5,1068.5 333,1070.3 333.4,1068.3 333.9,1064 334.4,1062.4 334.8,1061.7 335.3,1060.2 335.8,1056.8 336.2,1054.6 336.7,1056.3 337.2,1053.1 337.6,1047.7 338.1,1045.2 338.6,1044.1 339.1,1043 339.5,1040.9 340,1037.2 340.5,1032.8 340.9,1032.4 341.4,1029.9 341.9,1026.1 342.3,1022.3 342.8,1020.4 343.3,1016.2 343.7,1011.3 344.2,1009.3 344.7,1003.7 345.2,1002.8 345.6,998.1 346.1,992 346.6,989.3 347,986.3 347.5,977.1 348,975.1 348.4,972.7 348.9,963.3 349.4,960.1 349.8,953.1 350.3,949.6 350.8,940.7 351.3,936.1 351.7,931.9 352.2,927 352.7,921.3 353.1,915.2 353.6,910 354.1,902.9 354.5,896.5 355,887.3 355.5,881.9 356,880.3 356.4,872.1 356.9,863.1 357.4,856.1 357.8,849.6 358.3,840.5 358.8,837.3 359.2,826.7 359.7,820.4 360.2,817.3 360.6,803.8 361.1,801.2 361.6,791.4 362.1,787 362.5,781.9 363,775.7 363.5,771.1 363.9,764.3 364.4,760.5 364.9,754.2 365.3,751.3 365.8,745.8 366.3,746 366.7,739.7 367.2,740.7 367.7,736.8 368.2,735.5 368.6,737.1 369.1,734.8 369.6,731.4 370,736.1 370.5,731.2 371,738.2 371.4,739.1 371.9,739.8 372.4,745.2 372.8,747.9 373.3,755.5 373.8,755.4 374.3,763.8 374.7,767.5 375.2,769.1 375.7,774 376.1,783 376.6,786.1 377.1,792.4 377.5,797.6 378,802 378.5,809.4 379,814.6 379.4,819.8 379.9,828 380.4,837.5 380.8,843.4 381.3,846.8 381.8,853.1 382.2,859.7 382.7,866.9 383.2,871 383.6,875.5 384.1,881.1 384.6,888.9 385.1,896.5 385.5,896.7 386,899.5 386.5,908.8 386.9,912.1 387.4,917 387.9,923 388.3,925.4 388.8,927.4 389.3,930.3 389.7,936.8 390.2,938.7 390.7,944.1 391.2,945 391.6,949.3 392.1,950.4 392.6,954.6 393,956.9 393.5,960.6 394,963.7 394.4,963.3 394.9,963.9 395.4,969.4 395.8,968.4 396.3,969.8 396.8,970.7 397.3,972.6 397.7,972.5 398.2,972.3 398.7,972.6 399.1,970.2 399.6,970.4 400.1,970.7 400.5,970.4 401,969.5 401.5,968.9 402,967.4 402.4,965.4 402.9,962.2 403.4,964.1 403.8,961.9 404.3,957.7 404.8,957.5 405.2,955 405.7,952 406.2,946.4 406.6,944.5 407.1,942.3 407.6,942.4 408.1,935.3 408.5,932.5 409,927.7 409.5,924.7 409.9,921.9 410.4,914.1 410.9,908.6 411.3,909.4 411.8,903.9 412.3,898.1 412.7,895.7 413.2,890.6 413.7,880.7 414.2,878.5 414.6,875.1 415.1,866.8 415.6,861.8 416,858.1 416.5,850.4 417,843.1 417.4,838 417.9,831 418.4,828.1 418.8,818.4 419.3,816.9 419.8,806.5 420.3,803.3 420.7,794.8 421.2,790.9 421.7,787.3 422.1,781.8 422.6,776.5 423.1,768.6 423.5,763.7 424,758.8 424.5,754.5 424.9,748 425.4,746.2 425.9,740.6 426.4,738.2 426.8,733.4 427.3,730.5 427.8,725 428.2,722.9 428.7,719.1 429.2,719 429.6,717.7 430.1,718.4 430.6,713.9 431.1,721.5 431.5,715.5 432,718.2 432.5,718.5 432.9,713.1 433.4,718.5 433.9,723.2 434.3,718.1 434.8,725.9 435.3,725.3 435.7,728.7 436.2,732.6 436.7,731.8 437.2,738.5 437.6,740.2 438.1,743.2 438.6,749 439,757.2 439.5,754.9 440,758.6 440.4,760.7 440.9,762.7 441.4,767.5 441.8,772.7 442.3,773.2 442.8,777.1 443.3,777.8 443.7,784.9 444.2,779.9 444.7,785.8 445.1,787.5 445.6,788.6 446.1,787.6 446.5,788.6 447,791 447.5,792.2 447.9,790.3 448.4,790.6 448.9,793.1 449.4,793.4 449.8,789.9 450.3,788.6 450.8,787.2 451.2,791 451.7,785.6 452.2,782.4 452.6,781.7 453.1,781 453.6,775.9 454.1,768 454.5,766.5 455,761.9 455.5,757.7 455.9,751.6 456.4,748.1 456.9,741.7 457.3,738.9 457.8,732.7 458.3,724.2 458.7,717.5 459.2,713.4 459.7,708.9 460.2,701.8 460.6,693.9 461.1,680.9 461.6,678.9 462,671.1 462.5,664.5 463,655.4 463.4,649.4 463.9,641.5 464.4,640.4 464.8,629.2 465.3,620.1 465.8,613.2 466.3,606 466.7,599.7 467.2,592 467.7,586.3 468.1,582.3 468.6,576.3 469.1,569.9 469.5,567 470,560.4 470.5,554.1 470.9,549.1 471.4,548.4 471.9,547.4 472.4,546.6 472.8,547 473.3,543.3 473.8,543.1 474.2,547.2 474.7,549.6 475.2,548.5 475.6,553 476.1,558.7 476.6,560.7 477.1,564.7 477.5,566.1 478,578.7 478.5,583.8 478.9,589.7 479.4,595.9 479.9,602.1 480.3,612.5 480.8,621 481.3,632.1 481.7,636.8 482.2,651.2 482.7,658.1 483.2,669.9 483.6,675.8 484.1,688.2 484.6,699.8 485,707.9 485.5,715.2 486,727.4 486.4,739.1 486.9,745.7 487.4,755.7 487.8,768.6 488.3,776.4 488.8,789 489.3,795.5 489.7,804 490.2,815.2 490.7,828.2 491.1,833.4 491.6,843.8 492.1,853 492.5,859.7 493,871.4 493.5,878.2 493.9,886.7 494.4,891.2 494.9,898.9 495.4,904.8 495.8,916.2 496.3,923.2 496.8,931.6 497.2,939.6 497.7,943.5 498.2,949.9 498.6,957.1 499.1,964.7 499.6,967.1 500,974.9 500.5,979.1 501,984.3 501.5,991.1 501.9,993.7 502.4,998.1 502.9,1005.2 503.3,1008.8 503.8,1012.8 504.3,1017.1 504.7,1022 505.2,1024.7 505.7,1030 506.2,1033.2 506.6,1038.1 507.1,1041.2 507.6,1043.9 508,1045.5 508.5,1049 509,1050.9 509.4,1058.3 509.9,1056.9 510.4,1060.5 510.8,1064.1 511.3,1062.9 511.8,1065.9 512.3,1068.7 512.7,1070 513.2,1071.7 513.7,1074.7 514.1,1079 514.6,1080.1 515.1,1081 515.5,1082.7 516,1082.2 516.5,1086.8 516.9,1088 517.4,1087.6 517.9,1090.7 518.4,1091.5 518.8,1092.5 519.3,1093.2 519.8,1094.8 520.2,1095.7 520.7,1098.7 521.2,1099.7 521.6,1100.7 522.1,1101.2 522.6,1101.9 523,1106 523.5,1102.1 524,1106.9 524.5,1106.8 524.9,1107.3 525.4,1107.5 525.9,1108.7 526.3,1108.3 526.8,1108.9 527.3,1111.3 527.7,1110.1 528.2,1114 528.7,1115.1 529.2,1110.1 529.6,1113.2 530.1,1116.1 530.6,1116.7 531,1117.2 531.5,1118.3 532,1119.3 532.4,1120 532.9,1121.8 533.4,1120.2 533.8,1121.8 534.3,1119.3 534.8,1121.7 535.3,1120.9 535.7,1124.6 536.2,1126.3 536.7,1124.6 537.1,1122.9 537.6,1124.8 538.1,1125.5 538.5,1126.1 539,1127.7 539.5,1128 539.9,1124 540.4,1129.3 540.9,1127.5 541.4,1127.9 541.8,1130.7 542.3,1129 542.8,1128.1 543.2,1128.5 543.7,1130.6 544.2,1132 544.6,1133.1 545.1,1131.5 545.6,1131.5 546,1134.3 546.5,1132.2 547,1134.8 547.5,1133.7 547.9,1134 548.4,1133.8 548.9,1134.7 549.3,1134.1 549.8,1134.2 550.3,1135.1 550.7,1134.8 551.2,1136.3 551.7,1136.3 552.2,1136.2 552.6,1136.5 553.1,1136.7 553.6,1139.4 554,1137.5 554.5,1137.1 555,1137.7 555.4,1139.1 555.9,1138.3 556.4,1138.6 556.8,1138.8 557.3,1139.5 557.8,1140 558.3,1140.3 558.7,1138 559.2,1138.9 559.7,1137.3 560.1,1141.6 560.6,1142.2 561.1,1142.6 561.5,1141.5 562,1142.9 562.5,1141.7 562.9,1141.7 563.4,1140.3 563.9,1141.4 564.4,1141.8 564.8,1143.8 565.3,1144.8 565.8,1142.5 566.2,1143.7 566.7,1143.7 567.2,1142.6 567.6,1141.7 568.1,1143 568.6,1142.4 569,1143.9 569.5,1144.2 570,1144.4 570.5,1144.5 570.9,1145.5 571.4,1143.9 571.9,1146.2 572.3,1143.4 572.8,1145.6 573.3,1146.1 573.7,1144.8 574.2,1144 574.7,1146.8 575.1,1145.4 575.6,1147.3 576.1,1147.4 576.6,1146.6 577,1146.7 577.5,1148 578,1147.5 578.4,1146 578.9,1147.5 579.4,1148 579.8,1147.7 580.3,1147.9 580.8,1147.6 581.3,1147.7 581.7,1146.9 582.2,1146.4 582.7,1149.5 583.1,1147.6 583.6,1148.7 584.1,1146.8 584.5,1148.8 585,1147.8 585.5,1152.4 585.9,1147.8 586.4,1147.9 586.9,1150.3 587.4,1150.6 587.8,1146.9 588.3,1149.8 588.8,1150.6 589.2,1148.2 589.7,1150.6 590.2,1149.2 590.6,1148.8 591.1,1149.6 591.6,1149.6 592,1148.6 592.5,1152.9 593,1149.8 593.5,1149.6 593.9,1151.5 594.4,1150.5 594.9,1152.3 595.3,1150.5 595.8,1151.3 596.3,1151.1 596.7,1151.2 597.2,1150.9 597.7,1151.1 598.1,1153.2 598.6,1150.5 599.1,1150.8 599.6,1151.1 600,1152.2 600.5,1152.1 601,1152.8 601.4,1150.2 601.9,1152.1 602.4,1151.7 602.8,1151.6 603.3,1152.2 603.8,1149.8 604.3,1152.5 604.7,1152.4 605.2,1150.6 605.7,1152.2 606.1,1154.2 606.6,1152 607.1,1153.2 607.5,1152.3 608,1151.7 608.5,1151.6 608.9,1152.3 609.4,1154.3 609.9,1153.8 610.4,1152.1 610.8,1154.1 611.3,1152.9 611.8,1152.3 612.2,1153.6 612.7,1152.1 613.2,1151.4 613.6,1154.7 614.1,1151.1 614.6,1153.7 615,1151.1 615.5,1152.4 616,1151.5 616.5,1150.3 616.9,1147 617.4,1148.2 617.9,1147.1 618.3,1145.4 618.8,1146.2 619.3,1147.9 619.7,1147 620.2,1149.4 620.7,1149.1 621.1,1152.1 621.6,1153.4 622.1,1156.1 622.6,1154.7 623,1154.5 623.5,1155.7 624,1153 624.4,1155.5 624.9,1153.7 625.4,1153.6 625.8,1155.6 626.3,1154.7 626.8,1156 627.3,1152.8 627.7,1154.8 628.2,1153.9 628.7,1154.3 629.1,1152.4 629.6,1155.7 630.1,1154.9 630.5,1153.5 631,1153.2 631.5,1153.7 631.9,1156.4 632.4,1154.7 632.9,1154.4 633.4,1155.4 633.8,1154.9 634.3,1155.2 634.8,1155.8 635.2,1155.3 635.7,1156 636.2,1153.6 636.6,1155.1 637.1,1154.6 637.6,1155.1 638,1154.9 638.5,1154.2 639,1154.4 639.5,1155.8 639.9,1153.8 640.4,1152.7 640.9,1154.5 641.3,1154.4 641.8,1152.5 642.3,1152.5 642.7,1150.9 643.2,1151.3 643.7,1152.6 644.1,1152.3 644.6,1151.7 645.1,1151.5 645.6,1150.4 646,1153.1 646.5,1153.8 647,1155 647.4,1156.5 647.9,1155 648.4,1156 648.8,1153.8 649.3,1156.6 649.8,1156.3 650.2,1157 650.7,1156.2 651.2,1156 651.7,1157.2 652.1,1154.7 652.6,1156.2 653.1,1156.7 653.5,1154.6 654,1154.2 654.5,1156 654.9,1155.6 655.4,1156.2 655.9,1156.3 656.4,1154.6 656.8,1155.9 657.3,1156.8 657.8,1155.1 658.2,1155.2 658.7,1154.2 659.2,1156.4 659.6,1157.7 660.1,1153.9 660.6,1156.4 661,1156.5 661.5,1154.9 662,1155.1 662.5,1154.3 662.9,1154.6 663.4,1155.7 663.9,1156.2 664.3,1155.6 664.8,1156.4 665.3,1155.6 665.7,1154.1 666.2,1157 666.7,1156.7 667.1,1154.5 667.6,1157.4 668.1,1155.8 668.6,1155.4 669,1157.5 669.5,1152.4 670,1153.4 670.4,1156 670.9,1154.9 671.4,1154 671.8,1156.8 672.3,1155.6 672.8,1153.5 673.2,1154.2 673.7,1155.9 674.2,1156.9 674.7,1152.5 675.1,1155 675.6,1154.3 676.1,1152.6 676.5,1154.4 677,1152.7 677.5,1153.8 677.9,1156.2 678.4,1154.9 678.9,1155.1 679.4,1154.8 679.8,1154.4 680.3,1155.1 680.8,1152.5 681.2,1153.3 681.7,1154.6 682.2,1152.7 682.6,1152.9 683.1,1154.7 683.6,1154.9 684,1152.3 684.5,1151.9 685,1153.4 685.5,1152.9 685.9,1151.6 686.4,1152.9 686.9,1152.7 687.3,1152 687.8,1155.1 688.3,1153.1 688.7,1152.2 689.2,1152.2 689.7,1154.3 690.1,1151.9 690.6,1149.5 691.1,1150.4 691.6,1149.9 692,1148.9 692.5,1149.5 693,1149.2 693.4,1148.5 693.9,1147.7 694.4,1148.9 694.8,1145.7 695.3,1148.2 695.8,1146.8 696.2,1146.7 696.7,1143.2 697.2,1147.5 697.7,1143.1 698.1,1143.6 698.6,1144.9 699.1,1143 699.5,1142.7 700,1140 700.5,1141.6 700.9,1141.8 701.4,1141.8 701.9,1140 702.4,1140 702.8,1139.6 703.3,1137.7 703.8,1136.9 704.2,1139.4 704.7,1135.3 705.2,1137.1 705.6,1134.9 706.1,1135.8 706.6,1132.5 707,1133.1 707.5,1132 708,1130.5 708.5,1130.2 708.9,1128 709.4,1127.9 709.9,1126.6 710.3,1127 710.8,1124.9 711.3,1122.3 711.7,1122.5 712.2,1121.8 712.7,1119.7 713.1,1121.4 713.6,1119.1 714.1,1118.5 714.6,1115.3 715,1114.6 715.5,1115.1 716,1110.9 716.4,1111.9 716.9,1110.2 717.4,1108.2 717.8,1107.7 718.3,1104.9 718.8,1105.2 719.2,1102.1 719.7,1100.6 720.2,1102.6 720.7,1098.6 721.1,1095.5 721.6,1098 722.1,1094.4 722.5,1089.5 723,1092.5 723.5,1092.4 723.9,1090.3 724.4,1090.7 724.9,1087 725.3,1086.6 725.8,1083.2 726.3,1083.4 726.8,1083.9 727.2,1081.3 727.7,1079.6 728.2,1075.6 728.6,1076.5 729.1,1074.2 729.6,1075.8 730,1072.8 730.5,1073.2 731,1070.5 731.5,1073.4 731.9,1068.5 732.4,1069.5 732.9,1072.1 733.3,1068.2 733.8,1066.2 734.3,1067.7 734.7,1067.8 735.2,1067.3 735.7,1063.3 736.1,1066 736.6,1062.8 737.1,1068.1 737.6,1065.8 738,1065.2 738.5,1066.9 739,1067 739.4,1065.2 739.9,1069.4 740.4,1067.5 740.8,1066.1 741.3,1071 741.8,1071.9 742.2,1072.4 742.7,1072.4 743.2,1071.5 743.7,1074.9 744.1,1077.2 744.6,1077 745.1,1079.2 745.5,1077.3 746,1081 746.5,1082.2 746.9,1080.3 747.4,1081.5 747.9,1084.2 748.3,1086.6 748.8,1088.6 749.3,1089.2 749.8,1090.9 750.2,1092.3 750.7,1094.1 751.2,1096.3 751.6,1097.7 752.1,1098.5 752.6,1100.5 753,1101.1 753.5,1104.2 754,1104.1 754.5,1108.3 754.9,1107.7 755.4,1109.6 755.9,1109.8 756.3,1111.8 756.8,1113.9 757.3,1115.2 757.7,1115.8 758.2,1116.6 758.7,1119.5 759.1,1121 759.6,1122.8 760.1,1125.1 760.6,1124.4 761,1123.7 761.5,1127.2 762,1126.4 762.4,1128.3 762.9,1132.4 763.4,1133 763.8,1132.7 764.3,1133.9 764.8,1135.7 765.2,1134.7 765.7,1138.6 766.2,1138.6 766.7,1142.3 767.1,1139.8 767.6,1143.3 768.1,1142.2 768.5,1145.3 769,1143.7 769.5,1146.7 769.9,1146.2 770.4,1146.6 770.9,1148.2 771.3,1149.8 771.8,1150.5 772.3,1152.7 772.8,1152.6 773.2,1149.2 773.7,1152.6 774.2,1151.4 774.6,1154 775.1,1155.8 775.6,1154.1 776,1155 776.5,1157.2 777,1157.2 777.5,1160 777.9,1159.1 778.4,1159.9 778.9,1161.9 779.3,1159.7 779.8,1160.8 780.3,1160.1 780.7,1162.1 781.2,1163.4 781.7,1164.3 782.1,1163 782.6,1162.6 783.1,1163 783.6,1162.6 784,1164.8 784.5,1166.7 785,1162.6 785.4,1163.2 785.9,1167.7 786.4,1164.5 786.8,1167.1 787.3,1165.6 787.8,1168.3 788.2,1168.6 788.7,1168.1 789.2,1169.2 789.7,1168.5 790.1,1169.4 790.6,1171.1 791.1,1170.5 791.5,1168.7 792,1168.7 792.5,1169.6 792.9,1169.8 793.4,1170.4 793.9,1169.8 794.3,1171.5 794.8,1170.9 795.3,1171.5 795.8,1171.3 796.2,1172.2 796.7,1170.2 797.2,1173.6 797.6,1172.4 798.1,1172.6 798.6,1173 799,1173.7 799.5,1173.4 800,1173 800.4,1172.6 800.9,1171 801.4,1173.3 801.9,1172.8 802.3,1173 802.8,1176.3 803.3,1171.4 803.7,1173.7 804.2,1175.2 804.7,1175 805.1,1175.4 805.6,1172.6 806.1,1173 806.6,1175 807,1174 807.5,1176.4 808,1174.8 808.4,1174.8 808.9,1175.2 809.4,1174.4 809.8,1175 810.3,1174.1 810.8,1174.9 811.2,1174.5 811.7,1175.4 812.2,1173.5 812.7,1173.5 813.1,1175.8 813.6,1175.6 814.1,1174.2 814.5,1175.2 815,1174.2 815.5,1177.9 815.9,1173.7 816.4,1177.6 816.9,1174.7 817.3,1176.2 817.8,1175.4 818.3,1175.3 818.8,1176.9 819.2,1176.8 819.7,1175.5 820.2,1174.9 820.6,1178.4 821.1,1177.6 821.6,1176.2 822,1175.7 822.5,1176.4 823,1176.2 823.4,1177.5 823.9,1175 824.4,1176.2 824.9,1175.3 825.3,1177.7 825.8,1178.3 826.3,1176.1 826.7,1176.9 827.2,1177.9 827.7,1176 828.1,1175.2 828.6,1177.6 829.1,1176.9 829.6,1176.1 830,1178.1 830.5,1176.7 831,1174.3 831.4,1176.8 831.9,1176.3 832.4,1178.6 832.8,1176.4 833.3,1176.2 833.8,1177 834.2,1176.7 834.7,1174.8 835.2,1176.6 835.7,1176.1 836.1,1178.1 836.6,1179.3 837.1,1175.1 837.5,1175.3 838,1175.4 838.5,1175.7 838.9,1175.6 839.4,1176.5 839.9,1177.7 840.3,1174.9 840.8,1174.6 841.3,1174.2 841.8,1177.7 842.2,1177.9 842.7,1174.5 843.2,1174.4 843.6,1176.5 844.1,1177.6 844.6,1177.5 845,1176.5 845.5,1177 846,1176.6 846.4,1175.6 846.9,1178.4 847.4,1176.2 847.9,1174.8 848.3,1175.6 848.8,1174.3 849.3,1176.1 849.7,1177.3 850.2,1174.5 850.7,1177.3 851.1,1178.4 851.6,1176.4 852.1,1174.5 852.6,1174.8 853,1175.4 853.5,1174.3 854,1174.3 854.4,1175.4 854.9,1175.4 855.4,1176.3 855.8,1174.2 856.3,1177.7 856.8,1176.7 857.2,1176.5 857.7,1174.6 858.2,1177.4 858.7,1174.9 859.1,1177.4 859.6,1176.5 860.1,1174.1 860.5,1174.6 861,1177.2 861.5,1176.2 861.9,1174.7 862.4,1175.1 862.9,1175 863.3,1173.8 863.8,1174.5 864.3,1173.8 864.8,1174.1 865.2,1175 865.7,1173.3 866.2,1175.2 866.6,1174.4 867.1,1175.1 867.6,1175.2 868,1175.5 868.5,1174.7 869,1174.7 869.4,1173.6 869.9,1174.4 870.4,1172.6 870.9,1173.3 871.3,1174.4 871.8,1173.3 872.3,1173.8 872.7,1171.9 873.2,1174.7 873.7,1172.3 874.1,1173.4 874.6,1172.8 875.1,1173.8 875.5,1172.1 876,1171.3 876.5,1170.1 877,1171.9 877.4,1170.7 877.9,1172.6 878.4,1173.6 878.8,1169.1 879.3,1170.1 879.8,1171.9 880.2,1172.8 880.7,1171.6 881.2,1171.5 881.7,1171.6 882.1,1171.5 882.6,1172.6 883.1,1171.3 883.5,1168.9 884,1169.7 884.5,1170.3 884.9,1168.9 885.4,1169.4 885.9,1168.9 886.3,1168.5 886.8,1170 887.3,1168.6 887.8,1167.5 888.2,1167.8 888.7,1168.5 889.2,1170.8 889.6,1168.3 890.1,1169.6 890.6,1168.2 891,1164.8 891.5,1167.6 892,1165.9 892.4,1165.1 892.9,1165.2 893.4,1168.3 893.9,1164 894.3,1164.9 894.8,1166.8 895.3,1165.9 895.7,1162.8 896.2,1164.4 896.7,1163.6 897.1,1163.7 897.6,1164.5 898.1,1162.6 898.5,1162.5 899,1164.3 899.5,1160 900,1161.4 900.4,1162 900.9,1159.5 901.4,1159.9 901.8,1158.6 902.3,1159.9 902.8,1158.5 903.2,1159.8 903.7,1159.6 904.2,1157.9 904.7,1156.8 905.1,1157.1 905.6,1156.3 906.1,1154.1 906.5,1156.3 907,1154.6 907.5,1154.7 907.9,1151.4 908.4,1153.4 908.9,1154.2 909.3,1151.6 909.8,1148.3 910.3,1149.3 910.8,1148.3 911.2,1147.8 911.7,1146.3 912.2,1146.3 912.6,1144.1 913.1,1144 913.6,1141.8 914,1141.7 914.5,1141.7 915,1138.6 915.4,1138.9 915.9,1135.6 916.4,1135 916.9,1133.8 917.3,1134.3 917.8,1130.3 918.3,1131.3 918.7,1126.3 919.2,1126.3 919.7,1126 920.1,1124 920.6,1120 921.1,1117.9 921.5,1118.7 922,1114 922.5,1114.3 923,1110.8 923.4,1109.3 923.9,1110.1 924.4,1106.8 924.8,1103.4 925.3,1098.1 925.8,1097.8 926.2,1094.9 926.7,1092 927.2,1091.2 927.7,1084.3 928.1,1084.2 928.6,1081 929.1,1076.7 929.5,1077 930,1069.8 930.5,1068.3 930.9,1065.1 931.4,1058.6 931.9,1056.2 932.3,1053.3 932.8,1052.2 933.3,1048.8 933.8,1044.6 934.2,1040.3 934.7,1033.1 935.2,1032.6 935.6,1027.7 936.1,1026.2 936.6,1022.5 937,1019.7 937.5,1013.5 938,1009.6 938.4,1002.7 938.9,1000.3 939.4,994.2 939.9,993.3 940.3,986.1 940.8,983.5 941.3,978.6 941.7,975.1 942.2,972.6 942.7,967.2 943.1,964.6 943.6,959 944.1,959.1 944.5,952.5 945,951.7 945.5,950.2 946,940 946.4,939.4 946.9,937.9 947.4,937.6 947.8,932.7 948.3,931.9 948.8,928.3 949.2,928.7 949.7,924.5 950.2,926.7 950.6,919.7 951.1,920.9 951.6,926.5 952.1,923.8 952.5,922.3 953,927.7 953.5,926.6 953.9,927.8 954.4,926.5 954.9,929.7 955.3,931.3 955.8,929.8 956.3,935.6 956.8,936.8 957.2,941.8 957.7,944.6 958.2,944.5 958.6,947.7 959.1,952.2 959.6,956.4 960,958.2 960.5,962.3 961,967.2 961.4,970.7 961.9,975.7 962.4,978.2 962.9,980.5 963.3,983.2 963.8,991.1 964.3,993.5 964.7,997.5 965.2,1001.7 965.7,1003.9 966.1,1009.7 966.6,1010.4 967.1,1017.7 967.5,1020.9 968,1028.9 968.5,1030.7 969,1033.6 969.4,1037.9 969.9,1042.5 970.4,1044 970.8,1048.4 971.3,1051.8 971.8,1059.3 972.2,1059.4 972.7,1059.9 973.2,1067 973.6,1072.7 974.1,1071 974.6,1080.2 975.1,1078.3 975.5,1082.7 976,1083.4 976.5,1086.6 976.9,1088 977.4,1090.9 977.9,1092 978.3,1099 978.8,1098.3 979.3,1102.8 979.8,1105 980.2,1105.9 980.7,1109 981.2,1110.9 981.6,1112.4 982.1,1115.1 982.6,1117 983,1117.4 983.5,1118.8 984,1121.2 984.4,1124.1 984.9,1127.3 985.4,1129 985.9,1129 986.3,1131.2 986.8,1131.6 987.3,1134.2 987.7,1134.2 988.2,1135.8 988.7,1136.1 989.1,1137.6 989.6,1141.1 990.1,1138.3 990.5,1140.8 991,1141 991.5,1144 992,1146 992.4,1144.1 992.9,1141.9 993.4,1147 993.8,1147.8 994.3,1145.6 994.8,1148.1 995.2,1149 995.7,1146.9 996.2,1151.3 996.6,1151.6 997.1,1151.9 997.6,1150.9 998.1,1151.8 998.5,1152.5 999,1154.4 999.5,1153 999.9,1156.6 1000.4,1155.6 1000.9,1152.9 1001.3,1158.1 1001.8,1156.6 1002.3,1156.1 1002.8,1157.3 1003.2,1155.2 1003.7,1158.1 1004.2,1155.1 1004.6,1157.2 1005.1,1160.5 1005.6,1160.6 1006,1158.9 1006.5,1158.4 1007,1161 1007.4,1160.1 1007.9,1160.6 1008.4,1161.4 1008.9,1159.5 1009.3,1162 1009.8,1158.6 1010.3,1163.2 1010.7,1159.6 1011.2,1161 1011.7,1161.1 1012.1,1163 1012.6,1163.2 1013.1,1162.9 1013.5,1163.2 1014,1163.3 1014.5,1162.7 1015,1160.6 1015.4,1160.2 1015.9,1160.3 1016.4,1163.2 1016.8,1163.1 1017.3,1163.3 1017.8,1163.9 1018.2,1163.4 1018.7,1162.5 1019.2,1162 1019.6,1161.5 1020.1,1165.5 1020.6,1165.2 1021.1,1162.4 1021.5,1163.8 1022,1164.7 1022.5,1166.2 1022.9,1163.5 1023.4,1164.5 1023.9,1165.8 1024.3,1162.2 1024.8,1163.4 1025.3,1164.3 1025.7,1163.5 1026.2,1167 1026.7,1165.5 1027.2,1164.6 1027.6,1163.2 1028.1,1165.4 1028.6,1165.1 1029,1163.6 1029.5,1163.7 1030,1162.4 1030.4,1164.1 1030.9,1165.2 1031.4,1165.3 1031.9,1164.7 1032.3,1165 1032.8,1163.1 1033.3,1163.2 1033.7,1165.2 1034.2,1164.2 1034.7,1162.5 1035.1,1164 1035.6,1164.3 1036.1,1164.1 1036.5,1163.2 1037,1162.3 1037.5,1163.3 1038,1164.7 1038.4,1162.7 1038.9,1161.5 1039.4,1162.6 1039.8,1160.4 1040.3,1162.1 1040.8,1161.2 1041.2,1162.6 1041.7,1161.3 1042.2,1162.2 1042.6,1163.6 1043.1,1160.2 1043.6,1159.1 1044.1,1160.5 1044.5,1159.5 1045,1159.5 1045.5,1158.3 1045.9,1159.4 1046.4,1158.5 1046.9,1155.3 1047.3,1157.4 1047.8,1157.7 1048.3,1158.4 1048.7,1155.8 1049.2,1155.1 1049.7,1157.1 1050.2,1154.5 1050.6,1154.9 1051.1,1154.9 1051.6,1154.7 1052,1153.3 1052.5,1151.3 1053,1153.5 1053.4,1151 1053.9,1150.3 1054.4,1152.9 1054.9,1150.9 1055.3,1147.7 1055.8,1147.8 1056.3,1147.4 1056.7,1146 1057.2,1143.8 1057.7,1146.5 1058.1,1145.6 1058.6,1144.1 1059.1,1142.4 1059.5,1142.3 1060,1142 1060.5,1138.9 1061,1138.8 1061.4,1137.6 1061.9,1138.2 1062.4,1136.6 1062.8,1133.5 1063.3,1133.2 1063.8,1135.2 1064.2,1130.5 1064.7,1130.7 1065.2,1128.5 1065.6,1129.7 1066.1,1126.7 1066.6,1124.9 1067.1,1122.5 1067.5,1122.4 1068,1122.4 1068.5,1120.7 1068.9,1116.6 1069.4,1118.9 1069.9,1114.9 1070.3,1112.3 1070.8,1112.3 1071.3,1109.6 1071.7,1108 1072.2,1106.2 1072.7,1105.2 1073.2,1102.9 1073.6,1099.5 1074.1,1100.7 1074.6,1097.4 1075,1097.9 1075.5,1095.1 1076,1093.3 1076.4,1090.7 1076.9,1090.3 1077.4,1086.1 1077.9,1083.1 1078.3,1083 1078.8,1076.7 1079.3,1077.9 1079.7,1076.6 1080.2,1073.7 1080.7,1073.9 1081.1,1071.1 1081.6,1068.1 1082.1,1065.3 1082.5,1065.4 1083,1060.8 1083.5,1059.1 1084,1058.7 1084.4,1056.5 1084.9,1056.5 1085.4,1051.3 1085.8,1047 1086.3,1048.7 1086.8,1047.7 1087.2,1043.8 1087.7,1044.5 1088.2,1043.2 1088.6,1037.9 1089.1,1036.6 1089.6,1034 1090.1,1035.1 1090.5,1034 1091,1032.6 1091.5,1028.7 1091.9,1028.2 1092.4,1026.3 1092.9,1025.1 1093.3,1024.7 1093.8,1023.6 1094.3,1025.1 1094.7,1025.5 1095.2,1025.5 1095.7,1024.3 1096.2,1023.2 1096.6,1024.1 1097.1,1025.1 1097.6,1024.1 1098,1024.9 1098.5,1024.8 1099,1025.1 1099.4,1026.6 1099.9,1025.7 1100.4,1029.8 1100.8,1026.9 1101.3,1031 1101.8,1029.5 1102.3,1034.9 1102.7,1035.3 1103.2,1034.3 1103.7,1036.4 1104.1,1036.9 1104.6,1040.1 1105.1,1042.5 1105.5,1047.3 1106,1043.5 1106.5,1049.1 1107,1048.3 1107.4,1051.5 1107.9,1054.3 1108.4,1055.8 1108.8,1057.6 1109.3,1058.7 1109.8,1061 1110.2,1063.3 1110.7,1066.8 1111.2,1065.1 1111.6,1068.5 1112.1,1069.5 1112.6,1072 1113.1,1074.2 1113.5,1078.9 1114,1082.4 1114.5,1083.3 1114.9,1081.7 1115.4,1085.4 1115.9,1085.7 1116.3,1089.8 1116.8,1092.8 1117.3,1093.8 1117.7,1096 1118.2,1096.4 1118.7,1095.8 1119.2,1097.5 1119.6,1101.8 1120.1,1104.4 1120.6,1107 1121,1106.5 1121.5,1108.7 1122,1110.5 1122.4,1113.1 1122.9,1113.2 1123.4,1113.3 1123.8,1117.6 1124.3,1118.2 1124.8,1119.5 1125.3,1118.7 1125.7,1121.7 1126.2,1120.7 1126.7,1121.6 1127.1,1125.1 1127.6,1126.1 1128.1,1128.5 1128.5,1130.8 1129,1130 1129.5,1133.4 1130,1131.3 1130.4,1134.1 1130.9,1132.4 1131.4,1135.2 1131.8,1135.5 1132.3,1136.5 1132.8,1138.4 1133.2,1136 1133.7,1139.4 1134.2,1139 1134.6,1140.9 1135.1,1141.9 1135.6,1141.6 1136.1,1142.3 1136.5,1141.9 1137,1144.7 1137.5,1143.7 1137.9,1145.6 1138.4,1143.8 1138.9,1147.8 1139.3,1145.3 1139.8,1148.5 1140.3,1146.9 1140.7,1148.5 1141.2,1148 1141.7,1149.4 1142.2,1148.9 1142.6,1150.8 1143.1,1150.3 1143.6,1150.6 1144,1152 1144.5,1149.3 1145,1152 1145.4,1150.6 1145.9,1148.8 1146.4,1151.4 1146.8,1150.7 1147.3,1153.1 1147.8,1150.5 1148.3,1151.2 1148.7,1151.5 1149.2,1148.8 1149.7,1151.8 1150.1,1149.9 1150.6,1152.9 1151.1,1153.1 1151.5,1150.9 1152,1148.8 1152.5,1150.9 1153,1150.8 1153.4,1151.3 1153.9,1149.8 1154.4,1148.5 1154.8,1149.6 1155.3,1148.3 1155.8,1151.5 1156.2,1148.1 1156.7,1147.8 1157.2,1148.2 1157.6,1146.4 1158.1,1147 1158.6,1147 1159.1,1146.2 1159.5,1146 1160,1147.4 1160.5,1146 1160.9,1143.2 1161.4,1143.8 1161.9,1144.8 1162.3,1142.5 1162.8,1142.8 1163.3,1142.1 1163.7,1142.2 1164.2,1140.6 1164.7,1140 1165.2,1138.4 1165.6,1139.3 1166.1,1136.9 1166.6,1139.6 1167,1136.6 1167.5,1135.6 1168,1136.1 1168.4,1134.2 1168.9,1133.6 1169.4,1132.6 1169.8,1131 1170.3,1129.9 1170.8,1129.3 1171.3,1130.8 1171.7,1127.7 1172.2,1127.2 1172.7,1126.2 1173.1,1126.9 1173.6,1127.7 1174.1,1123.1 1174.5,1124.1 1175,1122.7 1175.5,1121.4 1175.9,1121.6 1176.4,1118.4 1176.9,1120.4 1177.4,1118.8 1177.8,1116.4 1178.3,1119 1178.8,1117.2 1179.2,1116.9 1179.7,1112.6 1180.2,1113.4 1180.6,1112.3 1181.1,1113.1 1181.6,1113.3 1182.1,1108.2 1182.5,1109.9 1183,1108.9 1183.5,1109.6 1183.9,1107.4 1184.4,1104.9 1184.9,1105.5 1185.3,1103.5 1185.8,1102.9 1186.3,1103.1 1186.7,1101.4 1187.2,1101.4 1187.7,1097.9 1188.2,1102 1188.6,1099.5 1189.1,1097.6 1189.6,1093.7 1190,1091.3 1190.5,1091.8 1191,1091.3 1191.4,1093.3 1191.9,1090.6 1192.4,1086.6 1192.8,1087.5 1193.3,1086 1193.8,1082.7 1194.3,1082.7 1194.7,1079.8 1195.2,1076.7 1195.7,1074.2 1196.1,1073.8 1196.6,1073.5 1197.1,1068.3 1197.5,1066 1198,1067 1198.5,1060.4 1198.9,1064.7 1199.4,1059.4 1199.9,1058.9 1200.4,1058.4 1200.8,1051.4 1201.3,1049.8 1201.8,1052.2 1202.2,1046.3 1202.7,1044.3 1203.2,1042.5 1203.6,1041.4 1204.1,1039.4 1204.6,1035.4 1205.1,1032.4 1205.5,1030.5 1206,1028.7 1206.5,1027.9 1206.9,1024 1207.4,1024.2 1207.9,1018.1 1208.3,1018 1208.8,1017.7 1209.3,1015 1209.7,1011.6 1210.2,1007.8 1210.7,1006.2 1211.2,1005.3 1211.6,1004.3 1212.1,1001.8 1212.6,998.5 1213,998.2 1213.5,998.7 1214,998 1214.4,993.5 1214.9,994 1215.4,991.1 1215.8,992 1216.3,997.6 1216.8,991.8 1217.3,990.7 1217.7,990 1218.2,988.8 1218.7,987.7 1219.1,990.5 1219.6,990.2 1220.1,993.1 1220.5,988.7 1221,992.2 1221.5,994.1 1221.9,989.6 1222.4,994.3 1222.9,991.6 1223.4,995.6 1223.8,998 1224.3,996.7 1224.8,998.1 1225.2,997.7 1225.7,1000.3 1226.2,1002.7 1226.6,1001.9 1227.1,1003.2 1227.6,1005.3 1228.1,1007.3 1228.5,1004.9 1229,1008.9 1229.5,1009.2 1229.9,1012.4 1230.4,1014.6 1230.9,1015 1231.3,1018 1231.8,1016.1 1232.3,1018.5 1232.7,1019.2 1233.2,1022.4 1233.7,1024 1234.2,1025.2 1234.6,1025.3 1235.1,1028.7 1235.6,1029.8 1236,1033.1 1236.5,1033.5 1237,1037.4 1237.4,1037.8 1237.9,1036.5 1238.4,1040.8 1238.8,1040.8 1239.3,1046.2 1239.8,1048.7 1240.3,1048.5 1240.7,1051.2 1241.2,1050.4 1241.7,1051.2 1242.1,1055.7 1242.6,1058.1 1243.1,1058.4 1243.5,1062.7 1244,1065.1 1244.5,1067.6 1244.9,1071 1245.4,1072 1245.9,1072.4 1246.4,1075.2 1246.8,1078 1247.3,1077.8 1247.8,1083.2 1248.2,1084.7 1248.7,1085.2 1249.2,1086.7 1249.6,1094.9 1250.1,1092.8 1250.6,1095 1251,1098.1 1251.5,1099 1252,1099.9 1252.5,1102.5 1252.9,1102.2 1253.4,1106.3 1253.9,1105.2 1254.3,1109.7 1254.8,1111.6 1255.3,1110.6 1255.7,1117 1256.2,1114.6 1256.7,1119.2 1257.2,1118.8 1257.6,1121.6 1258.1,1121.9 1258.6,1127.6 1259,1127.2 1259.5,1129.8 1260,1129.9 1260.4,1131.2 1260.9,1131.9 1261.4,1132.7 1261.8,1135.2 1262.3,1135.9 1262.8,1136.8 1263.3,1136.5 1263.7,1139.1 1264.2,1141.4 1264.7,1141.2 1265.1,1143.4 1265.6,1143.9 1266.1,1143.8 1266.5,1145 1267,1146.2 1267.5,1147.8 1267.9,1148.8 1268.4,1151.5 1268.9,1149.6 1269.4,1149.2 1269.8,1153.6 1270.3,1152.9 1270.8,1154.2 1271.2,1158.3 1271.7,1157.7 1272.2,1157.3 1272.6,1158.5 1273.1,1158.1 1273.6,1159.9 1274,1158.5 1274.5,1159 1275,1159.9 1275.5,1163.1 1275.9,1163.7 1276.4,1161.5 1276.9,1164.2 1277.3,1163.1 1277.8,1165.1 1278.3,1163.9 1278.7,1165.9 1279.2,1165 1279.7,1165.2 1280.2,1166 1280.6,1166.6 1281.1,1166.1 1281.6,1165.5 1282,1169.7 1282.5,1167.4 1283,1166 1283.4,1165.7 1283.9,1165.4 1284.4,1168.4 1284.8,1171.2 1285.3,1167.8 1285.8,1169.7 1286.3,1168 1286.7,1172 1287.2,1171.3 1287.7,1171.5 1288.1,1173 1288.6,1173.6 1289.1,1173.1 1289.5,1171.3 1290,1170.5 1290.5,1171.1 1290.9,1170.4 1291.4,1175.1 1291.9,1172.7 1292.4,1173.3 1292.8,1173.6 1293.3,1176 1293.8,1173 1294.2,1175.3 1294.7,1174.4 1295.2,1174 1295.6,1171.9 1296.1,1175.6 1296.6,1173.7 1297,1174.2 1297.5,1175.2 1298,1175.1 1298.5,1176.6 1298.9,1174.5 1299.4,1175.7 1299.9,1175.9 1300.3,1175.7 1300.8,1176.7 1301.3,1175.7 1301.7,1177.6 1302.2,1175.4 1302.7,1174.6 1303.2,1176.5 1303.6,1178.1 1304.1,1176.1 1304.6,1176.1 1305,1176.6 1305.5,1177.4 1306,1177.1 1306.4,1177.8 1306.9,1175.4 1307.4,1179.6 1307.8,1178.6 1308.3,1176.9 1308.8,1179.9 1309.3,1178.9 1309.7,1180.3 1310.2,1177.1 1310.7,1180.8 1311.1,1179 1311.6,1176.5 1312.1,1180.2 1312.5,1179 1313,1178.3 1313.5,1179.4 1313.9,1177.4 1314.4,1180.7 1314.9,1179.9 1315.4,1180 1315.8,1182.3 1316.3,1180.7 1316.8,1180.1 1317.2,1179.9 1317.7,1181.2 1318.2,1182.7 1318.6,1180.9 1319.1,1180.5 1319.6,1183.1 1320,1182.2 1320.5,1182.3 1321,1185.1 1321.5,1181.2 1321.9,1183.2 1322.4,1180.9 1322.9,1182.9 1323.3,1184.2 1323.8,1185.1 1324.3,1182.3 1324.7,1185.2 1325.2,1185.3 1325.7,1184.4 1326.1,1187.8 1326.6,1184.9 1327.1,1184 1327.6,1185.9 1328,1183.2 1328.5,1187.7 1329,1187.2 1329.4,1185.7 1329.9,1187.2 1330.4,1187.3 1330.8,1189.2 1331.3,1186.3 1331.8,1185.6 1332.3,1184.9 1332.7,1187.3 1333.2,1185.9 1333.7,1187.9 1334.1,1188.8 1334.6,1187.9 1335.1,1187.5 1335.5,1190.4 1336,1188.9 1336.5,1189.6 1336.9,1190.7 1337.4,1188.1 1337.9,1188.8 1338.4,1193.2 1338.8,1190.1 1339.3,1189.3 1339.8,1190.4 1340.2,1190.2 1340.7,1189.6 1341.2,1190.8 1341.6,1191.5 1342.1,1191.7 1342.6,1192.6 1343,1190 1343.5,1190.5 1344,1193.5 1344.5,1192.1 1344.9,1194.3 1345.4,1193.4 1345.9,1191.5 1346.3,1194.1 1346.8,1192.3 1347.3,1194.1 1347.7,1195.4 1348.2,1196.7 1348.7,1194.2 1349.1,1195.3 1349.6,1195 1350.1,1195.7 1350.6,1191.8 1351,1194.6 1351.5,1195.6 1352,1196 1352.4,1194.6 1352.9,1196.7 1353.4,1197.2 1353.8,1196.1 1354.3,1195.8 1354.8,1195.8 1355.3,1196.6 1355.7,1198 1356.2,1198.5 1356.7,1196.2 1357.1,1195.8 1357.6,1196.1 1358.1,1198.4 1358.5,1197.6 1359,1197.8 1359.5,1198.1 1359.9,1198.1 1360.4,1197.6 1360.9,1196.6 1361.4,1197.2 1361.8,1198.2 1362.3,1198.6 1362.8,1197.8 1363.2,1197.8 1363.7,1200.1 1364.2,1197.9 1364.6,1198.8 1365.1,1198.3 1365.6,1197.7 1366,1197 1366.5,1198.2 1367,1197.9 1367.5,1200 1367.9,1197.7 1368.4,1198.6 1368.9,1200 1369.3,1199.1 1369.8,1199.9 1370.3,1200.3 1370.7,1197.3 1371.2,1198.9 1371.7,1198.3 1372.1,1201.1 1372.6,1199.4 1373.1,1200.1 1373.6,1201.6 1374,1199.1 1374.5,1199.7 1375,1200.1 1375.4,1199.3 1375.9,1201.1 1376.4,1200.6 1376.8,1200.9 1377.3,1199.7 1377.8,1199.2 1378.3,1199.2 1378.7,1199.2 1379.2,1197.6 1379.7,1200 1380.1,1200.6 1380.6,1199.5 1381.1,1198.9 1381.5,1199.6 1382,1199.7 1382.5,1199.8 1382.9,1201.6 1383.4,1198.3 1383.9,1199.8 1384.4,1200.1 1384.8,1199.3 1385.3,1198.9 1385.8,1197.9 1386.2,1198.3 1386.7,1199.8 1387.2,1200.7 1387.6,1198.1 1388.1,1199.3 1388.6,1199.3 1389,1199.8 1389.5,1198.8 1390,1199 1390.5,1199.4 1390.9,1196.9 1391.4,1198.2 1391.9,1196 1392.3,1195.6 1392.8,1196.9 1393.3,1195.9 1393.7,1198.3 1394.2,1198.7 1394.7,1197.1 1395.1,1197.1 1395.6,1196.9 1396.1,1196.8 1396.6,1197.1 1397,1197.2 1397.5,1196.1 1398,1195.6 1398.4,1195.8 1398.9,1197.2 1399.4,1195.6 1399.8,1197.7 1400.3,1195.5 1400.8,1197.3 1401.2,1194.1 1401.7,1194.5 1402.2,1195.8 1402.7,1195.7 1403.1,1194.7 1403.6,1197.2 1404.1,1194.7 1404.5,1194.8 1405,1193.6 1405.5,1196.1 1405.9,1195 1406.4,1194.3 1406.9,1191.6 1407.4,1193.9 1407.8,1192.7 1408.3,1193.6 1408.8,1194 1409.2,1191.9 1409.7,1192.9 1410.2,1193.5 1410.6,1192.5 1411.1,1191.7 1411.6,1190.7 1412,1191 1412.5,1190.1 1413,1192.6 1413.5,1191.4 1413.9,1189.7 1414.4,1191 1414.9,1189.3 1415.3,1186.7 1415.8,1192 1416.3,1191.8 1416.7,1188.5 1417.2,1189.3 1417.7,1190.3 1418.1,1189.4 1418.6,1188.7 1419.1,1189 1419.6,1189.3 1420,1188.8 1420.5,1189.6 1421,1189 1421.4,1188.2 1421.9,1189.1 1422.4,1187 1422.8,1190.7 1423.3,1186.8 1423.8,1188.7 1424.2,1189.2 1424.7,1189.2 1425.2,1189 1425.7,1190.2 1426.1,1187.3 1426.6,1188.5 1427.1,1188.8 1427.5,1188 1428,1187.9 1428.5,1190.2 1428.9,1187.8 1429.4,1188.1 1429.9,1188.4 1430.4,1188.5 1430.8,1189.1 1431.3,1188.7 1431.8,1189.4 1432.2,1189.2 1432.7,1189.7 1433.2,1190.9 1433.6,1188.3 1434.1,1191.4 1434.6,1189 1435,1190.5 1435.5,1190 1436,1189.5 1436.5,1187.7 1436.9,1192.1 1437.4,1189.4 1437.9,1189.5 1438.3,1191.9 1438.8,1190.8 1439.3,1193.2 1439.7,1193.1 1440.2,1192.1 1440.7,1191.7 1441.1,1192.5 1441.6,1190.2 1442.1,1192.1 1442.6,1192.3 1443,1191.7 1443.5,1192.8 1444,1190.9 1444.4,1193.9 1444.9,1194.6 1445.4,1191.7 1445.8,1193.6 1446.3,1195.4 1446.8,1194.3 1447.2,1192.8 1447.7,1193 1448.2,1195.4 1448.7,1196.7 1449.1,1193.5 1449.6,1195 1450.1,1194.2 1450.5,1195 1451,1195.9 1451.5,1195.7 1451.9,1195.1 1452.4,1198.6 1452.9,1196.1 1453.4,1196.3 1453.8,1198 1454.3,1196.9 1454.8,1196.8 1455.2,1198.3 1455.7,1196.2 1456.2,1198.5 1456.6,1199 1457.1,1198.7 1457.6,1197.9 1458,1198.3 1458.5,1196.5 1459,1198.5 1459.5,1199.1 1459.9,1200 1460.4,1199.3 1460.9,1198.8 1461.3,1198.5 1461.8,1199.6 1462.3,1199.9 1462.7,1201.3 1463.2,1200.1 1463.7,1199.6 1464.1,1200.3 1464.6,1200 1465.1,1200.4 1465.6,1198.2 1466,1199.1 1466.5,1199.7 1467,1201.8 1467.4,1201.3 1467.9,1201.7 1468.4,1203 1468.8,1200.5 1469.3,1203.2 1469.8,1202.4 1470.2,1201.3 1470.7,1204 1471.2,1200.7 1471.7,1201.2 1472.1,1202.3 1472.6,1203.2 1473.1,1202.6 1473.5,1200.4 1474,1202.7 1474.5,1203 1474.9,1206.1 1475.4,1204.9 1475.9,1203.5 1476.3,1202.2 1476.8,1204 1477.3,1202.3 1477.8,1204 1478.2,1204.3 1478.7,1203.5 1479.2,1204.3 1479.6,1203.7 1480.1,1203.5 1480.6,1206 1481,1205 1481.5,1204 1482,1203.5 1482.5,1204.7 1482.9,1205.2 1483.4,1205.6 1483.9,1206.4 1484.3,1205.3 1484.8,1203.5 1485.3,1207.2 1485.7,1206.2 1486.2,1205.9 1486.7,1206.5 1487.1,1203.3 1487.6,1204.7 1488.1,1204.5 1488.6,1206.5 1489,1203.8 1489.5,1204.9 1490,1207 1490.4,1206.1 1490.9,1204.9 1491.4,1207.5 1491.8,1203.9 1492.3,1205.9 1492.8,1205.2 1493.2,1206.1 1493.7,1205.2 1494.2,1204.5 1494.7,1205.8 1495.1,1204 1495.6,1206.2 1496.1,1205.2 1496.5,1206.6 1497,1205.1 1497.5,1204.8 1497.9,1206 1498.4,1207 1498.9,1203.2 1499.3,1205.7 1499.8,1206.3 1500.3,1203.9 1500.8,1204.5 1501.2,1206.3 1501.7,1204.6 1502.2,1204.8 1502.6,1207.4 1503.1,1204.4 1503.6,1204.4 1504,1202.8 1504.5,1204.1 1505,1203.9 1505.5,1207.3 1505.9,1206.7 1506.4,1203.8 1506.9,1207.5 1507.3,1206.1 1507.8,1204.9 1508.3,1206 1508.7,1205.5 1509.2,1204.1 1509.7,1202.9 1510.1,1203.9 1510.6,1204.8 1511.1,1204.4 1511.6,1203.9 1512,1205.8 1512.5,1203.4 1513,1205.6 1513.4,1203.9 1513.9,1204.5 1514.4,1203.1 1514.8,1204.3 1515.3,1203.3 1515.8,1202.1 1516.2,1204 1516.7,1203.9 1517.2,1204.8 1517.7,1204.1 1518.1,1202.6 1518.6,1202.9 1519.1,1200.7 1519.5,1202.2 1520,1204.9 1520.5,1205 1520.9,1204.1 1521.4,1203.5 1521.9,1203.7 1522.3,1203.5 1522.8,1200.8 1523.3,1201.7 1523.8,1204 1524.2,1203.9 1524.7,1202.8 1525.2,1202 1525.6,1201.9 1526.1,1201.6 1526.6,1201.1 1527,1199.8 1527.5,1202.1 1528,1201.4 1528.5,1201.6 1528.9,1203.7 1529.4,1202.3 1529.9,1200.8 1530.3,1202.2 1530.8,1199.7 1531.3,1202.6 1531.7,1201.7 1532.2,1201.1 1532.7,1201.9 1533.1,1202.9 1533.6,1200.7 1534.1,1200 1534.6,1203.6 1535,1201.2 1535.5,1202.9 1536,1200.4 1536.4,1201.6 1536.9,1200.4 1537.4,1201.9 1537.8,1200.9 1538.3,1200.4 1538.8,1203 1539.2,1201.7 1539.7,1199 1540.2,1201.1 1540.7,1200.4 1541.1,1200.1 1541.6,1200.9 1542.1,1201.1 1542.5,1201.7 1543,1200.8 1543.5,1199.7 1543.9,1201.3 1544.4,1203 1544.9,1200.5 1545.3,1202.9 1545.8,1202.8 1546.3,1201.8 1546.8,1202.8 1547.2,1201.7 1547.7,1202.2 1548.2,1201.6 1548.6,1203.4 1549.1,1204.5 1549.6,1202.3 1550,1204.5 1550.5,1200.8 1551,1202.3 1551.4,1202.3 1551.9,1205.6 1552.4,1203 1552.9,1204.7 1553.3,1201.5 1553.8,1204.1 1554.3,1204.7 1554.7,1204.1 1555.2,1201.1 1555.7,1204.5 1556.1,1205.4 1556.6,1206 1557.1,1205.1 1557.6,1202.7 1558,1204.5 1558.5,1205.9 1559,1204 1559.4,1205.7 1559.9,1204.5 1560.4,1205.3 1560.8,1206.1 1561.3,1204.5 1561.8,1208.7 1562.2,1205.6 1562.7,1205.9 1563.2,1204.8 1563.7,1205.7 1564.1,1205.4 1564.6,1204.1 1565.1,1204.1 1565.5,1206.3 1566,1205.9 1566.5,1203 1566.9,1203.6 1567.4,1205.8 1567.9,1206.1 1568.3,1206.9 1568.8,1204.9 1569.3,1207 1569.8,1206 1570.2,1205.8 1570.7,1206.3 1571.2,1207.7 1571.6,1207.2 1572.1,1207.6 1572.6,1205.8 1573,1206.3 1573.5,1205.3 1574,1206.1 1574.4,1206.3 1574.9,1206.2 1575.4,1207.6 1575.9,1207.3 1576.3,1207.7 1576.8,1207 1577.3,1208.2 1577.7,1207.1 1578.2,1208.1 1578.7,1207.6 1579.1,1207.9 1579.6,1206.9 1580.1,1205.6 1580.6,1205.4 1581,1209.4 1581.5,1207.5 1582,1207.6 1582.4,1206.9 1582.9,1206.6 1583.4,1210.5 1583.8,1205.9 1584.3,1207.1 1584.8,1207.1 1585.2,1205.9 1585.7,1205.7 1586.2,1206.4 1586.7,1206.8 1587.1,1206.7 1587.6,1208.2 1588.1,1205.9 1588.5,1207.7 1589,1209 1589.5,1208.3 1589.9,1205.9 1590.4,1203.8 1590.9,1208.3 1591.3,1207.9 1591.8,1206.6 1592.3,1208.8 1592.8,1206.8 1593.2,1207.4 1593.7,1206.1 1594.2,1207.7 1594.6,1206.8 1595.1,1206.7 1595.6,1208.5 1596,1207.5 1596.5,1205.6 1597,1208.1 1597.4,1208.3 1597.9,1206.3 1598.4,1206.8 1598.9,1207.3 1599.3,1207 1599.8,1207.4 1600.3,1208 1600.7,1206.7 1601.2,1209.7 1601.7,1206.4 1602.1,1206.6 1602.6,1209.5 1603.1,1210 1603.6,1207.3 1604,1207 1604.5,1206 1605,1208.6 1605.4,1207.4 1605.9,1206.3 1606.4,1207.7 1606.8,1208.8 1607.3,1208 1607.8,1209.8 1608.2,1208.6 1608.7,1207.7 1609.2,1207.2 1609.7,1207.9 1610.1,1208.6 1610.6,1208.2 1611.1,1208.4 1611.5,1207.5 1612,1208.1 1612.5,1208.6 1612.9,1207 1613.4,1205.7 1613.9,1209.2 1614.3,1207.9 1614.8,1206.7 1615.3,1207.5 1615.8,1206.9 1616.2,1205.2 1616.7,1207 1617.2,1205.5 1617.6,1207.4 1618.1,1207 1618.6,1208.5 1619,1207 1619.5,1207.6 1620,1206.8 1620.4,1206.7 1620.9,1205.5 1621.4,1208.3 1621.9,1207.4 1622.3,1206.5 1622.8,1207.4 1623.3,1206.7 1623.7,1206.3 1624.2,1207.4 1624.7,1208.5 1625.1,1206.8 1625.6,1205.5 1626.1,1206.4 1626.5,1209.2 1627,1206.2 1627.5,1208.5 1628,1206.8 1628.4,1208 1628.9,1207 1629.4,1205.3 1629.8,1206.6 1630.3,1209.5 1630.8,1206.9 1631.2,1207.7 1631.7,1206.7 1632.2,1206.9 1632.7,1207.4 1633.1,1207.6 1633.6,1209.6 1634.1,1207 1634.5,1206.8 1635,1206.3 1635.5,1205.5 1635.9,1205.2 1636.4,1207.8 1636.9,1204.8 1637.3,1208.6 1637.8,1208 1638.3,1206.6 1638.8,1205.6 1639.2,1207 1639.7,1207 1640.2,1208.3 1640.6,1206.1 1641.1,1206.5 1641.6,1206.9 1642,1206.6 1642.5,1206.2 1643,1204.9 1643.4,1205 1643.9,1206.1 1644.4,1206.6 1644.9,1208 1645.3,1209.5 1645.8,1208.8 1646.3,1207.2 1646.7,1208.9 1647.2,1206.6 1647.7,1206.1 1648.1,1209.4 1648.6,1205.4 1649.1,1206.2 1649.5,1206.3 1650,1208.3 1650.5,1205.9 1651,1207.5 1651.4,1206 1651.9,1205.1 1652.4,1206.7 1652.8,1206.6 1653.3,1205.1 1653.8,1205.4 1654.2,1205.4 1654.7,1207.4 1655.2,1206.8 1655.7,1206.5 1656.1,1206.8 1656.6,1205.6 1657.1,1206.7 1657.5,1205.4 1658,1204.5 1658.5,1205.2 1658.9,1206.2 1659.4,1206 1659.9,1207.1 1660.3,1203.8 1660.8,1205.5 1661.3,1206.2 1661.8,1204.5 1662.2,1205.9 1662.7,1205.1 1663.2,1204.2 1663.6,1206.7 1664.1,1203.7 1664.6,1206.5 1665,1204.7 1665.5,1204.1 1666,1204 1666.4,1204.1 1666.9,1203.9 1667.4,1205.2 1667.9,1202.6 1668.3,1206.1 1668.8,1205.6 1669.3,1206.2 1669.7,1203.3 1670.2,1201.6 1670.7,1203.5 1671.1,1204 1671.6,1204.4 1672.1,1203.4 1672.5,1203.8 1673,1204 1673.5,1201.9 1674,1205.7 1674.4,1202.1 1674.9,1203.6 1675.4,1204.5 1675.8,1202.2 1676.3,1203 1676.8,1204.8 1677.2,1202.4 1677.7,1203.8 1678.2,1202.8 1678.7,1202.6 1679.1,1203.1 1679.6,1201.8 1680.1,1201.7 1680.5,1202.9 1681,1201.9 1681.5,1202.1 1681.9,1199.9 1682.4,1201.2 1682.9,1202.5 1683.3,1201.9 1683.8,1201.1 1684.3,1199.9 1684.8,1199.6 1685.2,1200.7 1685.7,1201.7 1686.2,1199.9 1686.6,1201.2 1687.1,1199.1 1687.6,1200.7 1688,1197.9 1688.5,1199.1 1689,1197.4 1689.4,1199.3 1689.9,1199 1690.4,1197 1690.9,1197 1691.3,1197.2 1691.8,1195.7 1692.3,1196.2 1692.7,1196 1693.2,1197.7 1693.7,1198.2 1694.1,1195.8 1694.6,1195.8 1695.1,1196.2 1695.5,1195.1 1696,1195.1 1696.5,1196.2 1697,1195.2 1697.4,1194.6 1697.9,1193.8 1698.4,1196 1698.8,1193.3 1699.3,1193.9 1699.8,1192.3 1700.2,1192.5 1700.7,1193.1 1701.2,1192.3 1701.6,1193.1 1702.1,1192.3 1702.6,1190.3 1703.1,1188.9 1703.5,1192.7 1704,1190.5 1704.5,1192.7 1704.9,1190.7 1705.4,1189.5 1705.9,1190.8 1706.3,1189.6 1706.8,1189.7 1707.3,1188.3 1707.8,1189.9 1708.2,1190.2 1708.7,1188 1709.2,1190.6 1709.6,1187.5 1710.1,1188.2 1710.6,1185.7 1711,1185.1 1711.5,1189.8 1712,1188.7 1712.4,1188.2 1712.9,1184.5 1713.4,1186.6 1713.9,1186.6 1714.3,1186 1714.8,1186.1 1715.3,1184.4 1715.7,1185.1 1716.2,1183.8 1716.7,1184.5 1717.1,1185.2 1717.6,1183.7 1718.1,1184.1 1718.5,1183.8 1719,1184.2 1719.5,1185.2 1720,1184.2 1720.4,1184.3 1720.9,1182 1721.4,1183.2 1721.8,1184.5 1722.3,1182.4 1722.8,1182.9 1723.2,1182.2 1723.7,1184.9 1724.2,1182.7 1724.6,1182.3 1725.1,1184 1725.6,1184.6 1726.1,1183.8 1726.5,1184.4 1727,1183.5 1727.5,1183.1 1727.9,1182.8 1728.4,1182.8 1728.9,1182.8 1729.3,1184 1729.8,1183.5 1730.3,1183.9 1730.8,1184.6 1731.2,1183.9 1731.7,1182.4 1732.2,1183.3 1732.6,1183 1733.1,1182.2 1733.6,1184.9 1734,1183.4 1734.5,1183.5 1735,1184 1735.4,1186.5 1735.9,1185.3 1736.4,1187.1 1736.9,1186 1737.3,1185.8 1737.8,1187.3 1738.3,1187.5 1738.7,1187.2 1739.2,1186.1 1739.7,1187 1740.1,1186.4 1740.6,1187.8 1741.1,1188.5 1741.5,1190.4 1742,1190.6 1742.5,1190 1743,1190.6 1743.4,1190 1743.9,1193.4 1744.4,1192.1 1744.8,1193.8 1745.3,1191.3 1745.8,1191.6 1746.2,1192.7 1746.7,1191.9 1747.2,1192.4 1747.6,1191.1 1748.1,1193.7 1748.6,1193 1749.1,1194.1 1749.5,1193.2 1750,1191.6 1750.5,1194.6 1750.9,1195.7 1751.4,1193 1751.9,1193.6 1752.3,1194.7 1752.8,1195 1753.3,1193.5 1753.8,1198 1754.2,1197.3 1754.7,1195.6 1755.2,1194.4 1755.6,1197.3 1756.1,1199.5 1756.6,1198.3 1757,1198.9 1757.5,1196.6 1758,1198.3 1758.4,1196.4 1758.9,1200.8 1759.4,1199.3 1759.9,1196.3 1760.3,1196.8 1760.8,1199.8 1761.3,1199.6 1761.7,1199.2 1762.2,1200.5 1762.7,1202.3 1763.1,1200.5 1763.6,1198.1 1764.1,1200.2 1764.5,1199 1765,1199.7 1765.5,1201.2 1766,1200.7 1766.4,1199.8 1766.9,1201.1 1767.4,1200.3 1767.8,1202 1768.3,1201.2 1768.8,1202 1769.2,1201.3 1769.7,1202.6 1770.2,1201.6 1770.6,1201.8 1771.1,1201.2 1771.6,1202.1 1772.1,1199.8 1772.5,1205.2 1773,1201.2 1773.5,1202.1 1773.9,1201.4 1774.4,1201.4 1774.9,1202.5 1775.3,1201.4 1775.8,1201.5 1776.3,1200.3 1776.7,1200.8 1777.2,1200.5 1777.7,1204 1778.2,1200.2 1778.6,1200.4 1779.1,1201.9 1779.6,1203.3 1780,1199.5 1780.5,1199.6 1781,1201.5 1781.4,1201.7 1781.9,1199.5 1782.4,1199 1782.9,1199.9 1783.3,1201.8 1783.8,1200.8 1784.3,1201.6 1784.7,1200.5 1785.2,1200.5 1785.7,1201.2 1786.1,1200.2 1786.6,1200.5 1787.1,1199 1787.5,1199.2 1788,1200.4 1788.5,1199.4 1789,1198.7 1789.4,1200.3 1789.9,1200 1790.4,1199.2 1790.8,1198.2 1791.3,1200.1 1791.8,1201.9 1792.2,1197.8 1792.7,1196.8 1793.2,1197.6 1793.6,1197.3 1794.1,1196.8 1794.6,1196.8 1795.1,1199.1 1795.5,1199 1796,1199.7 1796.5,1198.7 1796.9,1197.2 1797.4,1199 1797.9,1196.8 1798.3,1197.1 1798.8,1196 1799.3,1198.9 1799.7,1198.6 1800.2,1196.8 1800.7,1196.9 1801.2,1197.3 1801.6,1197.5 1802.1,1198.2 1802.6,1197.3 1803,1197.7 1803.5,1195.4 1804,1196.8 1804.4,1195 1804.9,1199.4 1805.4,1199 1805.9,1198.2 1806.3,1198.7 1806.8,1199.8 1807.3,1198.6 1807.7,1195.5 1808.2,1197.2 1808.7,1194.7 1809.1,1196.6 1809.6,1196.1 1810.1,1197.7 1810.5,1198.2 1811,1196.7 1811.5,1197.5 1812,1198.2 1812.4,1197.8 1812.9,1197.8 1813.4,1195.1 1813.8,1197.5 1814.3,1199.1 1814.8,1198.5 1815.2,1196.4 1815.7,1197.9 1816.2,1198.6 1816.6,1197.1 1817.1,1199.1 1817.6,1197.3 1818.1,1197.9 1818.5,1198.2 1819,1201.1 1819.5,1198 1819.9,1197.6 1820.4,1199.2 1820.9,1197.7 1821.3,1198.5 1821.8,1195.5 1822.3,1198.6 1822.7,1198.2 1823.2,1196.5 1823.7,1199.8 1824.2,1197.7 1824.6,1197.7 1825.1,1196.3 1825.6,1195.8 1826,1197 1826.5,1195.8 1827,1198.2 1827.4,1198.5 1827.9,1196.5 1828.4,1195.2 1828.9,1196.6 1829.3,1195.7 1829.8,1197.1 1830.3,1196.9 1830.7,1196 1831.2,1196.5 1831.7,1197.6 1832.1,1198.2 1832.6,1195.3 1833.1,1196.7 1833.5,1195.3 1834,1194.1 1834.5,1196.9 1835,1195.6 1835.4,1195.1 1835.9,1195.1 1836.4,1194.3 1836.8,1193 1837.3,1196.3 1837.8,1195 1838.2,1194 1838.7,1194.7 1839.2,1194.9 1839.6,1192.8 1840.1,1193.5 1840.6,1192.2 1841.1,1193.2 1841.5,1191.8 1842,1195 1842.5,1191.3 1842.9,1192.1 1843.4,1191.8 1843.9,1190.6 1844.3,1192 1844.8,1190.5 1845.3,1189.9 1845.7,1190.2 1846.2,1189 1846.7,1191.3 1847.2,1190.3 1847.6,1190.6 1848.1,1187.4 1848.6,1189.3 1849,1187.8 1849.5,1188.7 1850,1190 1850.4,1188.5 1850.9,1187.8 1851.4,1189.3 1851.8,1189 1852.3,1189.9 1852.8,1185 1853.3,1187.7 1853.7,1186.6 1854.2,1185.9 1854.7,1187 1855.1,1185.3 1855.6,1183.8 1856.1,1185.4 1856.5,1186.2 1857,1188.8 1857.5,1185.5 1858,1184.8 1858.4,1183.8 1858.9,1185.8 1859.4,1185.9 1859.8,1186.4 1860.3,1184.4 1860.8,1185.3 1861.2,1183.4 1861.7,1186.5 1862.2,1184.3 1862.6,1182.9 1863.1,1188 1863.6,1187.2 1864.1,1187.1 1864.5,1187.2 1865,1185.5 1865.5,1188.4 1865.9,1185.8 1866.4,1189.7 1866.9,1187.7 1867.3,1185.2 1867.8,1188.9 1868.3,1190.5 1868.7,1187.8 1869.2,1189.7 1869.7,1188.3 1870.2,1188 1870.6,1185.7 1871.1,1190.8 1871.6,1188.9 1872,1190.2 1872.5,1188.6 1873,1189.1 1873.4,1192 1873.9,1190.3 1874.4,1190.6 1874.8,1189.8 1875.3,1192 1875.8,1193 1876.3,1191.7 1876.7,1192.4 1877.2,1191.4 1877.7,1195 1878.1,1192.8 1878.6,1193.7 1879.1,1196.4 1879.5,1194.2 1880,1192.9 1880.5,1194 1881,1195 1881.4,1198.1 1881.9,1196.4 1882.4,1196.2 1882.8,1197.9 1883.3,1198.8 1883.8,1196.5 1884.2,1199.6 1884.7,1199.2 1885.2,1199 1885.6,1195.7 1886.1,1199.3 1886.6,1201.1 1887.1,1199.3 1887.5,1202.9 1888,1200.3 1888.5,1199.2 1888.9,1201.5 1889.4,1201.4 1889.9,1202.4 1890.3,1201.3 1890.8,1203.5 1891.3,1201.4 1891.7,1202.5 1892.2,1201 1892.7,1201.8 1893.2,1203.3 1893.6,1202.4 1894.1,1202.9 1894.6,1203.4 1895,1204.2 1895.5,1205 1896,1205.2 1896.4,1205.7 1896.9,1204.8 1897.4,1204.1 1897.8,1202.9 1898.3,1204.6 1898.8,1204.2 1899.3,1203 1899.7,1207.5 1900.2,1203.2 1900.7,1206.1 1901.1,1206.5 1901.6,1205.6 1902.1,1209.2 1902.5,1206.1 1903,1205.1 1903.5,1208.4 1904,1205.2 1904.4,1204.4 1904.9,1205 1905.4,1205.5 1905.8,1206.4 1906.3,1206.8 1906.8,1204.5 1907.2,1206.9 1907.7,1209.3 1908.2,1205.5 1908.6,1206.2 1909.1,1207.3 1909.6,1207.9 1910.1,1205.5 1910.5,1205.1 1911,1205 1911.5,1207.6 1911.9,1207.3 1912.4,1203.4 1912.9,1203.4 1913.3,1204.4 1913.8,1204 1914.3,1206.4 1914.7,1206.1 1915.2,1208.2 1915.7,1206.7 1916.2,1205.7 1916.6,1207 1917.1,1204.3 1917.6,1203.5 1918,1205.3 1918.5,1206.4 1919,1203 1919.4,1206.1 1919.9,1206 1920.4,1204.2 1920.8,1204.9 1921.3,1204.3 1921.8,1204.6 1922.3,1205.5 1922.7,1203.3 1923.2,1205.6 1923.7,1205.3 1924.1,1205.3 1924.6,1201.6 1925.1,1201.6 1925.5,1204.8 1926,1203.1 1926.5,1202.9 1926.9,1202.8 1927.4,1202 1927.9,1203.3 1928.4,1202.7 1928.8,1202.8 1929.3,1204.2 1929.8,1202 1930.2,1205 1930.7,1200.7 1931.2,1206.7 1931.6,1201.8 1932.1,1204.3 1932.6,1204.7 1933.1,1203.6 1933.5,1204.5 1934,1203.5 1934.5,1201.4 1934.9,1204.1 1935.4,1205.2 1935.9,1203.1 1936.3,1201.7 1936.8,1203.2 1937.3,1204.4 1937.7,1204.5 1938.2,1205.6 1938.7,1205 1939.2,1205 1939.6,1202 1940.1,1207.4 1940.6,1204.8 1941,1206 1941.5,1204.6 1942,1204.9 1942.4,1205.3 1942.9,1207.4 1943.4,1207.5 1943.8,1206.5 1944.3,1208.4 1944.8,1205.5 1945.3,1206.8 1945.7,1205.7 1946.2,1208.1 1946.7,1206.7 1947.1,1208 1947.6,1209.2 1948.1,1204.5 1948.5,1210.1 1949,1207.9 1949.5,1207.3 1949.9,1205.4 1950.4,1207.6 1950.9,1205.3 1951.4,1208.5 1951.8,1208.3 1952.3,1211 1952.8,1208.5 1953.2,1210.4 1953.7,1210.7 1954.2,1212 1954.6,1209.3 1955.1,1210.7 1955.6,1208 1956.1,1208.7 1956.5,1209.9 1957,1210.4 1957.5,1209 1957.9,1210.2 1958.4,1211.7 1958.9,1210.4 1959.3,1211 1959.8,1210.2 1960.3,1213.1 1960.7,1213.8 1961.2,1211.9 1961.7,1211.7 1962.2,1214 1962.6,1212.7 1963.1,1211.4 1963.6,1210.6 1964,1211.7 1964.5,1215.2"/>
<path class="c" stroke="#f0f" d="M87,978.3L87.5,982.4 87.9,979 88.4,978.7 88.9,980.5 89.3,978.5 89.8,979.2 90.3,977.5 90.8,977.2 91.2,977.8 91.7,978.9 92.2,977.8 92.6,976.2 93.1,979.1 93.6,978.3 94,978.1 94.5,977.6 95,975.6 95.4,980.2 95.9,977.7 96.4,978.8 96.9,979.8 97.3,979.5 97.8,978.3 98.3,978 98.7,978.3 99.2,979 99.7,978.6 100.1,977.3 100.6,978.3 101.1,978.2 101.6,978.6 102,977.9 102.5,979.3 103,977.8 103.4,978.6 103.9,977.6 104.4,976.8 104.8,976.3 105.3,977.2 105.8,978 106.2,978.8 106.7,977.2 107.2,976.6 107.7,976.6 108.1,978.7 108.6,977.2 109.1,976.5 109.5,977.9 110,975.4 110.5,977.1 110.9,976.8 111.4,976.7 111.9,975.4 112.3,978 112.8,978.8 113.3,975.1 113.8,976.8 114.2,977.4 114.7,979.3 115.2,976.1 115.6,975.4 116.1,976.5 116.6,978.8 117,976.5 117.5,976.7 118,978.4 118.4,973.7 118.9,973.7 119.4,977.3 119.9,977.1 120.3,974.5 120.8,976.7 121.3,976.1 121.7,976.3 122.2,975.1 122.7,975.4 123.1,974.9 123.6,976 124.1,975.6 124.5,977.8 125,976.6 125.5,973.9 126,976.2 126.4,977.4 126.9,976 127.4,976.9 127.8,975.6 128.3,976.4 128.8,974.4 129.2,976.5 129.7,973.9 130.2,977 130.7,973.6 131.1,972.9 131.6,976 132.1,975.1 132.5,975.5 133,975.8 133.5,975.2 133.9,974.2 134.4,975.5 134.9,975.6 135.3,975.8 135.8,977.5 136.3,974.2 136.8,975.2 137.2,975.7 137.7,974.5 138.2,973.6 138.6,974.3 139.1,976.2 139.6,974.6 140,975.6 140.5,974 141,975.4 141.4,974 141.9,973.8 142.4,974.9 142.9,974.8 143.3,976.5 143.8,972.7 144.3,975.3 144.7,976.5 145.2,976.2 145.7,974.1 146.1,973.7 146.6,973.9 147.1,974.8 147.5,974.7 148,974.8 148.5,975.1 149,973.1 149.4,973 149.9,972.8 150.4,972.7 150.8,974.1 151.3,974.6 151.8,977.2 152.2,974.8 152.7,974.1 153.2,975.8 153.7,973.2 154.1,974.4 154.6,975.2 155.1,974.9 155.5,974.4 156,973.5 156.5,972.4 156.9,973.7 157.4,973.1 157.9,974.6 158.3,973.6 158.8,974.4 159.3,971.8 159.8,974.8 160.2,972.6 160.7,971.7 161.2,971.9 161.6,972.8 162.1,974.8 162.6,974.3 163,972 163.5,973.5 164,973.2 164.4,971.4 164.9,972.1 165.4,970.8 165.9,972.2 166.3,970 166.8,972.2 167.3,972 167.7,972.1 168.2,972.1 168.7,974.4 169.1,972.5 169.6,973.2 170.1,973.8 170.5,973.9 171,973.6 171.5,972.1 172,971.4 172.4,971.8 172.9,972.1 173.4,972.6 173.8,972.5 174.3,973.9 174.8,972.4 175.2,974.6 175.7,973.7 176.2,971.8 176.7,973.4 177.1,968.9 177.6,973.9 178.1,972.7 178.5,972.7 179,970.1 179.5,975.1 179.9,971.8 180.4,971.8 180.9,973.3 181.3,971.7 181.8,970.9 182.3,972.6 182.8,970.6 183.2,972.6 183.7,971.9 184.2,973 184.6,970.2 185.1,973.1 185.6,971.9 186,973.8 186.5,970.7 187,973.6 187.4,972.2 187.9,972.2 188.4,970.4 188.9,971.9 189.3,972 189.8,970.1 190.3,969.7 190.7,970.1 191.2,972.7 191.7,971.1 192.1,972 192.6,971.2 193.1,970.9 193.5,971 194,970.2 194.5,972.1 195,970.8 195.4,970.8 195.9,968.8 196.4,970.8 196.8,969.5 197.3,969.7 197.8,971.5 198.2,968.9 198.7,969.9 199.2,970.8 199.6,971.4 200.1,969.3 200.6,970.3 201.1,970.2 201.5,968.4 202,967.2 202.5,967.4 202.9,970.3 203.4,969.7 203.9,967.9 204.3,968.7 204.8,968.9 205.3,968.9 205.8,969.2 206.2,971.8 206.7,968.2 207.2,969.2 207.6,968.1 208.1,968.2 208.6,967.8 209,968.5 209.5,968.1 210,969.1 210.4,968.9 210.9,967.5 211.4,970.8 211.9,967 212.3,968.8 212.8,970.9 213.3,967.3 213.7,969.7 214.2,969.8 214.7,968.4 215.1,965.7 215.6,969.5 216.1,967.9 216.5,967 217,969.2 217.5,966.7 218,968.8 218.4,966.7 218.9,968 219.4,965.9 219.8,966.7 220.3,966 220.8,966.1 221.2,967.2 221.7,966.6 222.2,967 222.6,968.2 223.1,966.5 223.6,964.3 224.1,966.1 224.5,966.4 225,967.5 225.5,967.4 225.9,967.2 226.4,965.7 226.9,966.7 227.3,964.1 227.8,967.3 228.3,966.2 228.8,966.2 229.2,965 229.7,965.4 230.2,964.4 230.6,965.8 231.1,963.4 231.6,966.1 232,965.5 232.5,967.2 233,964.6 233.4,964.4 233.9,964.6 234.4,964.3 234.9,964 235.3,962.7 235.8,962.5 236.3,963.1 236.7,963.3 237.2,962.1 237.7,962 238.1,962.9 238.6,964 239.1,962.7 239.5,963.6 240,963.8 240.5,963.5 241,961.9 241.4,961.7 241.9,959.8 242.4,961.1 242.8,962.3 243.3,960.3 243.8,963.1 244.2,963 244.7,960.7 245.2,962.1 245.6,959.1 246.1,959.4 246.6,960 247.1,960.3 247.5,959.9 248,958.9 248.5,962.2 248.9,960 249.4,959.8 249.9,960.1 250.3,959.3 250.8,958.7 251.3,958.1 251.8,956.6 252.2,960.2 252.7,957.1 253.2,956 253.6,956.9 254.1,955.7 254.6,959.9 255,957.7 255.5,958.8 256,958.7 256.4,957.4 256.9,957.2 257.4,955.5 257.9,956 258.3,955.2 258.8,955.8 259.3,954.7 259.7,956.9 260.2,956.1 260.7,954.8 261.1,952.7 261.6,955.4 262.1,955.4 262.5,954.1 263,952.4 263.5,954.3 264,954.8 264.4,951 264.9,953.8 265.4,950.7 265.8,952.8 266.3,954.6 266.8,952.4 267.2,952.6 267.7,951.4 268.2,951.6 268.6,954.3 269.1,952.8 269.6,950.6 270.1,950.3 270.5,950.5 271,953 271.5,950.3 271.9,951.2 272.4,949.2 272.9,947.8 273.3,950.8 273.8,948.8 274.3,947.7 274.7,947.6 275.2,947.4 275.7,947.2 276.2,945.9 276.6,949 277.1,947.8 277.6,948.2 278,946.4 278.5,947 279,946.5 279.4,947.5 279.9,946.8 280.4,946 280.9,944.5 281.3,943.5 281.8,943.8 282.3,943.7 282.7,943.6 283.2,942.4 283.7,945.7 284.1,943.7 284.6,940.6 285.1,941.5 285.5,940.9 286,942.5 286.5,943.3 287,940.4 287.4,942.1 287.9,940.7 288.4,942.1 288.8,942.1 289.3,940.5 289.8,940.6 290.2,939.4 290.7,938.6 291.2,937.3 291.6,938.8 292.1,938 292.6,937.2 293.1,937.2 293.5,936.7 294,935.3 294.5,935.5 294.9,937.3 295.4,935.1 295.9,936.8 296.3,933.2 296.8,932.5 297.3,934 297.7,934.4 298.2,932.1 298.7,933.3 299.2,933.2 299.6,933 300.1,931 300.6,930.6 301,928.1 301.5,929.7 302,929.6 302.4,930.5 302.9,926.6 303.4,926.6 303.9,925.9 304.3,927.7 304.8,922.9 305.3,924.1 305.7,927.5 306.2,925.2 306.7,922 307.1,923 307.6,923.6 308.1,922.6 308.5,920.9 309,919.5 309.5,920.9 310,919.2 310.4,919.5 310.9,918.3 311.4,916.4 311.8,918.1 312.3,914.9 312.8,915.3 313.2,913.1 313.7,912.8 314.2,911.9 314.6,910.6 315.1,910.8 315.6,911.3 316.1,911.1 316.5,909.6 317,906.6 317.5,907.7 317.9,905.3 318.4,906.1 318.9,901 319.3,903.5 319.8,899.7 320.3,900.8 320.7,897.5 321.2,898.1 321.7,895.3 322.2,891.9 322.6,891.8 323.1,891.4 323.6,890.4 324,886 324.5,885.9 325,885 325.4,884.1 325.9,883.1 326.4,880.1 326.9,877.5 327.3,878.2 327.8,875.5 328.3,875.3 328.7,871.5 329.2,871.1 329.7,867 330.1,866.5 330.6,864.1 331.1,862.4 331.5,858.2 332,857 332.5,853.6 333,852 333.4,850.5 333.9,851.1 334.4,844.2 334.8,842.4 335.3,838.6 335.8,837 336.2,832.9 336.7,830.5 337.2,826.2 337.6,825.6 338.1,820.6 338.6,812.5 339.1,811.6 339.5,807.4 340,800 340.5,797.8 340.9,794 341.4,789.2 341.9,785.9 342.3,778.3 342.8,777.2 343.3,772.2 343.7,766.4 344.2,760.1 344.7,755.1 345.2,748.7 345.6,745.4 346.1,738.4 346.6,734.6 347,724.5 347.5,720.9 348,711 348.4,704.8 348.9,696.3 349.4,691.6 349.8,683.3 350.3,676.8 350.8,670.5 351.3,660 351.7,652.6 352.2,645.2 352.7,635.1 353.1,625.6 353.6,618.4 354.1,609.7 354.5,601.1 355,592 355.5,580 356,572.6 356.4,564.5 356.9,551.8 357.4,543.7 357.8,532.2 358.3,524 358.8,517.2 359.2,504.7 359.7,493 360.2,486 360.6,476.4 361.1,469 361.6,455.2 362.1,447.4 362.5,440.6 363,429.7 363.5,427.2 363.9,413.7 364.4,409.1 364.9,401.4 365.3,397.2 365.8,394.8 366.3,389.6 366.7,386.2 367.2,382.1 367.7,374 368.2,376.5 368.6,370.7 369.1,372.6 369.6,372.8 370,373.1 370.5,376.4 371,375.7 371.4,383.4 371.9,384.3 372.4,389.2 372.8,392.7 373.3,397.8 373.8,401.2 374.3,410.9 374.7,411.1 375.2,420.6 375.7,426.5 376.1,433.2 376.6,441.5 377.1,447 377.5,457.8 378,465.4 378.5,472 379,481.2 379.4,485.8 379.9,492.3 380.4,502.5 380.8,511 381.3,523.9 381.8,526.5 382.2,536.4 382.7,543.5 383.2,553.1 383.6,556.6 384.1,564.5 384.6,569.8 385.1,575.1 385.5,581.3 386,587.8 386.5,597.6 386.9,601.4 387.4,606.1 387.9,611.7 388.3,615.7 388.8,621.4 389.3,626 389.7,631.5 390.2,636 390.7,635.5 391.2,642.3 391.6,647.6 392.1,646.6 392.6,650.8 393,654.2 393.5,658.1 394,659.4 394.4,660 394.9,662.8 395.4,665.2 395.8,665.3 396.3,668.7 396.8,667 397.3,665.1 397.7,665.8 398.2,666.9 398.7,666.5 399.1,667.4 399.6,666.3 400.1,667.6 400.5,665 401,664.7 401.5,659.3 402,658 402.4,657.8 402.9,654.5 403.4,652.8 403.8,649.4 404.3,644.9 404.8,645.5 405.2,641.1 405.7,632.8 406.2,630.4 406.6,627.3 407.1,624 407.6,618.1 408.1,611 408.5,609.7 409,602.6 409.5,599.5 409.9,592.1 410.4,587.4 410.9,580.9 411.3,574.5 411.8,565.4 412.3,561.4 412.7,552.8 413.2,543 413.7,537.1 414.2,529.6 414.6,523.4 415.1,515.9 415.6,504.5 416,499.7 416.5,489.9 417,479.6 417.4,474.7 417.9,463 418.4,453.6 418.8,448.6 419.3,440.2 419.8,428.6 420.3,423.3 420.7,414.6 421.2,403.2 421.7,399.9 422.1,387.6 422.6,380.2 423.1,367.2 423.5,365.8 424,356 424.5,351.2 424.9,340.3 425.4,340 425.9,334.8 426.4,330.4 426.8,315.5 427.3,318.4 427.8,314 428.2,303.7 428.7,305.6 429.2,304.6 429.6,305.9 430.1,300 430.6,301.4 431.1,300.6 431.5,301.8 432,301 432.5,304.9 432.9,306.8 433.4,304 433.9,311.7 434.3,310.7 434.8,314.8 435.3,321.2 435.7,322.8 436.2,327.7 436.7,332.2 437.2,336.1 437.6,338.1 438.1,341.6 438.6,349.4 439,354 439.5,357.6 440,360.8 440.4,367.2 440.9,369.5 441.4,370.8 441.8,377.9 442.3,382 442.8,385.9 443.3,385.7 443.7,388.9 444.2,393.6 444.7,394.4 445.1,397.2 445.6,400.8 446.1,401.1 446.5,404.9 447,402.6 447.5,405.7 447.9,404.3 448.4,406.8 448.9,401 449.4,399.6 449.8,400.7 450.3,395.1 450.8,392.8 451.2,391.4 451.7,388.5 452.2,381.3 452.6,380.6 453.1,375.1 453.6,370.9 454.1,366.1 454.5,359.8 455,356.4 455.5,349 455.9,341 456.4,334.5 456.9,329.2 457.3,321 457.8,314.1 458.3,303 458.7,295.1 459.2,290.3 459.7,277.1 460.2,271.7 460.6,260.7 461.1,248.7 461.6,237.3 462,232.2 462.5,220 463,210.6 463.4,199.2 463.9,196.5 464.4,185.3 464.8,176.6 465.3,169.3 465.8,161.1 466.3,153.4 466.7,147.5 467.2,139.5 467.7,128.6 468.1,131.1 468.6,126.1 469.1,121.7 469.5,122.6 470,114 470.5,109.6 470.9,119.4 471.4,117.8 471.9,115 472.4,120.4 472.8,126.4 473.3,126.8 473.8,136.2 474.2,145.9 474.7,151.4 475.2,156.1 475.6,165.6 476.1,172.2 476.6,184.6 477.1,194.2 477.5,204 478,214.9 478.5,234.2 478.9,242.7 479.4,253.3 479.9,267.8 480.3,285.2 480.8,299 481.3,308.2 481.7,323.7 482.2,339 482.7,350.4 483.2,362.7 483.6,377 484.1,392.8 484.6,404.9 485,417.5 485.5,433 486,448.5 486.4,461.1 486.9,472.3 487.4,488.9 487.8,496.3 488.3,509.9 488.8,519.5 489.3,535.2 489.7,545 490.2,553.5 490.7,566 491.1,581.4 491.6,590 492.1,599.1 492.5,610.4 493,615.9 493.5,626.6 493.9,635 494.4,644.8 494.9,654.3 495.4,664.3 495.8,673.3 496.3,681.3 496.8,691.8 497.2,694.2 497.7,702.3 498.2,710.3 498.6,715 499.1,722.6 499.6,730.2 500,734.5 500.5,742.7 501,749.8 501.5,751.9 501.9,755.7 502.4,764.8 502.9,768.3 503.3,775.2 503.8,779.2 504.3,785.1 504.7,790.9 505.2,794.9 505.7,797.5 506.2,800.5 506.6,802.7 507.1,807.1 507.6,812.9 508,817.9 508.5,820.4 509,824 509.4,825.9 509.9,829.1 510.4,832.2 510.8,838.6 511.3,837.9 511.8,844.6 512.3,845.2 512.7,849.9 513.2,852.1 513.7,855.4 514.1,858.5 514.6,858.2 515.1,860.3 515.5,863.4 516,865.1 516.5,869.3 516.9,870.3 517.4,872.5 517.9,875.1 518.4,875.8 518.8,879.8 519.3,877.7 519.8,882.3 520.2,884.4 520.7,884.4 521.2,886.2 521.6,890 522.1,889.9 522.6,889.3 523,891.6 523.5,896.2 524,895.2 524.5,899.5 524.9,900.9 525.4,900.2 525.9,902.5 526.3,902 526.8,903.8 527.3,904.6 527.7,907.5 528.2,906.2 528.7,908.9 529.2,910.2 529.6,911.9 530.1,909.6 530.6,911.1 531,913.3 531.5,915.2 532,916.6 532.4,917.7 532.9,921 533.4,920.2 533.8,921 534.3,920.5 534.8,923 535.3,923.8 535.7,924.6 536.2,924.4 536.7,926.2 537.1,928.1 537.6,926 538.1,925 538.5,929.6 539,930.2 539.5,929.7 539.9,930.2 540.4,934.9 540.9,931.5 541.4,931.3 541.8,932.9 542.3,934.8 542.8,934 543.2,934.9 543.7,936.4 544.2,936.1 544.6,937.4 545.1,937.8 545.6,937.1 546,939.1 546.5,938.1 547,941.3 547.5,939.5 547.9,940.9 548.4,939.5 548.9,941.7 549.3,941.2 549.8,945.1 550.3,943.6 550.7,944.9 551.2,942.6 551.7,943.7 552.2,945.4 552.6,944.4 553.1,948 553.6,946.5 554,947.6 554.5,948.2 555,948.1 555.4,949.6 555.9,948.3 556.4,950 556.8,951.4 557.3,950.5 557.8,950.8 558.3,950.6 558.7,951.5 559.2,952.6 559.7,951.8 560.1,950.4 560.6,953 561.1,953 561.5,954.1 562,953.9 562.5,956.1 562.9,953 563.4,953.6 563.9,955.9 564.4,954.2 564.8,956.1 565.3,956 565.8,953.9 566.2,957.4 566.7,958.5 567.2,957.4 567.6,955.7 568.1,958.6 568.6,956.7 569,958.1 569.5,959 570,957.8 570.5,956.9 570.9,959.1 571.4,959.4 571.9,958.7 572.3,959 572.8,961.1 573.3,960.3 573.7,960.1 574.2,960.1 574.7,961.3 575.1,961.4 575.6,961.3 576.1,960 576.6,961.4 577,961.3 577.5,962.4 578,963.8 578.4,963.8 578.9,963.6 579.4,963.2 579.8,962.8 580.3,963.8 580.8,963 581.3,963.3 581.7,962.9 582.2,964 582.7,964.1 583.1,966.6 583.6,965.2 584.1,964.3 584.5,965.8 585,964.5 585.5,966.4 585.9,966.2 586.4,968.9 586.9,964.3 587.4,965.7 587.8,965.7 588.3,966.4 588.8,967 589.2,965.1 589.7,965.6 590.2,966.9 590.6,967.8 591.1,965.5 591.6,965.1 592,968.4 592.5,968.1 593,968.5 593.5,966.2 593.9,967.2 594.4,967.8 594.9,968.2 595.3,967.6 595.8,967.8 596.3,969.2 596.7,967.6 597.2,967.5 597.7,967.8 598.1,967.8 598.6,968.6 599.1,968.3 599.6,968.1 600,970.4 600.5,969.2 601,968.5 601.4,970.4 601.9,968.4 602.4,969.1 602.8,969.1 603.3,968.6 603.8,968.9 604.3,969.5 604.7,967.9 605.2,969.1 605.7,969.9 606.1,970 606.6,970.1 607.1,972.5 607.5,970.7 608,969.8 608.5,969.9 608.9,970.1 609.4,970.7 609.9,969.9 610.4,972 610.8,969.1 611.3,971.1 611.8,971 612.2,969.2 612.7,971.2 613.2,971.2 613.6,969.9 614.1,973.3 614.6,971.5 615,970.3 615.5,970.1 616,969.7 616.5,970.6 616.9,970 617.4,967.6 617.9,967.1 618.3,966.4 618.8,965.7 619.3,964.8 619.7,963.9 620.2,965.4 620.7,966.3 621.1,966.3 621.6,964.8 622.1,968.3 622.6,970.1 623,970.1 623.5,971 624,971.2 624.4,969.5 624.9,968.5 625.4,972.1 625.8,970.8 626.3,971.9 626.8,971.1 627.3,971.3 627.7,973.1 628.2,970.2 628.7,971.5 629.1,970.3 629.6,971.6 630.1,972.1 630.5,972.3 631,971.7 631.5,970 631.9,971.9 632.4,972.6 632.9,972.7 633.4,974 633.8,972.2 634.3,970.4 634.8,971 635.2,971.7 635.7,972.8 636.2,970.3 636.6,972.6 637.1,972.3 637.6,970.6 638,972.2 638.5,970.6 639,971.5 639.5,971 639.9,971.5 640.4,969.7 640.9,971.4 641.3,968 641.8,969.6 642.3,969 642.7,970.9 643.2,969.2 643.7,967.5 644.1,966.7 644.6,967.5 645.1,966.6 645.6,970 646,964.6 646.5,968.2 647,965.8 647.4,970.2 647.9,968.6 648.4,971.8 648.8,969.7 649.3,971.8 649.8,970.9 650.2,972.2 650.7,970.9 651.2,967.5 651.7,970.1 652.1,969.1 652.6,971.9 653.1,971.4 653.5,970.8 654,971.2 654.5,970.9 654.9,970 655.4,972.8 655.9,970.8 656.4,970.2 656.8,968.7 657.3,969.6 657.8,970.3 658.2,970 658.7,969.6 659.2,970 659.6,968.7 660.1,969.9 660.6,968.1 661,968.8 661.5,968.9 662,970.6 662.5,970.1 662.9,969.5 663.4,968.1 663.9,968.8 664.3,970.1 664.8,970.5 665.3,967.3 665.7,968.4 666.2,968.9 666.7,969.1 667.1,968.6 667.6,969.2 668.1,966.7 668.6,970 669,966.8 669.5,968 670,968.4 670.4,969 670.9,968.6 671.4,968.4 671.8,968.7 672.3,966.9 672.8,967.8 673.2,968.6 673.7,965.8 674.2,964.9 674.7,965.1 675.1,967.7 675.6,967.4 676.1,965.3 676.5,965.8 677,965.9 677.5,966.4 677.9,962.8 678.4,964.1 678.9,964.2 679.4,964.7 679.8,964.1 680.3,963.5 680.8,963.9 681.2,960.4 681.7,966.6 682.2,963.8 682.6,963.6 683.1,961.5 683.6,962.4 684,964 684.5,963.5 685,961.1 685.5,959.3 685.9,960.6 686.4,959.7 686.9,960.7 687.3,957.9 687.8,958.8 688.3,958.9 688.7,957.7 689.2,959.1 689.7,956.1 690.1,955.6 690.6,956.2 691.1,957.1 691.6,955.3 692,954.5 692.5,955.7 693,954.5 693.4,953.2 693.9,953.4 694.4,952.5 694.8,952.9 695.3,951.8 695.8,950.1 696.2,949.9 696.7,949.4 697.2,949.7 697.7,949.1 698.1,947 698.6,947.1 699.1,947 699.5,947.3 700,945.6 700.5,946.9 700.9,943.8 701.4,943.9 701.9,941.9 702.4,940.3 702.8,940.8 703.3,940.4 703.8,939.3 704.2,938.2 704.7,936.8 705.2,935.3 705.6,935 706.1,934.9 706.6,934.5 707,928.4 707.5,932.1 708,931.7 708.5,930.8 708.9,928.7 709.4,927.9 709.9,925.4 710.3,924.7 710.8,924.3 711.3,921.1 711.7,920.3 712.2,920.3 712.7,917.1 713.1,917.6 713.6,914.4 714.1,915.1 714.6,913.6 715,911.5 715.5,909.7 716,908.8 716.4,905.2 716.9,906.1 717.4,905.3 717.8,905.2 718.3,901.6 718.8,900.6 719.2,901 719.7,900 720.2,895.6 720.7,896.1 721.1,894.7 721.6,892.3 722.1,888.9 722.5,887.4 723,887.8 723.5,888.5 723.9,883.8 724.4,884.5 724.9,883.4 725.3,877.9 725.8,877.2 726.3,878.5 726.8,876.4 727.2,874.5 727.7,872.4 728.2,871.9 728.6,868.9 729.1,871.8 729.6,865.8 730,863.8 730.5,865.2 731,865.9 731.5,862.3 731.9,862 732.4,859.8 732.9,860.3 733.3,858.3 733.8,857.6 734.3,856.4 734.7,857.1 735.2,859.9 735.7,857 736.1,857.1 736.6,859.7 737.1,855.7 737.6,855.2 738,857.3 738.5,855.2 739,857.5 739.4,858.9 739.9,856.4 740.4,857.6 740.8,861.2 741.3,858.1 741.8,859.4 742.2,861.4 742.7,861.5 743.2,861.7 743.7,866 744.1,864.2 744.6,866.5 745.1,866.7 745.5,868.1 746,867.9 746.5,872.2 746.9,871.8 747.4,875.4 747.9,873.6 748.3,876 748.8,878.7 749.3,879.7 749.8,880.2 750.2,882.5 750.7,882.5 751.2,885.8 751.6,883.9 752.1,889.1 752.6,892.2 753,893.2 753.5,894.7 754,894.6 754.5,897.3 754.9,897.8 755.4,899.7 755.9,901.2 756.3,898.6 756.8,905.6 757.3,906.5 757.7,908.4 758.2,907.7 758.7,911.2 759.1,912.3 759.6,910.4 760.1,912.4 760.6,916 761,916.5 761.5,918.6 762,919.2 762.4,923.1 762.9,920.2 763.4,922.1 763.8,923.8 764.3,924.6 764.8,926.7 765.2,928.6 765.7,928.1 766.2,931.3 766.7,933.6 767.1,934.4 767.6,936.6 768.1,936.5 768.5,936.1 769,939.3 769.5,939 769.9,941.4 770.4,939.8 770.9,938.4 771.3,940.5 771.8,943 772.3,944.3 772.8,944.2 773.2,946.5 773.7,944.7 774.2,946 774.6,948.8 775.1,948.5 775.6,949.2 776,951.5 776.5,951.9 777,950.3 777.5,952.1 777.9,950.5 778.4,953.2 778.9,954.3 779.3,952.4 779.8,956.9 780.3,958 780.7,956.7 781.2,957.8 781.7,959 782.1,957.6 782.6,959.5 783.1,959.2 783.6,957.5 784,958.7 784.5,959.5 785,961.9 785.4,961.2 785.9,962.7 786.4,961.4 786.8,960.8 787.3,965.2 787.8,966.3 788.2,964 788.7,963.6 789.2,965.6 789.7,963.3 790.1,964.7 790.6,963.6 791.1,966.1 791.5,966.2 792,965.7 792.5,965.7 792.9,965 793.4,966.1 793.9,968.8 794.3,967.2 794.8,969.4 795.3,967.1 795.8,968.3 796.2,968.1 796.7,968.6 797.2,970 797.6,967 798.1,970.4 798.6,970.6 799,970 799.5,970.3 800,970.1 800.4,971.4 800.9,970.8 801.4,970 801.9,971.3 802.3,972.4 802.8,971.9 803.3,971.7 803.7,972 804.2,971.4 804.7,971.6 805.1,970.1 805.6,972.2 806.1,973.7 806.6,972.2 807,971.8 807.5,974 808,973.3 808.4,973.4 808.9,973.9 809.4,974.2 809.8,973.5 810.3,972.7 810.8,975.8 811.2,973.9 811.7,973.1 812.2,974.3 812.7,975.5 813.1,972.6 813.6,975.8 814.1,974.3 814.5,976.8 815,975.4 815.5,974.6 815.9,976.2 816.4,976.3 816.9,974.5 817.3,975.2 817.8,974.4 818.3,976.1 818.8,973.6 819.2,975 819.7,972.8 820.2,976 820.6,972.8 821.1,974.2 821.6,975.8 822,975.1 822.5,975.1 823,974.5 823.4,975.1 823.9,973.7 824.4,976.1 824.9,976.7 825.3,976.7 825.8,975.8 826.3,977.2 826.7,976.4 827.2,977 827.7,976.4 828.1,976 828.6,975.1 829.1,973 829.6,976.7 830,975.9 830.5,978.3 831,973.8 831.4,977 831.9,974.9 832.4,976 832.8,975 833.3,976.4 833.8,976 834.2,977 834.7,976.2 835.2,976.5 835.7,977.4 836.1,976.6 836.6,975.8 837.1,977.4 837.5,975.8 838,976.4 838.5,975.5 838.9,975.1 839.4,972.4 839.9,976.6 840.3,974.5 840.8,976.6 841.3,977.8 841.8,974.2 842.2,976.7 842.7,975.5 843.2,976.1 843.6,974.2 844.1,975.5 844.6,975.6 845,977 845.5,977.8 846,975.7 846.4,974.9 846.9,977.7 847.4,975.1 847.9,975.1 848.3,975.2 848.8,975.5 849.3,975.7 849.7,974.2 850.2,974.7 850.7,976.9 851.1,976.5 851.6,975.1 852.1,974.8 852.6,974.2 853,975.5 853.5,973.7 854,974.4 854.4,973.6 854.9,973.3 855.4,974 855.8,973.9 856.3,973.1 856.8,973.6 857.2,973.7 857.7,973 858.2,972.6 858.7,973.1 859.1,974 859.6,974.3 860.1,973.2 860.5,972.5 861,972.7 861.5,974.8 861.9,973.5 862.4,971.3 862.9,972.2 863.3,971.5 863.8,971.6 864.3,969.9 864.8,971.7 865.2,970 865.7,970.8 866.2,973 866.6,972.3 867.1,970 867.6,969.7 868,969.6 868.5,968.4 869,969.2 869.4,969.9 869.9,968.8 870.4,970.7 870.9,969.6 871.3,968.9 871.8,971.3 872.3,969.9 872.7,969 873.2,970.9 873.7,970.1 874.1,967.5 874.6,968.5 875.1,967.4 875.5,966.1 876,969.7 876.5,969 877,965.6 877.4,967.4 877.9,964.7 878.4,967.6 878.8,966.1 879.3,965.5 879.8,967.1 880.2,965.4 880.7,964.8 881.2,965.9 881.7,964.2 882.1,965.3 882.6,964 883.1,964.7 883.5,964.1 884,964 884.5,961.6 884.9,964.7 885.4,962 885.9,963.9 886.3,960.8 886.8,960.8 887.3,960.5 887.8,961.8 888.2,959.6 888.7,960.2 889.2,957.5 889.6,958.4 890.1,958.8 890.6,958 891,955.5 891.5,957.9 892,955.7 892.4,958.7 892.9,955.8 893.4,958.2 893.9,955.8 894.3,955.1 894.8,953.5 895.3,953.4 895.7,953.6 896.2,950.2 896.7,953.1 897.1,950 897.6,950.5 898.1,947 898.5,950.2 899,949.9 899.5,948.7 900,948.1 900.4,946.6 900.9,946.5 901.4,947.1 901.8,944.4 902.3,944.8 902.8,944.3 903.2,942.3 903.7,942.1 904.2,941.2 904.7,939.5 905.1,942.2 905.6,937.8 906.1,939.5 906.5,937.8 907,933 907.5,934.8 907.9,934.7 908.4,933.4 908.9,930.2 909.3,930.4 909.8,927.5 910.3,926.5 910.8,926.2 911.2,925.5 911.7,925.9 912.2,923 912.6,922.5 913.1,918.2 913.6,916.8 914,916.1 914.5,917.4 915,911.9 915.4,909.9 915.9,910.1 916.4,909.9 916.9,904.5 917.3,904.4 917.8,901.1 918.3,902.7 918.7,899.7 919.2,897 919.7,894.4 920.1,892 920.6,890.2 921.1,886.8 921.5,884.1 922,881.3 922.5,880.2 923,876.5 923.4,876 923.9,869.2 924.4,869.9 924.8,867 925.3,864.9 925.8,859.8 926.2,855 926.7,852.5 927.2,852 927.7,846.6 928.1,842.9 928.6,839.1 929.1,836.2 929.5,832.2 930,826.5 930.5,823.9 930.9,822.2 931.4,818.8 931.9,812.4 932.3,807.6 932.8,806 933.3,799.4 933.8,793.5 934.2,790.5 934.7,787.1 935.2,783.7 935.6,776 936.1,772.7 936.6,766.6 937,764 937.5,757.8 938,752.9 938.4,746.1 938.9,742.1 939.4,737.2 939.9,727.3 940.3,729.2 940.8,723.1 941.3,718 941.7,713 942.2,709 942.7,704.8 943.1,697.9 943.6,695.9 944.1,691.7 944.5,687.6 945,681.4 945.5,680 946,674.8 946.4,674.3 946.9,672.9 947.4,669.6 947.8,665.3 948.3,662.9 948.8,661.1 949.2,661.1 949.7,658.3 950.2,657.8 950.6,654.1 951.1,656.6 951.6,656.9 952.1,657.9 952.5,661.6 953,658.6 953.5,660.1 953.9,665.1 954.4,664.6 954.9,668.3 955.3,671.5 955.8,674.2 956.3,676.1 956.8,682.2 957.2,686.7 957.7,686.5 958.2,691.6 958.6,697.7 959.1,700.1 959.6,703.2 960,708.6 960.5,715.2 961,717 961.4,723.7 961.9,728.6 962.4,731.8 962.9,738.5 963.3,743.5 963.8,748.8 964.3,753.5 964.7,754.7 965.2,763.1 965.7,767.3 966.1,772.6 966.6,774.6 967.1,781.7 967.5,785.5 968,787.7 968.5,795.6 969,797 969.4,800.9 969.9,807.1 970.4,809.8 970.8,815.2 971.3,818.3 971.8,822.9 972.2,827.4 972.7,829.9 973.2,834.8 973.6,838.3 974.1,839.4 974.6,845.1 975.1,848 975.5,850.6 976,855 976.5,858.8 976.9,860.5 977.4,860.4 977.9,865.7 978.3,867.7 978.8,870.1 979.3,873.5 979.8,875.1 980.2,880.1 980.7,880.7 981.2,882.7 981.6,885.9 982.1,888.1 982.6,890.6 983,892 983.5,893.1 984,895.2 984.4,894.1 984.9,896.8 985.4,901.7 985.9,901.7 986.3,906 986.8,907.6 987.3,905.2 987.7,908.7 988.2,913.4 988.7,910.1 989.1,913 989.6,913.5 990.1,914.7 990.5,915.9 991,917.4 991.5,919.5 992,918.7 992.4,921.4 992.9,920.9 993.4,923.4 993.8,924.1 994.3,923.7 994.8,925.7 995.2,925.5 995.7,926.2 996.2,929.5 996.6,926.6 997.1,930.3 997.6,931.2 998.1,930.4 998.5,933.1 999,933.6 999.5,931.5 999.9,934.3 1000.4,934.9 1000.9,934 1001.3,936.1 1001.8,936.9 1002.3,935.6 1002.8,934.6 1003.2,938 1003.7,937 1004.2,936.3 1004.6,938.4 1005.1,936.4 1005.6,939.2 1006,941.9 1006.5,937 1007,941.3 1007.4,940 1007.9,940.9 1008.4,940.7 1008.9,942.8 1009.3,942.3 1009.8,941.7 1010.3,941.3 1010.7,942.6 1011.2,944.8 1011.7,942.2 1012.1,944.4 1012.6,944.5 1013.1,941.9 1013.5,945.8 1014,944.6 1014.5,947.5 1015,947.1 1015.4,944.8 1015.9,945.1 1016.4,944.2 1016.8,943.9 1017.3,946.6 1017.8,945.4 1018.2,945.4 1018.7,945.7 1019.2,946.8 1019.6,947.2 1020.1,946.1 1020.6,946 1021.1,946.4 1021.5,948.8 1022,943.8 1022.5,944.9 1022.9,946.9 1023.4,946.5 1023.9,947.8 1024.3,947.9 1024.8,948.7 1025.3,945.3 1025.7,946.9 1026.2,945.9 1026.7,947.3 1027.2,946.2 1027.6,947 1028.1,945 1028.6,946 1029,945 1029.5,945.2 1030,944.9 1030.4,944 1030.9,946.5 1031.4,945.3 1031.9,946.2 1032.3,943.4 1032.8,942.1 1033.3,943.5 1033.7,943.9 1034.2,944.8 1034.7,944.9 1035.1,944.9 1035.6,945 1036.1,943.8 1036.5,942.8 1037,941.4 1037.5,942.9 1038,941.2 1038.4,940.5 1038.9,941.8 1039.4,941.1 1039.8,941.5 1040.3,939.2 1040.8,941.1 1041.2,939.7 1041.7,938.7 1042.2,937.5 1042.6,936.7 1043.1,935.9 1043.6,938.8 1044.1,934.9 1044.5,936.9 1045,935.3 1045.5,934.4 1045.9,934 1046.4,933.9 1046.9,934.5 1047.3,933.5 1047.8,932.2 1048.3,929.9 1048.7,928.7 1049.2,932.6 1049.7,928.3 1050.2,926.9 1050.6,929.5 1051.1,925.5 1051.6,927.5 1052,926.9 1052.5,925.3 1053,925.3 1053.4,921.5 1053.9,920.8 1054.4,921.2 1054.9,920.5 1055.3,919.5 1055.8,919.2 1056.3,916.7 1056.7,913.9 1057.2,916 1057.7,914.1 1058.1,914.4 1058.6,914.8 1059.1,911.1 1059.5,910.6 1060,907.5 1060.5,908.5 1061,906.5 1061.4,905.1 1061.9,904.6 1062.4,900.6 1062.8,901.4 1063.3,899.9 1063.8,899.9 1064.2,894 1064.7,894.7 1065.2,896.1 1065.6,891.1 1066.1,889.5 1066.6,890.8 1067.1,890.1 1067.5,885.2 1068,882.4 1068.5,880.7 1068.9,879.2 1069.4,876.8 1069.9,875 1070.3,874.4 1070.8,872.3 1071.3,870.9 1071.7,868.3 1072.2,864.6 1072.7,865.2 1073.2,862.5 1073.6,859.3 1074.1,857.6 1074.6,856.2 1075,853.7 1075.5,851.3 1076,850.3 1076.4,848.5 1076.9,844.3 1077.4,842.5 1077.9,838.7 1078.3,837.7 1078.8,836.3 1079.3,834.5 1079.7,831.3 1080.2,828.6 1080.7,825.4 1081.1,824.4 1081.6,820.3 1082.1,819.8 1082.5,817.4 1083,813.8 1083.5,813.4 1084,810.4 1084.4,809.4 1084.9,805.8 1085.4,805.1 1085.8,804.7 1086.3,800.7 1086.8,799.7 1087.2,795.8 1087.7,794.4 1088.2,790.5 1088.6,791.4 1089.1,788.4 1089.6,788.8 1090.1,784.2 1090.5,784.7 1091,785 1091.5,784.3 1091.9,780.4 1092.4,781.3 1092.9,785 1093.3,781.8 1093.8,780.3 1094.3,775.6 1094.7,778.1 1095.2,780.1 1095.7,779.6 1096.2,780.1 1096.6,781 1097.1,780.1 1097.6,781.7 1098,778.4 1098.5,785.4 1099,782.1 1099.4,782.5 1099.9,786.7 1100.4,786.5 1100.8,788.3 1101.3,787.3 1101.8,790 1102.3,792.1 1102.7,791 1103.2,794 1103.7,795.7 1104.1,797.5 1104.6,798.7 1105.1,799.8 1105.5,804.3 1106,806 1106.5,809.4 1107,809.7 1107.4,811 1107.9,812.1 1108.4,816.5 1108.8,818.1 1109.3,823.7 1109.8,826.3 1110.2,827.5 1110.7,826.3 1111.2,827.9 1111.6,831.8 1112.1,833.1 1112.6,838.6 1113.1,839 1113.5,840.5 1114,843.3 1114.5,847.3 1114.9,846.4 1115.4,850.5 1115.9,850.2 1116.3,853.9 1116.8,855.3 1117.3,858.7 1117.7,860.6 1118.2,864 1118.7,865.3 1119.2,865.5 1119.6,866.5 1120.1,869 1120.6,871.4 1121,873.5 1121.5,874.6 1122,878.9 1122.4,880.4 1122.9,880.5 1123.4,881.8 1123.8,883.8 1124.3,885.7 1124.8,887.3 1125.3,886.7 1125.7,889.8 1126.2,889.3 1126.7,893.2 1127.1,895.5 1127.6,894.6 1128.1,897.5 1128.5,897.8 1129,898.9 1129.5,903.6 1130,903.4 1130.4,904 1130.9,904 1131.4,906.1 1131.8,906.4 1132.3,908.3 1132.8,907.5 1133.2,909.6 1133.7,910.1 1134.2,909.7 1134.6,914.5 1135.1,914.3 1135.6,913 1136.1,912.9 1136.5,914.6 1137,915.2 1137.5,916.2 1137.9,915.7 1138.4,917.2 1138.9,919 1139.3,920 1139.8,917.5 1140.3,920.5 1140.7,919.8 1141.2,920.2 1141.7,921.5 1142.2,921.5 1142.6,923.6 1143.1,924 1143.6,923 1144,922.9 1144.5,926.3 1145,926.6 1145.4,925 1145.9,924.5 1146.4,926.1 1146.8,926.8 1147.3,924.5 1147.8,927.5 1148.3,925.1 1148.7,926.7 1149.2,924.7 1149.7,925.4 1150.1,924.7 1150.6,925.3 1151.1,926.4 1151.5,923.9 1152,924.5 1152.5,925.4 1153,923.9 1153.4,926.9 1153.9,922.2 1154.4,927 1154.8,922.7 1155.3,924.4 1155.8,924.9 1156.2,923.1 1156.7,920.2 1157.2,921.2 1157.6,921.2 1158.1,921.3 1158.6,921.4 1159.1,921 1159.5,920.9 1160,917.1 1160.5,919 1160.9,914.8 1161.4,916.6 1161.9,914.3 1162.3,912.6 1162.8,915.3 1163.3,913.2 1163.7,913.7 1164.2,909.5 1164.7,909.1 1165.2,909.6 1165.6,907.9 1166.1,907.9 1166.6,905.9 1167,905.3 1167.5,903.1 1168,905.2 1168.4,902 1168.9,899.7 1169.4,900.9 1169.8,899.5 1170.3,897.9 1170.8,896.6 1171.3,894.5 1171.7,893.5 1172.2,889.4 1172.7,888.9 1173.1,888 1173.6,888.6 1174.1,888.5 1174.5,885.2 1175,883.6 1175.5,884 1175.9,880.6 1176.4,880.5 1176.9,878.7 1177.4,874.8 1177.8,875.6 1178.3,873.9 1178.8,870.6 1179.2,869.3 1179.7,867.5 1180.2,869.6 1180.6,869.2 1181.1,865.8 1181.6,865.5 1182.1,860.1 1182.5,862.5 1183,861.8 1183.5,859.9 1183.9,855 1184.4,856.4 1184.9,853.4 1185.3,853.7 1185.8,849.9 1186.3,849.5 1186.7,847.3 1187.2,847.5 1187.7,845.3 1188.2,845.7 1188.6,843.9 1189.1,842 1189.6,839.9 1190,838.2 1190.5,837.2 1191,836.8 1191.4,834.5 1191.9,833.2 1192.4,831.2 1192.8,829.6 1193.3,827.2 1193.8,823.8 1194.3,825.6 1194.7,823.9 1195.2,819.9 1195.7,822.2 1196.1,815.8 1196.6,817 1197.1,814 1197.5,812 1198,811.1 1198.5,808.6 1198.9,805 1199.4,801.1 1199.9,798.6 1200.4,798.2 1200.8,797.9 1201.3,794.3 1201.8,790.4 1202.2,788.3 1202.7,786.2 1203.2,785.1 1203.6,778.6 1204.1,778.1 1204.6,774.7 1205.1,770.3 1205.5,767.1 1206,767.8 1206.5,763.6 1206.9,759.9 1207.4,757.7 1207.9,756.3 1208.3,752.2 1208.8,751.9 1209.3,746.4 1209.7,743.1 1210.2,741.7 1210.7,738.1 1211.2,736.7 1211.6,737.1 1212.1,735.8 1212.6,732.2 1213,729.8 1213.5,726.4 1214,724.8 1214.4,725.7 1214.9,724.2 1215.4,722 1215.8,721.4 1216.3,724 1216.8,722.6 1217.3,720.8 1217.7,721 1218.2,722.7 1218.7,721.4 1219.1,721.6 1219.6,719.2 1220.1,719.7 1220.5,720.1 1221,720.5 1221.5,725.2 1221.9,726.9 1222.4,726.2 1222.9,729.7 1223.4,731.2 1223.8,731.9 1224.3,731.4 1224.8,737.7 1225.2,739.3 1225.7,738.1 1226.2,743.9 1226.6,742.8 1227.1,743.5 1227.6,746 1228.1,745.7 1228.5,750.1 1229,750.2 1229.5,756.5 1229.9,757.2 1230.4,756.6 1230.9,761.7 1231.3,760.2 1231.8,765.2 1232.3,767.7 1232.7,769.2 1233.2,769.4 1233.7,773 1234.2,775 1234.6,777.5 1235.1,781.7 1235.6,784.1 1236,786 1236.5,784.8 1237,786.8 1237.4,790.1 1237.9,792.8 1238.4,791.2 1238.8,795.6 1239.3,801.4 1239.8,799.1 1240.3,802 1240.7,804.3 1241.2,808.4 1241.7,809.8 1242.1,811.7 1242.6,812.3 1243.1,817.7 1243.5,819.2 1244,820.6 1244.5,823.9 1244.9,827.4 1245.4,826.5 1245.9,828.8 1246.4,832 1246.8,834.6 1247.3,833.9 1247.8,839.8 1248.2,844.7 1248.7,845 1249.2,849.3 1249.6,846.2 1250.1,852.5 1250.6,856.9 1251,859.6 1251.5,859 1252,860.8 1252.5,864.8 1252.9,864.9 1253.4,868.3 1253.9,868.8 1254.3,873.4 1254.8,875.5 1255.3,879.9 1255.7,880.3 1256.2,881 1256.7,883.9 1257.2,884.3 1257.6,888.2 1258.1,889.8 1258.6,892.6 1259,895.3 1259.5,893.2 1260,898.2 1260.4,900.6 1260.9,899.8 1261.4,905.8 1261.8,904 1262.3,910 1262.8,909.4 1263.3,911.3 1263.7,912 1264.2,914.6 1264.7,913.4 1265.1,915.3 1265.6,915.3 1266.1,920 1266.5,919.8 1267,923.1 1267.5,924.3 1267.9,923.1 1268.4,927.1 1268.9,927.8 1269.4,929 1269.8,930.6 1270.3,931.2 1270.8,932.4 1271.2,934.9 1271.7,933.4 1272.2,934.2 1272.6,935.9 1273.1,939.2 1273.6,938.5 1274,942.4 1274.5,937 1275,941 1275.5,942.3 1275.9,944.1 1276.4,946.3 1276.9,945.3 1277.3,945.1 1277.8,948.2 1278.3,949.9 1278.7,945.6 1279.2,950.3 1279.7,950.7 1280.2,950 1280.6,951.1 1281.1,952.8 1281.6,953.1 1282,953.4 1282.5,952.9 1283,955.4 1283.4,954.8 1283.9,956.3 1284.4,956 1284.8,957.6 1285.3,958.8 1285.8,958.7 1286.3,959.7 1286.7,957.6 1287.2,960.4 1287.7,960.6 1288.1,959.9 1288.6,960.9 1289.1,958.1 1289.5,962.1 1290,961.8 1290.5,959.9 1290.9,963.7 1291.4,962.6 1291.9,964.1 1292.4,963.8 1292.8,965 1293.3,964.8 1293.8,964.6 1294.2,965.8 1294.7,966.5 1295.2,962.9 1295.6,966 1296.1,965.5 1296.6,965 1297,968.2 1297.5,968 1298,965.7 1298.5,965.8 1298.9,968.3 1299.4,966.7 1299.9,967.2 1300.3,965.3 1300.8,967.6 1301.3,969.3 1301.7,967.4 1302.2,968 1302.7,970.3 1303.2,969.3 1303.6,970.1 1304.1,969.1 1304.6,969.9 1305,966.4 1305.5,967.5 1306,966.5 1306.4,971.2 1306.9,968.8 1307.4,968.4 1307.8,967.6 1308.3,967.3 1308.8,965.1 1309.3,971.3 1309.7,968.4 1310.2,968.6 1310.7,966.7 1311.1,968.4 1311.6,968.9 1312.1,968.3 1312.5,969.1 1313,967.3 1313.5,968.7 1313.9,969.4 1314.4,969 1314.9,968.8 1315.4,968.2 1315.8,967.1 1316.3,969 1316.8,967.9 1317.2,967.2 1317.7,969.4 1318.2,966.5 1318.6,967.9 1319.1,969.6 1319.6,969.9 1320,968.3 1320.5,969 1321,969.7 1321.5,969.1 1321.9,968.4 1322.4,970 1322.9,969.8 1323.3,969.9 1323.8,971.4 1324.3,970.6 1324.7,969.9 1325.2,970.9 1325.7,973.3 1326.1,970.3 1326.6,971.1 1327.1,970.8 1327.6,972.5 1328,970.8 1328.5,973.2 1329,973.9 1329.4,972.3 1329.9,972.6 1330.4,972.1 1330.8,974.3 1331.3,973.2 1331.8,974.2 1332.3,974.8 1332.7,974.8 1333.2,977 1333.7,978.3 1334.1,974.1 1334.6,976.1 1335.1,977.7 1335.5,976.5 1336,977.5 1336.5,978.7 1336.9,980.5 1337.4,980.6 1337.9,979.1 1338.4,980 1338.8,979.7 1339.3,980.3 1339.8,979.4 1340.2,979 1340.7,981 1341.2,983 1341.6,983 1342.1,980.1 1342.6,982.5 1343,982.2 1343.5,983.6 1344,982.2 1344.5,984.9 1344.9,983.9 1345.4,985.1 1345.9,985.7 1346.3,982.6 1346.8,984.9 1347.3,987.2 1347.7,985.7 1348.2,987.1 1348.7,986.6 1349.1,985.7 1349.6,986.9 1350.1,988 1350.6,988.5 1351,988.9 1351.5,986.1 1352,988.6 1352.4,986.1 1352.9,987.8 1353.4,987.9 1353.8,989.1 1354.3,988.9 1354.8,990.1 1355.3,988.1 1355.7,990 1356.2,989.6 1356.7,989.3 1357.1,988 1357.6,990.2 1358.1,990.1 1358.5,990.8 1359,989.9 1359.5,989.8 1359.9,990.6 1360.4,990.9 1360.9,991.2 1361.4,992.8 1361.8,989.9 1362.3,993.1 1362.8,987.3 1363.2,992 1363.7,990 1364.2,993.5 1364.6,990.1 1365.1,992.5 1365.6,990.1 1366,990 1366.5,992.4 1367,992.5 1367.5,990.7 1367.9,994.5 1368.4,991.3 1368.9,993.6 1369.3,990.6 1369.8,990.7 1370.3,992 1370.7,990.7 1371.2,992.5 1371.7,989.4 1372.1,992.2 1372.6,991.4 1373.1,990.9 1373.6,992.3 1374,991.8 1374.5,991.6 1375,993.1 1375.4,992.5 1375.9,992.6 1376.4,993.7 1376.8,992 1377.3,993.1 1377.8,991.6 1378.3,992.8 1378.7,992.7 1379.2,991.4 1379.7,990.2 1380.1,990.5 1380.6,990.9 1381.1,992.6 1381.5,991.8 1382,991.5 1382.5,992.4 1382.9,992.7 1383.4,993.4 1383.9,991 1384.4,992.3 1384.8,992.4 1385.3,990.4 1385.8,991.6 1386.2,990.3 1386.7,991.1 1387.2,991.8 1387.6,989.2 1388.1,990.1 1388.6,990.1 1389,991.1 1389.5,990 1390,991.2 1390.5,989.7 1390.9,990 1391.4,991.2 1391.9,990.8 1392.3,990.5 1392.8,990.2 1393.3,991.3 1393.7,991.6 1394.2,989.4 1394.7,988.9 1395.1,988.4 1395.6,991.5 1396.1,988.3 1396.6,987.7 1397,989.4 1397.5,990.2 1398,987.3 1398.4,988.5 1398.9,986.8 1399.4,987.6 1399.8,990.2 1400.3,988.3 1400.8,987.6 1401.2,987.8 1401.7,987.9 1402.2,987.3 1402.7,985.8 1403.1,985.7 1403.6,989.3 1404.1,985.8 1404.5,988 1405,985.5 1405.5,987.8 1405.9,986.9 1406.4,985.6 1406.9,988.1 1407.4,984.4 1407.8,985 1408.3,984.1 1408.8,984 1409.2,984.3 1409.7,983.4 1410.2,984 1410.6,986.1 1411.1,981.9 1411.6,982.3 1412,982.5 1412.5,982.9 1413,984.5 1413.5,983.9 1413.9,983.5 1414.4,983 1414.9,985.4 1415.3,981 1415.8,980.8 1416.3,982 1416.7,982.1 1417.2,981.4 1417.7,980.6 1418.1,979.9 1418.6,981 1419.1,980.3 1419.6,980.4 1420,979.6 1420.5,982.4 1421,981.2 1421.4,982.8 1421.9,979.9 1422.4,980.5 1422.8,980 1423.3,980.3 1423.8,979.9 1424.2,979.9 1424.7,977.7 1425.2,979.7 1425.7,980.9 1426.1,977.7 1426.6,979.6 1427.1,980.7 1427.5,981.5 1428,979.9 1428.5,980.6 1428.9,982.2 1429.4,981.7 1429.9,979.7 1430.4,979.6 1430.8,981.6 1431.3,980.7 1431.8,979.9 1432.2,980.4 1432.7,981.2 1433.2,980.7 1433.6,980.7 1434.1,980.9 1434.6,979.5 1435,983.6 1435.5,983.1 1436,983.6 1436.5,981.8 1436.9,982.3 1437.4,983.1 1437.9,983.5 1438.3,980.6 1438.8,983.4 1439.3,982 1439.7,983.3 1440.2,982.8 1440.7,985.9 1441.1,984.7 1441.6,984.2 1442.1,986.2 1442.6,984.6 1443,984.1 1443.5,985 1444,985 1444.4,985.7 1444.9,986.9 1445.4,986 1445.8,986.3 1446.3,987.8 1446.8,987.2 1447.2,988.2 1447.7,987.5 1448.2,986 1448.7,986.5 1449.1,986.1 1449.6,989.6 1450.1,989 1450.5,988.2 1451,987.8 1451.5,989.7 1451.9,989.3 1452.4,990.1 1452.9,988.9 1453.4,988.8 1453.8,992.2 1454.3,989.4 1454.8,990.7 1455.2,992.6 1455.7,989 1456.2,992.2 1456.6,991.7 1457.1,991.6 1457.6,992.3 1458,990.8 1458.5,989.8 1459,994.8 1459.5,992.4 1459.9,994 1460.4,994.4 1460.9,993.7 1461.3,994 1461.8,994.5 1462.3,995.7 1462.7,994.6 1463.2,995.6 1463.7,994 1464.1,994 1464.6,994.7 1465.1,995.3 1465.6,995.6 1466,997.4 1466.5,996.2 1467,995.4 1467.4,997.8 1467.9,996 1468.4,996.2 1468.8,996.5 1469.3,995.6 1469.8,994.8 1470.2,996.4 1470.7,996 1471.2,995.5 1471.7,996.7 1472.1,996.5 1472.6,996.1 1473.1,994.8 1473.5,996.8 1474,999.1 1474.5,998.2 1474.9,998.5 1475.4,997.3 1475.9,998.7 1476.3,996.7 1476.8,997.1 1477.3,998.3 1477.8,996.1 1478.2,997.9 1478.7,998.2 1479.2,999.9 1479.6,997.2 1480.1,998.6 1480.6,997.4 1481,997.6 1481.5,995.1 1482,997.2 1482.5,999.7 1482.9,999 1483.4,998.6 1483.9,1001.4 1484.3,999.1 1484.8,997.1 1485.3,998.4 1485.7,998.6 1486.2,1000.5 1486.7,997.6 1487.1,999.2 1487.6,999.9 1488.1,997.8 1488.6,998.9 1489,996.4 1489.5,998.9 1490,996.2 1490.4,998.4 1490.9,1000.8 1491.4,999.3 1491.8,998.9 1492.3,999 1492.8,1001.4 1493.2,999.5 1493.7,1000 1494.2,998.3 1494.7,998.3 1495.1,997.6 1495.6,998.6 1496.1,998 1496.5,999.9 1497,999.5 1497.5,998.6 1497.9,998.1 1498.4,995.3 1498.9,997.9 1499.3,999 1499.8,999.3 1500.3,994.9 1500.8,995.7 1501.2,998.7 1501.7,997.2 1502.2,998.1 1502.6,997.8 1503.1,999 1503.6,996.1 1504,997.5 1504.5,999.2 1505,998.3 1505.5,997.1 1505.9,998.5 1506.4,998.3 1506.9,996.8 1507.3,998.6 1507.8,998.5 1508.3,997.5 1508.7,998.7 1509.2,996.2 1509.7,998.4 1510.1,997.2 1510.6,996.2 1511.1,996.6 1511.6,998.5 1512,996.5 1512.5,996.6 1513,996.2 1513.4,996 1513.9,997.9 1514.4,999.3 1514.8,998.2 1515.3,997.2 1515.8,997.4 1516.2,996 1516.7,995.7 1517.2,994.9 1517.7,997.8 1518.1,995.7 1518.6,995.2 1519.1,995.2 1519.5,996.1 1520,995.1 1520.5,995.7 1520.9,995.8 1521.4,997.1 1521.9,994 1522.3,995.7 1522.8,994.5 1523.3,994.7 1523.8,997.1 1524.2,995.8 1524.7,994.6 1525.2,995.5 1525.6,994.9 1526.1,996.2 1526.6,994.2 1527,995.3 1527.5,994.5 1528,994.7 1528.5,994.4 1528.9,993.9 1529.4,994.7 1529.9,995.7 1530.3,993.8 1530.8,994 1531.3,994.9 1531.7,993.6 1532.2,995.5 1532.7,995.3 1533.1,991.8 1533.6,993.7 1534.1,993.2 1534.6,995.4 1535,995.6 1535.5,993.1 1536,993.7 1536.4,994.5 1536.9,994.2 1537.4,995.5 1537.8,995.8 1538.3,995.4 1538.8,996.1 1539.2,995.9 1539.7,994.8 1540.2,994.5 1540.7,994.2 1541.1,996.1 1541.6,996.2 1542.1,996.4 1542.5,994.9 1543,994.9 1543.5,995.8 1543.9,997 1544.4,996.1 1544.9,996 1545.3,994.9 1545.8,996.4 1546.3,996.6 1546.8,995 1547.2,998.2 1547.7,995.2 1548.2,997.5 1548.6,996.2 1549.1,996.8 1549.6,995.8 1550,996.1 1550.5,997.7 1551,996.8 1551.4,996.7 1551.9,998.2 1552.4,998.1 1552.9,997.6 1553.3,997.7 1553.8,999.6 1554.3,997.5 1554.7,998.2 1555.2,998.4 1555.7,996.3 1556.1,995.8 1556.6,998.3 1557.1,999.3 1557.6,998.6 1558,997.8 1558.5,997.8 1559,999.6 1559.4,998.3 1559.9,996.9 1560.4,999.7 1560.8,999.2 1561.3,999.5 1561.8,1000.3 1562.2,1000.7 1562.7,999.9 1563.2,999.2 1563.7,997 1564.1,999.8 1564.6,999.4 1565.1,1001.2 1565.5,1001.2 1566,1000.3 1566.5,1001.4 1566.9,999.8 1567.4,999.9 1567.9,999.1 1568.3,999.8 1568.8,1000.4 1569.3,1001.5 1569.8,999.4 1570.2,1001.3 1570.7,1003.1 1571.2,998.9 1571.6,1000.2 1572.1,1000.6 1572.6,1001.8 1573,1003 1573.5,1002.1 1574,1000.7 1574.4,999.8 1574.9,1000.8 1575.4,1000.8 1575.9,1001.2 1576.3,999.9 1576.8,1002.8 1577.3,1000.2 1577.7,1001.9 1578.2,1001.4 1578.7,999.9 1579.1,1001.3 1579.6,1001.2 1580.1,1001 1580.6,1002.2 1581,1000.8 1581.5,1004.3 1582,1002.7 1582.4,1000.3 1582.9,998.5 1583.4,1002.9 1583.8,1001.7 1584.3,1001.6 1584.8,1000.4 1585.2,999.8 1585.7,999.4 1586.2,1004.5 1586.7,1003.4 1587.1,1000.9 1587.6,1003.8 1588.1,999.5 1588.5,1002.4 1589,1002.4 1589.5,1000.6 1589.9,1001.1 1590.4,1000.4 1590.9,1001.7 1591.3,1003.2 1591.8,1002.8 1592.3,1002.2 1592.8,1003 1593.2,999.6 1593.7,1004 1594.2,1001.6 1594.6,1000.1 1595.1,1001.2 1595.6,1000.9 1596,1001.8 1596.5,1002 1597,998.9 1597.4,1003.1 1597.9,1003.7 1598.4,1000.4 1598.9,1003.4 1599.3,1003.1 1599.8,1002.8 1600.3,1003.5 1600.7,1000 1601.2,1002.4 1601.7,1000.4 1602.1,1004.3 1602.6,1000.4 1603.1,1000.1 1603.6,1002.8 1604,1002.2 1604.5,1001.5 1605,1001.7 1605.4,1002.2 1605.9,1003.5 1606.4,1000.6 1606.8,1000.8 1607.3,1000.8 1607.8,1001.3 1608.2,1001.4 1608.7,999.9 1609.2,1001.7 1609.7,999.9 1610.1,1001 1610.6,1001 1611.1,1001 1611.5,1003 1612,1003.2 1612.5,1002.5 1612.9,1003.1 1613.4,1000.9 1613.9,1002.8 1614.3,1001.1 1614.8,1001.4 1615.3,1001.5 1615.8,999.5 1616.2,1000.4 1616.7,1000.9 1617.2,1001.5 1617.6,1000.9 1618.1,1000 1618.6,999.6 1619,1001 1619.5,999.6 1620,999.5 1620.4,1000.8 1620.9,1001.1 1621.4,999.9 1621.9,998.7 1622.3,1001.1 1622.8,1001.7 1623.3,1000.3 1623.7,1000.3 1624.2,998 1624.7,1001.7 1625.1,999.4 1625.6,1001.5 1626.1,999.9 1626.5,1000.4 1627,1000.3 1627.5,998.4 1628,1003.7 1628.4,998.6 1628.9,1000.5 1629.4,999.4 1629.8,1000.1 1630.3,1001.9 1630.8,998.1 1631.2,1000.1 1631.7,1000.8 1632.2,1000.3 1632.7,1000.6 1633.1,999.2 1633.6,998.1 1634.1,998.5 1634.5,999.5 1635,1000.8 1635.5,1000 1635.9,1001.7 1636.4,999.9 1636.9,1000 1637.3,1000 1637.8,997.6 1638.3,1000.3 1638.8,998.3 1639.2,999.1 1639.7,1002.3 1640.2,998 1640.6,999.5 1641.1,999.7 1641.6,999.4 1642,999.2 1642.5,998.5 1643,1001.5 1643.4,996.7 1643.9,997.8 1644.4,1000.7 1644.9,999.5 1645.3,997.9 1645.8,997.7 1646.3,998.4 1646.7,1001.8 1647.2,999.2 1647.7,997.3 1648.1,998.7 1648.6,997.6 1649.1,1000.1 1649.5,998.6 1650,999.6 1650.5,998.3 1651,1000.4 1651.4,998.4 1651.9,998.2 1652.4,996.5 1652.8,997.2 1653.3,998 1653.8,996.9 1654.2,1000.3 1654.7,997.3 1655.2,996.3 1655.7,998.3 1656.1,996.4 1656.6,997.4 1657.1,996.7 1657.5,995.8 1658,998.2 1658.5,996.6 1658.9,997.7 1659.4,995.9 1659.9,994.4 1660.3,994.5 1660.8,995.3 1661.3,995.6 1661.8,995.7 1662.2,996.1 1662.7,993.9 1663.2,995.5 1663.6,993.7 1664.1,994.2 1664.6,997.9 1665,996.2 1665.5,994.1 1666,996.5 1666.4,995.9 1666.9,995.2 1667.4,995.7 1667.9,993.5 1668.3,993.5 1668.8,992.4 1669.3,994 1669.7,991.6 1670.2,992.3 1670.7,993.3 1671.1,991.9 1671.6,992.8 1672.1,994.3 1672.5,990.8 1673,993.4 1673.5,990.7 1674,990.2 1674.4,991.4 1674.9,992.2 1675.4,989.9 1675.8,989.6 1676.3,989.7 1676.8,989.2 1677.2,990 1677.7,988.7 1678.2,989 1678.7,989.5 1679.1,988.3 1679.6,989.9 1680.1,987.5 1680.5,987.1 1681,990.2 1681.5,989.3 1681.9,987.3 1682.4,987.9 1682.9,987 1683.3,985.7 1683.8,986.9 1684.3,986.1 1684.8,987 1685.2,982.9 1685.7,985.8 1686.2,984.7 1686.6,983.3 1687.1,983.3 1687.6,983 1688,981.6 1688.5,982.1 1689,983.4 1689.4,980.3 1689.9,981.3 1690.4,978.5 1690.9,980.3 1691.3,981.1 1691.8,980.2 1692.3,980 1692.7,978.2 1693.2,979.8 1693.7,977.6 1694.1,979.5 1694.6,978.2 1695.1,977.1 1695.5,978.9 1696,976.2 1696.5,977.5 1697,976 1697.4,975.4 1697.9,976.2 1698.4,975.1 1698.8,974.1 1699.3,973.5 1699.8,973.5 1700.2,972.9 1700.7,971.9 1701.2,970.6 1701.6,968.2 1702.1,970.9 1702.6,970.2 1703.1,971.6 1703.5,970.2 1704,970.6 1704.5,970.9 1704.9,968.1 1705.4,966.7 1705.9,968.3 1706.3,966.1 1706.8,966.1 1707.3,967.8 1707.8,966.2 1708.2,966.4 1708.7,962.9 1709.2,964.2 1709.6,965.1 1710.1,961.7 1710.6,963.1 1711,962.9 1711.5,959.1 1712,963.6 1712.4,960.3 1712.9,960.6 1713.4,962.5 1713.9,957.7 1714.3,960.2 1714.8,958.7 1715.3,959 1715.7,957.5 1716.2,960 1716.7,956.5 1717.1,958 1717.6,958 1718.1,956.9 1718.5,956.4 1719,956.1 1719.5,957.5 1720,956.6 1720.4,955.7 1720.9,954.2 1721.4,955.6 1721.8,955.9 1722.3,955.1 1722.8,956.8 1723.2,952.4 1723.7,957.9 1724.2,954.4 1724.6,953.2 1725.1,952.3 1725.6,955.7 1726.1,955.3 1726.5,954.3 1727,954.5 1727.5,954.8 1727.9,954.1 1728.4,956.2 1728.9,955.7 1729.3,954.8 1729.8,953 1730.3,957 1730.8,954.8 1731.2,954.3 1731.7,957.4 1732.2,956.6 1732.6,953.6 1733.1,954.3 1733.6,956.2 1734,955.3 1734.5,957 1735,960.8 1735.4,961.6 1735.9,958.1 1736.4,959.4 1736.9,959.9 1737.3,958.9 1737.8,957.5 1738.3,961.2 1738.7,959.9 1739.2,961.1 1739.7,961.8 1740.1,960.2 1740.6,963.8 1741.1,962.1 1741.5,962.7 1742,962.3 1742.5,964.1 1743,964.9 1743.4,963.3 1743.9,965.2 1744.4,964.3 1744.8,963.7 1745.3,965.2 1745.8,966.8 1746.2,967.1 1746.7,968.2 1747.2,966.4 1747.6,967.2 1748.1,968.1 1748.6,969.2 1749.1,968.6 1749.5,968 1750,967.6 1750.5,971.4 1750.9,971.6 1751.4,969.8 1751.9,972.9 1752.3,971.3 1752.8,972.3 1753.3,973.7 1753.8,971.8 1754.2,971.8 1754.7,970.9 1755.2,973.8 1755.6,974.2 1756.1,975.1 1756.6,975 1757,974.7 1757.5,976.3 1758,973.8 1758.4,975.9 1758.9,976.3 1759.4,975.7 1759.9,978.3 1760.3,976.9 1760.8,978.2 1761.3,977.9 1761.7,976.7 1762.2,979.6 1762.7,978.7 1763.1,977.5 1763.6,977.5 1764.1,976.5 1764.5,977.8 1765,977.8 1765.5,978.5 1766,977.8 1766.4,979.2 1766.9,978.4 1767.4,976.6 1767.8,978.1 1768.3,977.6 1768.8,977.2 1769.2,978.5 1769.7,980 1770.2,977.5 1770.6,976.4 1771.1,978.7 1771.6,982.7 1772.1,978.2 1772.5,979.2 1773,978.3 1773.5,979.9 1773.9,980.5 1774.4,978.4 1774.9,980.1 1775.3,977.1 1775.8,978.6 1776.3,976.7 1776.7,978.4 1777.2,977.2 1777.7,978.2 1778.2,976.3 1778.6,977.9 1779.1,977.5 1779.6,976.5 1780,976 1780.5,975.4 1781,976.2 1781.4,977 1781.9,976.1 1782.4,976.3 1782.9,977.5 1783.3,975.2 1783.8,975.8 1784.3,976.2 1784.7,975.6 1785.2,975.2 1785.7,974.6 1786.1,976.7 1786.6,973.9 1787.1,973.2 1787.5,974.2 1788,975.3 1788.5,974.7 1789,972.7 1789.4,973.5 1789.9,972.8 1790.4,972 1790.8,972.5 1791.3,972.2 1791.8,971.3 1792.2,973 1792.7,970.1 1793.2,972.1 1793.6,972.8 1794.1,972.5 1794.6,969.9 1795.1,969.1 1795.5,967.1 1796,968.8 1796.5,971.8 1796.9,966.5 1797.4,966.3 1797.9,969.2 1798.3,968.7 1798.8,965.4 1799.3,967.5 1799.7,967.9 1800.2,965.3 1800.7,968.4 1801.2,965.3 1801.6,968.3 1802.1,967 1802.6,965.7 1803,964.5 1803.5,966 1804,966.3 1804.4,966.1 1804.9,965.5 1805.4,965.9 1805.9,967.2 1806.3,964.9 1806.8,965.7 1807.3,966.6 1807.7,965.9 1808.2,967 1808.7,967.9 1809.1,965.4 1809.6,966.1 1810.1,961.9 1810.5,965.3 1811,966.6 1811.5,964.2 1812,967.4 1812.4,963.2 1812.9,967.3 1813.4,964.8 1813.8,964.1 1814.3,964.8 1814.8,965 1815.2,964 1815.7,963.4 1816.2,964.5 1816.6,966.3 1817.1,965.5 1817.6,966.7 1818.1,964 1818.5,964.2 1819,964.1 1819.5,964.6 1819.9,964.9 1820.4,966.5 1820.9,965 1821.3,964.1 1821.8,965.5 1822.3,962.5 1822.7,961.6 1823.2,964 1823.7,963.2 1824.2,962.9 1824.6,963.7 1825.1,961.8 1825.6,961.9 1826,962.3 1826.5,962.4 1827,962.6 1827.4,961.2 1827.9,961.1 1828.4,957.2 1828.9,961.8 1829.3,957.7 1829.8,959.5 1830.3,962.6 1830.7,958.4 1831.2,956.4 1831.7,960.3 1832.1,957.1 1832.6,957.3 1833.1,956.9 1833.5,957.7 1834,957.4 1834.5,955.9 1835,957.1 1835.4,954 1835.9,955.8 1836.4,953.6 1836.8,955 1837.3,952.8 1837.8,952.7 1838.2,954.9 1838.7,951 1839.2,950.5 1839.6,952.4 1840.1,950.9 1840.6,950.3 1841.1,950.2 1841.5,952.9 1842,948.2 1842.5,948.9 1842.9,949.1 1843.4,947.2 1843.9,948 1844.3,948.3 1844.8,946.1 1845.3,948.4 1845.7,945 1846.2,946 1846.7,946.3 1847.2,949.8 1847.6,942.8 1848.1,945.2 1848.6,948 1849,943.4 1849.5,945.4 1850,943.9 1850.4,941.4 1850.9,943.6 1851.4,941.6 1851.8,942.7 1852.3,940.3 1852.8,943.1 1853.3,938.6 1853.7,941.5 1854.2,943.4 1854.7,942.1 1855.1,940.8 1855.6,940.8 1856.1,940.5 1856.5,944.7 1857,940.8 1857.5,940.8 1858,939.8 1858.4,940.1 1858.9,941.6 1859.4,940 1859.8,939.7 1860.3,940.1 1860.8,940.5 1861.2,941.3 1861.7,940.5 1862.2,941 1862.6,940.4 1863.1,943.2 1863.6,941.8 1864.1,941.5 1864.5,942.5 1865,942.3 1865.5,940.4 1865.9,942.6 1866.4,945.4 1866.9,944.1 1867.3,945.3 1867.8,943.1 1868.3,942.3 1868.7,943.7 1869.2,946.9 1869.7,944 1870.2,944.7 1870.6,947.7 1871.1,946.2 1871.6,946.7 1872,947.9 1872.5,947.9 1873,947.8 1873.4,949 1873.9,948.2 1874.4,949.6 1874.8,951 1875.3,949.1 1875.8,950.8 1876.3,950 1876.7,953.1 1877.2,953.4 1877.7,954.3 1878.1,954.9 1878.6,955.4 1879.1,955.5 1879.5,954 1880,956.8 1880.5,954.8 1881,959.7 1881.4,957.5 1881.9,958.4 1882.4,956.4 1882.8,960 1883.3,960.6 1883.8,957.4 1884.2,959.3 1884.7,959.9 1885.2,960.1 1885.6,963.3 1886.1,964.9 1886.6,960.9 1887.1,964.2 1887.5,962.9 1888,965.6 1888.5,960.8 1888.9,964 1889.4,966.6 1889.9,964.3 1890.3,967.4 1890.8,965.4 1891.3,968 1891.7,967.6 1892.2,966.6 1892.7,966.5 1893.2,967.7 1893.6,969.8 1894.1,968.5 1894.6,967.9 1895,973.6 1895.5,967.2 1896,969.3 1896.4,970.6 1896.9,968.7 1897.4,970.3 1897.8,970 1898.3,968.8 1898.8,971.6 1899.3,969.6 1899.7,970.3 1900.2,973.2 1900.7,970.2 1901.1,972.6 1901.6,973.5 1902.1,973.4 1902.5,972.8 1903,971.9 1903.5,970.4 1904,972.6 1904.4,973 1904.9,971.8 1905.4,971.2 1905.8,973.7 1906.3,971.2 1906.8,973.2 1907.2,972 1907.7,970.3 1908.2,974.7 1908.6,973.4 1909.1,973.2 1909.6,970.6 1910.1,972.2 1910.5,972.7 1911,971.3 1911.5,974.4 1911.9,969.4 1912.4,973 1912.9,969.4 1913.3,969.7 1913.8,970 1914.3,972.4 1914.7,970.5 1915.2,970.5 1915.7,970 1916.2,969.1 1916.6,969.8 1917.1,969.5 1917.6,970.2 1918,970 1918.5,967.2 1919,969.4 1919.4,971.7 1919.9,969.3 1920.4,969.7 1920.8,968.7 1921.3,968.6 1921.8,969.3 1922.3,967.4 1922.7,968.9 1923.2,966.7 1923.7,969.3 1924.1,966.6 1924.6,969.5 1925.1,969.8 1925.5,966.2 1926,969.2 1926.5,967.6 1926.9,969.6 1927.4,967.3 1927.9,967.5 1928.4,967.4 1928.8,969.4 1929.3,965.1 1929.8,968.7 1930.2,967.8 1930.7,967 1931.2,967.3 1931.6,968.8 1932.1,968.7 1932.6,969.9 1933.1,966.8 1933.5,965.1 1934,967 1934.5,967.5 1934.9,967.3 1935.4,969.5 1935.9,971 1936.3,968.6 1936.8,965.8 1937.3,969.7 1937.7,967.6 1938.2,968.7 1938.7,969.9 1939.2,969.4 1939.6,969 1940.1,969.7 1940.6,970.5 1941,970.5 1941.5,972.7 1942,966.2 1942.4,969.3 1942.9,969.9 1943.4,972 1943.8,971.4 1944.3,972.5 1944.8,969.8 1945.3,971.7 1945.7,973.1 1946.2,972.5 1946.7,972.3 1947.1,973.5 1947.6,975.7 1948.1,971.1 1948.5,976.2 1949,974.8 1949.5,973.7 1949.9,976 1950.4,975.6 1950.9,977.4 1951.4,975.2 1951.8,977.8 1952.3,975.7 1952.8,977.7 1953.2,978.5 1953.7,977.9 1954.2,979.2 1954.6,977.9 1955.1,980.4 1955.6,978.8 1956.1,978.9 1956.5,980 1957,980.4 1957.5,979.8 1957.9,982.3 1958.4,981.4 1958.9,982.7 1959.3,980.4 1959.8,980.9 1960.3,982.6 1960.7,982.1 1961.2,983.5 1961.7,984.7 1962.2,985.8 1962.6,986.5 1963.1,986 1963.6,984.4 1964,986.3 1964.5,985.3"/>
</g>
</svg>
</body></html>
